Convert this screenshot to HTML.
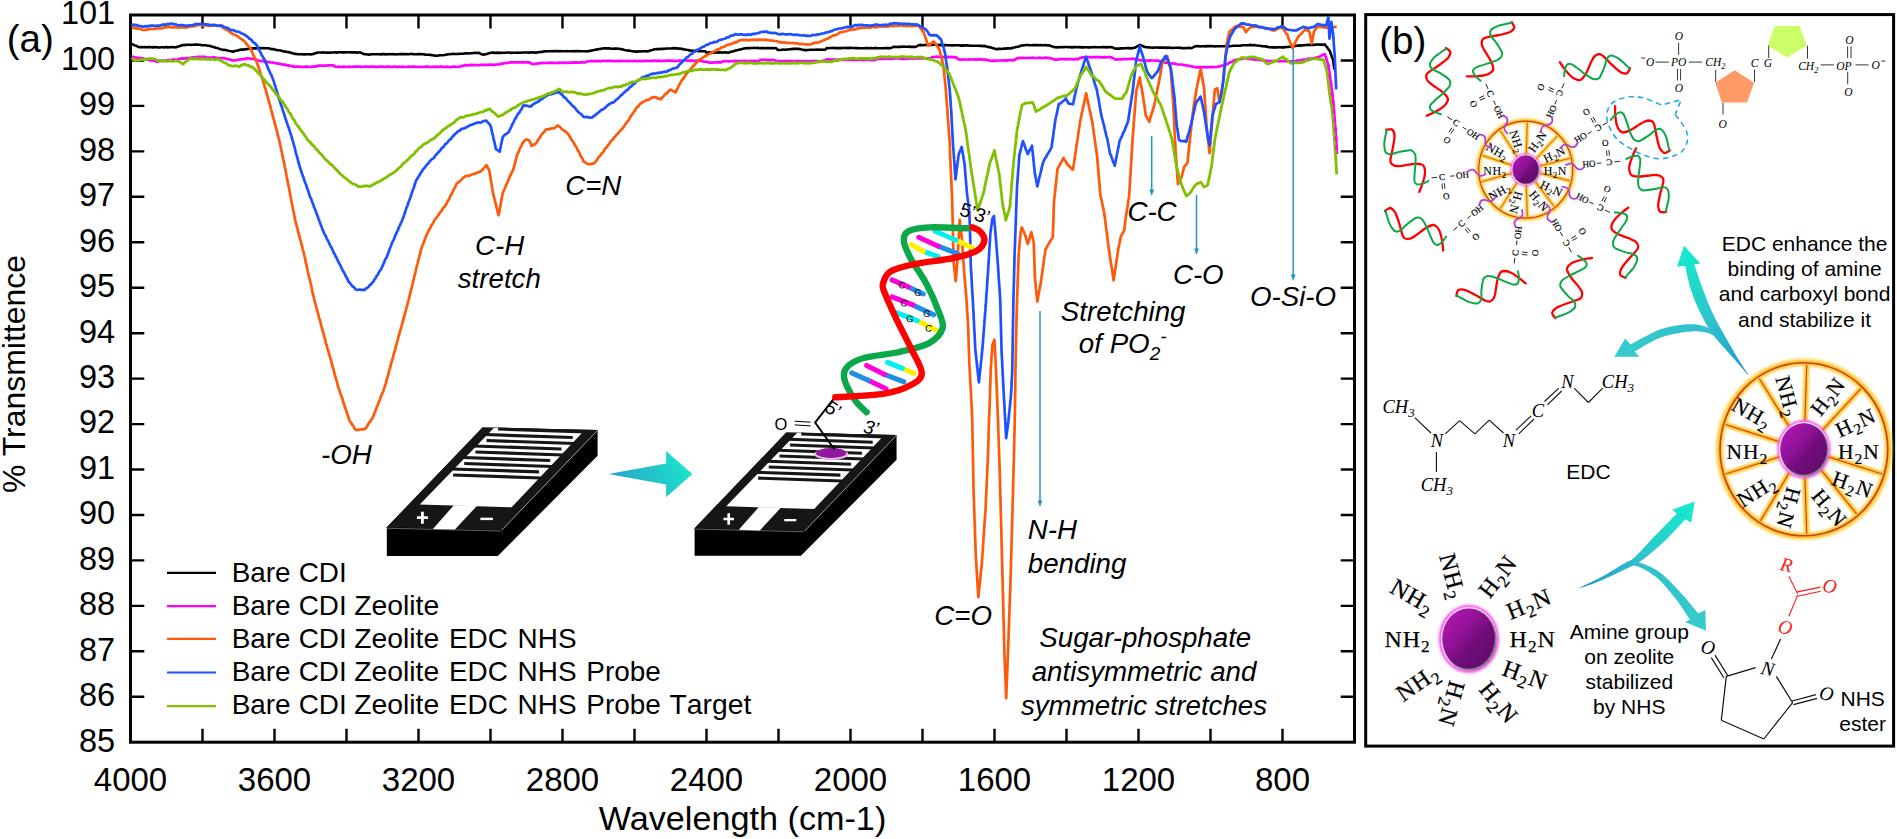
<!DOCTYPE html>
<html><head><meta charset="utf-8"><title>FTIR spectra and EDC/NHS scheme</title>
<style>html,body{margin:0;padding:0;background:#fff}svg{display:block}</style></head><body>
<svg width="1897" height="839" viewBox="0 0 1897 839">
<defs>
<linearGradient id="gArrow" x1="0" y1="0.6" x2="1" y2="0.3"><stop offset="0" stop-color="#2a9fc8"/><stop offset="1" stop-color="#1be8cc"/></linearGradient>
<radialGradient id="gBall" cx="0.35" cy="0.3" r="0.9"><stop offset="0" stop-color="#b314b4"/><stop offset="0.45" stop-color="#860f8c"/><stop offset="1" stop-color="#5a0a63"/></radialGradient>
<linearGradient id="gBallL" x1="0" y1="0" x2="1" y2="1"><stop offset="0" stop-color="#b818ba"/><stop offset="0.42" stop-color="#8e1194"/><stop offset="0.58" stop-color="#720d7a"/><stop offset="1" stop-color="#5e0a67"/></linearGradient>
<linearGradient id="gA1" gradientUnits="userSpaceOnUse" x1="1749" y1="376" x2="1684" y2="246"><stop offset="0" stop-color="#1b94cc"/><stop offset="0.45" stop-color="#2fc2cc"/><stop offset="1" stop-color="#14eccc"/></linearGradient>
<linearGradient id="gA2" gradientUnits="userSpaceOnUse" x1="1749" y1="376" x2="1614" y2="356"><stop offset="0" stop-color="#1b94cc"/><stop offset="0.3" stop-color="#2fbfcc"/><stop offset="1" stop-color="#36cccc"/></linearGradient>
<linearGradient id="gA3" gradientUnits="userSpaceOnUse" x1="1578" y1="588" x2="1695" y2="502"><stop offset="0" stop-color="#1b94cc"/><stop offset="0.45" stop-color="#2fc2cc"/><stop offset="1" stop-color="#14eccc"/></linearGradient>
<linearGradient id="gA4" gradientUnits="userSpaceOnUse" x1="1578" y1="588" x2="1706" y2="630"><stop offset="0" stop-color="#1b94cc"/><stop offset="0.35" stop-color="#2fbfcc"/><stop offset="1" stop-color="#36cccc"/></linearGradient>
<filter id="blur0" x="-20%" y="-20%" width="140%" height="140%"><feGaussianBlur stdDeviation="0.7"/></filter>
<filter id="blur1" x="-20%" y="-20%" width="140%" height="140%"><feGaussianBlur stdDeviation="1.2"/></filter>
<filter id="blur2" x="-20%" y="-20%" width="140%" height="140%"><feGaussianBlur stdDeviation="2"/></filter>
</defs>
<rect width="1897" height="839" fill="#fff"/>
<g id="chart">
<rect x="130.5" y="15" width="1224" height="727.2" fill="none" stroke="#000" stroke-width="3"/>
<path d="M202.5 15v13.5M202.5 742.2v-13.5M274.5 15v13.5M274.5 742.2v-13.5M346.5 15v13.5M346.5 742.2v-13.5M418.5 15v13.5M418.5 742.2v-13.5M490.5 15v13.5M490.5 742.2v-13.5M562.5 15v13.5M562.5 742.2v-13.5M634.5 15v13.5M634.5 742.2v-13.5M706.5 15v13.5M706.5 742.2v-13.5M778.5 15v13.5M778.5 742.2v-13.5M850.5 15v13.5M850.5 742.2v-13.5M922.5 15v13.5M922.5 742.2v-13.5M994.5 15v13.5M994.5 742.2v-13.5M1066.5 15v13.5M1066.5 742.2v-13.5M1138.5 15v13.5M1138.5 742.2v-13.5M1210.5 15v13.5M1210.5 742.2v-13.5M1282.5 15v13.5M1282.5 742.2v-13.5M130.5 696.8h13.8M1354.5 696.8h-13.8M130.5 651.3h13.8M1354.5 651.3h-13.8M130.5 605.9h13.8M1354.5 605.9h-13.8M130.5 560.4h13.8M1354.5 560.4h-13.8M130.5 515h13.8M1354.5 515h-13.8M130.5 469.5h13.8M1354.5 469.5h-13.8M130.5 424.1h13.8M1354.5 424.1h-13.8M130.5 378.6h13.8M1354.5 378.6h-13.8M130.5 333.2h13.8M1354.5 333.2h-13.8M130.5 287.7h13.8M1354.5 287.7h-13.8M130.5 242.2h13.8M1354.5 242.2h-13.8M130.5 196.8h13.8M1354.5 196.8h-13.8M130.5 151.4h13.8M1354.5 151.4h-13.8M130.5 105.9h13.8M1354.5 105.9h-13.8M130.5 60.5h13.8M1354.5 60.5h-13.8" stroke="#000" stroke-width="2.4" fill="none"/>
<polyline fill="none" stroke="#000" stroke-width="2.6" stroke-linejoin="round" points="131.6,44 133.2,44.6 134.8,45.4 136.3,45.8 137.9,46.7 139.5,47.2 141.2,47.1 142.8,47.3 144.5,47.1 146.1,47.3 147.8,47.1 149.5,47.1 151.1,47.3 152.8,47.4 154.4,47.1 156.1,47.2 157.8,47.4 159.4,47.5 161.1,47.3 162.7,47.3 164.4,47.5 166,47.1 167.7,47.4 169.4,47.2 171,47.2 172.7,47.1 174.3,47.2 176,47.4 177.6,46.6 179.2,46.3 180.7,45.8 182.3,45.1 184.1,45.1 185.9,44.9 187.7,44.8 189.4,44.8 191.2,44.9 193,44.7 194.8,44.6 196.6,44.6 198.4,44.7 200.2,44.8 202,45.2 203.9,45.3 205.7,45.3 207.5,45.6 209.3,45.7 210.9,46.3 212.5,46.8 214.1,47.1 215.7,47.8 217.2,48 218.8,48.6 220.4,49.2 222,49.5 223.8,49.9 225.7,50 227.5,50.6 229.3,51 231.2,51.2 233,51.7 234.6,51 236.2,50.8 237.8,50.4 239.4,50 241,49.6 242.8,49.6 244.5,49.4 246.3,49.1 248,49 249.8,48.5 251.5,48.6 253.3,48.4 255,48.4 256.8,48.1 258.4,48 260,48.1 261.6,48.2 263.2,48 264.8,48.3 266.4,48.2 268,48.2 269.6,48.5 271.2,49.1 272.7,49.1 274.3,49.4 275.9,49.8 277.5,50.2 279.1,50.2 280.7,50.6 282.2,51 283.8,51.4 285.4,51.6 287,52 288.5,52.1 290.1,52.6 291.7,52.9 293.3,53.5 294.9,53.9 296.4,53.9 298,54.3 299.8,54.3 301.6,54.3 303.4,54.4 305.1,54.4 306.9,54.3 308.7,54.2 310.5,54.4 312.3,54.3 313.9,53.8 315.4,53.3 317,52.6 318.7,52.5 320.3,52.5 322,52.6 323.6,52.3 325.3,52.7 326.9,52.6 328.6,52.6 330.2,52.6 331.9,52.5 333.5,52.5 335.2,52.3 336.8,52.6 338.5,52.3 340.2,52.3 341.8,52.4 343.5,52.4 345.1,52.4 346.8,52.3 348.4,52.3 350.1,52.4 351.7,52.3 353.4,52.4 355,52.3 356.7,52.6 358.3,52.5 360,52.4 361.6,53 363.1,53.7 364.7,54.3 366.3,54.2 368,54.5 369.6,54.6 371.2,54.3 372.8,54.3 374.5,54.2 376.1,54.2 377.7,54.2 379.3,54.2 381,54.4 382.6,54.1 384.2,54.1 385.8,54.4 387.5,54.2 389.1,54.1 390.7,54.2 392.4,54 394,54.2 395.6,54.4 397.2,54.3 398.9,54.2 400.5,54 402.1,54.1 403.7,54 405.4,54.2 407,54.1 408.6,54.2 410.2,54 411.9,53.9 413.5,54.2 415.1,54.2 416.7,54.2 418.4,54.1 420,54.1 421.8,54.3 423.5,54.3 425.3,54.6 427.1,54.7 428.8,54.8 430.6,54.9 432.4,55.2 434.1,55.4 435.9,55.8 437.7,55.7 439.4,55.3 441.2,55.3 442.9,55.2 444.7,55 446.4,54.6 448.2,54.3 449.9,54.2 451.7,54 453.4,53.9 455.1,54 456.8,54 458.4,53.9 460.1,53.7 461.8,53.7 463.5,53.7 465.2,53.3 466.9,53.4 468.6,53.5 470.3,53.3 471.9,53.2 473.6,53 475.3,52.8 477,53 478.7,52.7 480.3,53.6 481.8,54.3 483.4,54.7 485,54.3 486.6,54.1 488.1,53.6 489.7,53 491.3,52.7 492.9,52.6 494.6,52.9 496.2,52.9 497.9,52.6 499.5,52.9 501.2,52.9 502.8,52.8 504.4,52.7 506.1,52.7 507.7,52.5 509.4,52.5 511,52.9 512.7,52.7 514.3,52.7 515.9,52.8 517.6,52.6 519.2,52.8 520.9,52.7 522.5,52.5 524.2,52.5 525.8,52.5 527.4,52.5 529.1,52.6 530.7,52.4 532.4,52.5 534,52.4 535.7,52.7 537.3,52.4 538.9,52.2 540.5,52 542.1,51.9 543.7,51.4 545.3,51.4 546.9,51.2 548.6,51.2 550.2,51.2 551.9,51 553.5,51.2 555.2,51.1 556.8,51 558.5,51.3 560.1,51.1 561.8,51.2 563.4,51.3 565.1,51.2 566.7,51.1 568.3,51.2 570,51.2 571.6,51.3 573.3,51 574.9,51.2 576.6,51.1 578.2,51.1 579.9,51.3 581.5,51.2 583.2,51.2 584.8,51.3 586.5,51.4 588.1,51.2 589.7,50.9 591.3,50.6 592.8,50.3 594.4,50 596,49.6 597.6,49.4 599.2,49 600.7,48.9 602.3,48.5 603.9,48.3 605.7,48.4 607.5,48.2 609.3,48.4 611,48.6 612.8,48.7 614.6,48.5 616.4,48.6 618.2,48.8 619.8,48.9 621.4,49.2 622.9,49.4 624.5,49.9 626.1,50.3 627.7,50.6 629.3,50.6 630.8,51 632.4,51.3 634,51.4 635.8,51.6 637.6,51.6 639.4,51.3 641.1,51.5 642.9,51.3 644.7,51.3 646.5,51.4 648.3,51.3 649.9,50.6 651.5,50.2 653.1,49.8 654.7,49.2 656.4,49.1 658.1,49 659.8,49.1 661.5,48.7 663.2,48.9 664.9,48.7 666.7,48.5 668.4,48.5 670.1,48.5 671.8,48.4 673.5,48.1 675.2,48.4 676.9,48.2 678.5,48.6 680,48.5 681.6,48.9 683.2,49.1 684.8,49.6 686.4,49.7 687.9,50 689.5,50.4 691.3,50.7 693,50.8 694.8,50.7 696.6,50.7 698.3,51.2 700.1,51.2 701.9,51.3 703.6,51.2 705.4,51.3 706.3,52.6 708,52.5 709.7,52.3 711.4,52.7 713.1,52.6 714.8,52.6 716.5,52.3 718.3,52.6 720,52.3 721.7,52.6 723.4,52.5 725.1,52.4 726.8,52.5 728.5,52.7 730.1,52 731.7,51.6 733.3,51.3 734.9,50.8 736.5,50.3 738,50 739.6,49.5 741.2,49.2 742.8,48.8 744.4,48.4 746,48.2 747.7,48 749.3,48.1 751,48 752.7,48 754.4,47.9 756,48 757.7,47.9 759.4,48.2 761,48.1 762.7,48 764.4,48.1 766.1,48.3 767.7,47.9 769.4,48.2 771.1,48.1 772.8,48.1 774.4,48.2 776.1,48.1 777.7,50 779.4,50 781.1,50 782.9,49.6 784.6,49.7 786.3,49.6 788,49.5 789.7,49.3 791.4,49.1 793.1,48.9 794.9,48.9 796.6,48.7 798.3,48.9 799.9,49.1 801.5,49.5 803.1,49.8 804.8,50.1 806.5,50.1 808.2,50 809.9,49.8 811.6,49.7 813.3,49.7 815.1,49.8 816.8,49.6 818.5,49.7 820.2,49.6 821.9,49.8 823.6,49.8 825.3,49.6 826.8,48 828.4,48.3 830.1,48 831.7,48 833.3,47.9 834.9,48.1 836.6,48.1 838.2,48.1 839.8,48 841.5,48.1 843.1,47.9 844.7,48 846.3,47.9 848,48.1 849.6,47.9 851.2,47.9 852.9,48 854.5,48 856.1,48.1 857.7,48.1 859.4,48.2 861,48.2 862.6,48.2 864.2,48.3 865.9,48.1 867.5,48 869.1,48.3 870.8,48 872.4,48.2 874,48.2 875.6,47.9 877.3,48.2 878.9,48.3 880.5,48.2 882.2,48.2 883.8,48.2 885.4,48 887,48.1 888.7,48.1 890.3,48.2 891.8,47.6 893.4,46.9 895.1,46.8 896.8,47 898.5,46.9 900.2,46.9 901.9,46.7 903.6,46.6 905.4,46.7 907.1,46.7 908.8,46.6 910.5,46.9 912.2,46.8 913.9,46.9 915.6,46.9 917.2,46.1 918.8,45.2 920.4,44.9 922,45.2 923.6,45.1 925.2,45 926.8,44.9 928.4,44.9 930,44.6 931.6,44.9 933.2,44.8 934.8,44.7 936.4,44.8 938.1,45.1 939.7,44.9 941.3,45.1 942.9,45.3 944.5,45.1 946.1,45.1 947.7,45.2 949.3,45.3 951,45.4 952.6,45.3 954.2,45.4 955.8,45.2 957.4,45.3 959,45.3 960.6,45.6 962.2,45.4 963.8,45.6 965.5,45.4 967.1,45.4 968.7,45.6 970.3,45.8 971.9,45.8 973.5,45.8 975.1,45.7 976.7,45.8 978.4,45.8 980,45.9 981.6,45.8 983.2,46.1 984.8,45.9 986.5,46.6 988.2,47.1 989.9,47.1 991.6,47.8 993.3,48.3 995,48.8 996.7,49.1 998.5,48.9 1000.3,48.8 1002.1,49 1003.9,48.6 1005.6,48.6 1007.4,48.4 1009.2,48.4 1011,48.5 1012.7,47.7 1014.4,47.5 1016.1,47 1017.9,46.7 1019.6,46.2 1021.3,45.5 1023,45.4 1024.6,45.2 1026.3,45 1027.9,45 1029.5,45.2 1031.2,45.2 1032.8,45.1 1034.5,45.1 1036.1,45.1 1037.7,45.1 1039.4,45.3 1041,45 1042.7,45.3 1044.3,45.3 1045.9,45 1047.6,45.4 1049.2,45.3 1050.8,46 1052.4,46.4 1054,47.1 1055.6,47.2 1057.3,47.4 1058.9,47.2 1060.5,47.1 1062.2,47.2 1063.8,47.1 1065.4,47 1067.1,47 1068.7,47.3 1070.3,47.1 1072,47.4 1073.6,47.1 1075.2,47.1 1076.9,47.2 1078.5,47.1 1080.1,47.1 1081.8,47.4 1083.4,47.4 1085.1,47.3 1086.7,47.3 1088.3,47.4 1090,47.4 1091.6,47.2 1093.2,47.3 1094.9,47 1096.5,47.3 1098.1,47.2 1099.8,47.3 1101.4,47.3 1103,47.1 1104.7,47 1106.3,47.4 1107.9,47.1 1109.6,47.2 1111.2,47.1 1112.8,47.6 1114.3,48.2 1115.9,48.8 1117.5,48.5 1119.2,48.6 1120.8,48.4 1122.4,48.4 1124,48.3 1125.7,48.2 1127.3,48.1 1128.9,48.1 1130.5,48.4 1132.2,48.1 1133.8,48 1135.3,47.5 1136.8,46.7 1138.3,45.8 1139.8,44.9 1141.3,45.5 1142.8,46 1144.3,46.7 1145.8,47.2 1147.4,47.3 1149,47.4 1150.6,47.5 1152.3,47.7 1153.9,47.6 1155.5,47.5 1157.1,47.5 1158.7,47.6 1160.3,47.6 1161.9,47.6 1163.6,47.5 1165.2,47.6 1166.8,47.9 1168.4,47.6 1170,47.8 1171.6,47.9 1173.2,48 1174.9,47.7 1176.5,47.8 1178.1,47.8 1179.7,47.9 1181.3,47.9 1182.9,48.2 1184.5,48.1 1186.2,48.2 1187.8,47.9 1189.4,47.9 1191,48.2 1192.6,47.6 1194.2,46.8 1195.8,46.2 1197.4,46 1199.1,46.2 1200.7,46.4 1202.3,46.3 1204,46.3 1205.6,46.4 1207.2,46.1 1208.9,46 1210.5,46.1 1212.1,46.2 1213.7,46.3 1215.4,46.4 1217,46.3 1218.6,46.3 1220.3,46.3 1221.9,46.2 1223.5,46.2 1225.2,46 1226.8,46.3 1228.5,46 1230.2,46.2 1231.9,46 1233.6,45.8 1235.3,45.7 1237,45.7 1238.7,45.8 1240.4,45.7 1242.1,45.3 1243.8,45.2 1245.5,45.3 1247.2,45.2 1248.9,45.1 1250.6,44.9 1252.2,45.2 1253.8,45 1255.4,45.3 1257,45.5 1258.6,45.8 1260.2,45.8 1261.9,46.1 1263.6,46.2 1265.3,46.4 1267,46.6 1268.7,47.2 1270.4,47.3 1272.1,47.4 1273.7,47.3 1275.3,47.4 1277,47.5 1278.6,47.3 1280.2,47.2 1281.8,47.4 1283.5,47.4 1285.1,47.1 1286.7,47 1288.3,46.9 1289.9,46.7 1291.5,46.5 1293,46.1 1294.6,46.1 1296.2,45.8 1297.9,45.6 1299.7,45.4 1301.4,45.6 1303.1,45.2 1304.8,45.3 1306.5,44.9 1308.3,44.8 1310,44.9 1311.6,44.7 1313.3,44.9 1314.9,44.7 1316.6,44.5 1318.2,44.5 1319.9,44.6 1321.5,44.6 1323.2,44.7 1324.8,44.4 1326,46 1327.2,47.4 1328.3,49.2 1329.5,50.4 1330.1,51.9 1330.7,53.5 1331.3,55.2 1331.9,57 1332.5,58.6 1333.1,60.1 1333.3,62.1 1333.6,64 1333.8,65.6 1334.1,67.5 1334.3,69.7"/>
<polyline fill="none" stroke="#ff00ff" stroke-width="2.7" stroke-linejoin="round" points="131.6,56.9 133.2,56.8 134.8,57.4 136.4,57.5 138,57.8 139.5,58 141.1,58.2 142.7,58.4 144.3,58.8 145.9,59.1 147.5,59.8 149.1,59.7 150.7,60.4 152.2,60.4 153.8,60.8 155.4,61.3 157,61.7 158.7,61.3 160.4,60.9 162.2,60.9 163.9,60.7 165.6,60.8 167.3,60.2 169,60.1 170.7,60.2 172.4,59.5 174.2,59.5 175.9,59.5 177.6,59.3 179.3,58.8 181,58.6 182.7,58.4 184.4,58.7 186.1,58.2 187.8,58.2 189.6,58.1 191.3,57.6 193,57.4 194.7,57.6 196.4,57.2 198.1,56.9 199.8,56.9 201.5,56.8 203.2,56.9 204.8,56.9 206.5,57.4 208.2,57.5 209.9,57.5 211.6,57.8 213.2,57.4 214.9,57.6 216.6,57.9 218.3,58.2 220,58.3 221.6,58.1 223.3,58.2 225,58.4 226.6,58.8 228.2,59.4 229.8,59.4 231.4,60.2 233,60.5 234.6,60.4 236.2,60.1 237.8,59.9 239.4,59.5 241,59.3 242.6,59.1 244.2,59.1 245.8,58.6 247.4,58.4 249,58.5 250.6,58.6 252.2,58.8 253.7,59.1 255.3,59.7 256.9,59.9 258.5,60.5 260.1,60.8 261.6,61.1 263.2,61.1 264.8,61.3 266.6,61.6 268.3,62 270.1,62.4 271.8,62.5 273.6,62.7 275.3,63.1 277.1,63.4 278.8,63.7 280.6,64 282.2,64.4 283.8,64.6 285.4,64.7 287,65.4 288.6,65.4 290.2,65.9 291.8,66.1 293.4,66.6 295,66.6 296.7,66.7 298.5,66.7 300.2,66.6 301.9,67 303.6,66.8 305.4,66.7 307.1,66.7 308.8,67 310.6,66.8 312.3,66.7 313.9,66.7 315.5,66.4 317.1,66.3 318.7,65.6 320.3,65.5 322.1,65.7 323.9,65.7 325.7,65.7 327.6,65.3 329.4,65.4 331.2,65.3 333,65.3 334.5,66.4 336,66.8 337.6,67 339.2,66.7 340.8,67 342.4,66.8 344,66.7 345.6,66.9 347.2,67 348.8,66.6 350.4,66.8 352.1,66.9 353.7,66.7 355.3,66.7 356.9,66.6 358.5,66.7 360.1,66.7 361.7,66.8 363.3,66.9 364.9,66.7 366.5,66.6 368.1,66.7 369.7,66.9 371.3,66.6 372.9,66.7 374.5,66.7 376.1,66.9 377.7,66.8 379.3,66.6 380.9,66.6 382.6,66.7 384.2,66.8 385.8,66.9 387.4,66.6 389,66.6 390.6,66.9 392.2,66.8 393.8,66.7 395.4,66.7 397,67 398.6,66.7 400.2,66.8 401.8,66.7 403.4,66.8 405,67 406.6,67 408.2,66.7 409.8,66.6 411.4,66.9 413,66.7 414.7,66.6 416.3,67 417.9,66.8 419.5,67 421.1,66.8 422.7,67 424.3,66.8 425.9,66.6 427.5,66.6 429.1,66.8 430.7,66.9 432.3,67 433.9,66.6 435.5,66.9 437.1,66.7 438.7,66.8 440.3,66.6 441.9,66.7 443.5,66.8 445.2,67 446.8,66.6 448.4,66.8 450,67 451.6,67 453.2,66.6 454.8,66.6 456.4,67 458,67 459.6,66.8 461.2,66 462.8,65.9 464.4,65.1 466.1,65.4 467.7,65.2 469.4,65.3 471.1,64.9 472.7,65.2 474.4,64.9 476.1,65 477.7,65.2 479.4,65.1 481.1,64.8 482.8,64.8 484.4,64.8 486.1,64.9 487.8,64.8 489.4,64.6 491.1,64.7 492.8,64.9 494.4,64.9 496.1,64.5 497.7,64.5 499.3,64.3 500.9,63.7 502.5,63.8 504,63.2 505.6,63.1 507.2,62.9 508.8,62.6 510.4,62.2 512.1,62.3 513.9,62.3 515.6,62.3 517.3,62.4 519,62.3 520.8,62.3 522.5,62.1 524.2,62.4 525.9,62.3 527.7,62.2 529.4,62.4 531,63.4 532.6,64.2 534.5,63.8 536.4,63.7 538.3,63.3 540.2,63.1 542.1,63.1 543.7,62.9 545.4,63 547,63 548.7,62.7 550.3,63 552,62.7 553.6,63 555.3,63 556.9,62.8 558.6,62.6 560.2,62.8 561.9,62.7 563.5,62.9 565.1,62.5 566.8,62.8 568.4,62.9 570.1,62.7 571.7,62.7 573.4,62.4 575,62.7 576.7,62.4 578.3,62.7 580,62.6 581.6,62.2 583.3,62.5 584.9,62.5 586.5,61.7 588,61.4 589.6,61.2 591.2,60.9 592.8,61.3 594.4,61 596,61.2 597.6,60.9 599.2,61.1 600.8,61.3 602.4,60.9 604,60.9 605.6,61 607.2,60.9 608.8,60.8 610.4,60.9 612,60.8 613.6,61.2 615.2,61.1 616.8,61.2 618.4,60.8 620,61.1 621.6,60.8 623.2,61 624.8,61 626.4,60.9 628,61.1 629.6,61 631.2,61 632.8,61.1 634.4,60.7 636,61.2 637.6,61 639.2,60.9 640.8,61.1 642.4,60.8 644,61.1 645.6,60.9 647.2,60.8 648.8,61 650.4,60.9 652,60.7 653.6,61 655.2,60.6 656.8,61 658.4,60.7 660,60.9 661.6,61.1 663.2,60.9 664.8,60.9 666.4,60.7 668,60.6 669.6,60.6 671.2,60.6 672.8,60.9 674.4,60.8 676,60.8 677.6,61 679.2,60.6 680.8,60.6 682.4,60.8 684,60.5 685.6,60.5 687.2,60.7 688.8,60.5 690.4,60.7 692,60.6 693.6,60.8 695.2,60.8 696.8,60.6 698.4,60.8 700,60.7 701.6,60.8 703.2,61.6 704.8,61.5 706.3,61.8 707.9,62.1 709.5,62.7 711.4,62.7 713.2,62.6 715,62.4 716.9,62.3 718.8,62.1 720.6,62.4 722.2,61.7 723.8,61 725.5,61.2 727.1,61.1 728.8,61.3 730.4,61.2 732.1,61 733.8,61.3 735.4,60.9 737.1,61.1 738.8,61.1 740.4,61 742.1,60.9 743.7,61.2 745.4,60.9 747.1,61.1 748.7,61.3 750.4,60.9 752.1,60.9 753.7,61.2 755.4,61.1 757,61.2 758.7,61.3 760.3,59.8 762.1,59.9 763.8,59.9 765.6,59.8 767.4,60.2 769.2,60.1 771,60.1 772.7,59.8 774.5,60.2 776.1,60.7 777.7,61.1 779.3,61.2 781,61.1 782.6,61 784.3,60.9 785.9,61 787.6,60.9 789.2,61 790.9,61.2 792.5,61.2 794.1,61.3 795.8,61.2 797.4,61 799.1,61.1 800.7,61.1 802.4,61.2 804,61.1 805.7,61 807.3,61.2 808.9,61.3 810.6,61 812.2,61.3 813.9,60.9 815.5,61 817.2,61 818.8,61.2 820.5,61.3 822.1,61.2 823.7,60.5 825.2,60.2 826.8,59.4 828.4,59.4 830.1,59.7 831.7,59.6 833.4,59.7 835,59.7 836.6,59.8 838.3,59.6 839.9,59.8 841.6,59.8 843.2,59.9 844.9,59.7 846.5,59.8 848.1,59.8 849.8,59.6 851.4,59.6 853.1,59.8 854.7,59.6 856.3,60 858,59.6 859.6,59.6 861.3,59.7 862.9,60.1 864.6,59.8 866.2,59.7 867.8,59.7 869.5,59.7 871.1,60.1 872.8,60 874.4,60.1 876,59.5 877.6,58.6 879.2,58.8 880.9,58.7 882.5,58.9 884.1,58.9 885.8,58.9 887.4,58.5 889,58.9 890.7,58.9 892.3,58.9 893.9,58.5 895.6,58.5 897.2,58.5 898.8,58.4 900.5,58.8 902.1,58.8 903.8,58.7 905.4,58.8 907,58.6 908.7,58.5 910.3,58.3 911.9,58.3 913.6,58.7 915.2,58.4 916.8,58.4 918.5,58.4 920.1,58.2 921.7,58.3 923.4,58.3 925,58.5 926.6,58.4 928.3,58.3 929.9,58.6 931.5,57.6 933.1,57 934.8,56.9 936.5,56.6 938.2,56.8 939.9,56.9 941.6,57.1 943.3,56.9 945.1,57.1 946.8,57.1 948.5,56.9 950.2,57.3 951.9,56.9 953.6,57.3 955.3,57 957,58.1 958.6,59.4 960.2,59.6 961.9,59.7 963.5,59.3 965.1,59.5 966.8,59.5 968.4,59.6 970.1,59.3 971.7,59.5 973.3,59.4 975,59.7 976.6,59.4 978.2,59.7 979.9,59.4 981.5,59.4 983.2,59.6 984.8,59.5 986.4,59.7 988,60.4 989.6,60.5 991.3,60.8 993,60.7 994.7,60.8 996.4,60.6 998.1,60.5 999.8,60.5 1001.5,60.4 1003.2,60.7 1004.9,60.2 1006.6,60.6 1008.3,60.1 1010,60.2 1011.7,60.2 1013.4,60.5 1015,59.5 1016.6,58.6 1018.2,58.1 1019.8,57.8 1021.5,57.9 1023.1,57.9 1024.7,58 1026.4,58 1028,58 1029.6,57.8 1031.3,57.8 1032.9,57.7 1034.5,58.1 1036.1,58 1037.8,58 1039.4,57.7 1041,57.9 1042.7,58 1044.3,57.9 1045.9,57.7 1047.6,57.9 1049.2,58.1 1050.8,58.3 1052.4,58.8 1054,59.4 1055.7,59.6 1057.4,59.6 1059.1,59.2 1060.8,59.2 1062.5,59.2 1064.2,59.2 1065.9,59.3 1067.6,59.1 1069.3,59.2 1071,59.1 1072.7,59.4 1074.4,59.3 1076.1,58.9 1077.8,59.3 1079.4,58.3 1081,57.8 1082.6,57.4 1084.3,57.3 1086,57.3 1087.6,57.2 1089.3,57 1091,57.3 1092.7,57 1094.4,57.1 1096.1,57.1 1097.7,57 1099.4,57.1 1101.1,57.3 1102.8,57.3 1104.5,57.2 1106.2,57.3 1107.8,57.2 1109.5,57 1111.2,57.3 1112.8,57.9 1114.3,58.9 1115.9,59.7 1117.5,59.4 1119.2,59.4 1120.8,59.4 1122.4,59.1 1124,59 1125.7,59.1 1127.3,59.1 1128.9,59 1130.5,58.9 1132.2,58.9 1133.8,58.7 1135.6,59.1 1137.4,59.5 1139.2,59.9 1141,60.6 1142.7,60.3 1144.3,60.5 1146,60.6 1147.7,60.6 1149.3,60.6 1151,60.4 1152.7,60.5 1154.4,60.5 1156,60.6 1157.7,60.5 1159.3,61 1160.9,61.5 1162.5,61.5 1164,62.2 1165.6,62.6 1167.2,62.8 1168.8,63.1 1170.4,63.5 1172,63.3 1173.6,63.7 1175.2,63.7 1176.8,64.2 1178.3,64.5 1179.9,64.5 1181.5,64.5 1183.1,64.9 1184.7,65.1 1186.3,65.4 1187.9,65.6 1189.5,66 1191,66.4 1192.6,66.6 1194.2,66.8 1195.8,67.4 1197.5,67.1 1199.3,67.3 1201,67.1 1202.7,67.3 1204.5,67 1206.2,67.4 1208,67.1 1209.7,67 1211.4,67.1 1213.2,67.1 1214.9,67 1216.5,66.8 1218.1,66.5 1219.7,66.3 1221.2,65.9 1222.8,65.5 1224.4,65.2 1226,64.6 1227.6,63.9 1229.2,62.9 1230.8,62 1232.4,61.5 1234,60.4 1235.6,60 1237.2,59.5 1238.8,59.4 1240.3,59.1 1241.9,58.6 1243.5,58.1 1245.2,58.3 1246.8,58.4 1248.5,58.9 1250.1,58.8 1251.8,59.1 1253.4,59.4 1255.1,59.6 1256.8,59.6 1258.4,59.7 1260.1,60.1 1261.7,60 1263.4,60.6 1265,60.5 1266.7,61 1268.3,60.9 1270,61.1 1271.7,61.1 1273.4,61.2 1275.1,61 1276.8,61 1278.5,61.3 1280.2,61.1 1281.9,61.1 1283.6,61.1 1285.3,61.2 1287,61.2 1288.7,61.3 1290.4,61.3 1292.1,61.1 1293.8,61.4 1295.4,61.1 1297,60.5 1298.6,60.6 1300.1,60.4 1301.7,60.1 1303.3,59.6 1304.9,59.7 1306.5,59.3 1308.1,58.8 1309.7,58.6 1311.3,58.8 1312.8,58.4 1314.4,58 1316,57.6 1317.6,57.4 1319,56.7 1320.5,56.3 1321.9,55.4 1323.4,54.5 1324.8,54.2 1325.3,55.7 1325.8,56.9 1326.3,58.8 1326.8,60.2 1327.3,61.9 1327.8,63.3 1328.3,65 1328.5,66.6 1328.8,68.3 1329,69.6 1329.3,71.5 1329.5,73.1 1329.7,74.9 1330,76.4 1330.2,78.3 1330.5,79.8 1330.7,81.3 1330.9,82.9 1331.1,84.4 1331.3,86.2 1331.5,87.5 1331.7,89.3 1331.9,90.8 1332.1,92.5 1332.3,94.1 1332.5,95.7 1332.7,97.5 1332.9,98.7 1333.1,100.7 1333.2,102.2 1333.4,103.9 1333.5,105.6 1333.7,107.4 1333.8,108.8 1333.9,110.5 1334.1,112.5 1334.2,113.7 1334.4,115.7 1334.5,117.3 1334.7,118.7 1334.8,120.7 1334.9,122.4 1335.1,124.2 1335.2,125.6 1335.4,127.6 1335.5,129 1335.6,130.7 1335.7,132.5 1335.8,133.8 1335.9,135.8 1336,137.4 1336.1,138.9 1336.2,140.8 1336.4,142.3 1336.5,144 1336.6,145.7 1336.7,147.5 1336.8,148.9 1336.9,150.6 1337,152.3 1337.1,154"/>
<polyline fill="none" stroke="#ff5a0a" stroke-width="2.7" stroke-linejoin="round" points="131.6,27.7 133.2,27.5 134.8,28.3 136.4,28.2 137.9,28.6 139.5,28.7 141.1,29.2 142.7,30 144.3,30 146,29.9 147.7,29.3 149.3,29.1 151,28.9 152.7,29 154.4,28.9 156.1,28.9 157.8,28 159.4,28.5 161.1,28.5 162.8,28 164.5,27.3 166.2,27.4 167.8,26.9 169.5,27 171.2,27.5 173,27.2 174.8,27.3 176.6,27.5 178.3,27.7 180.1,27.4 181.9,27.4 183.7,27.5 185.5,27.6 187.1,27.2 188.7,27.1 190.3,26.3 191.9,26.5 193.4,26.1 195,26.1 196.6,25.2 198.2,25 199.8,24.6 201.5,25.4 203.2,25.6 205,25.5 206.7,25.2 208.4,25.8 210.1,25.8 211.8,25.6 213.5,25.4 215.2,25.5 217,25.7 218.7,25.7 220.4,25.8 221.8,26.9 223.2,28.1 224.6,28.1 225.9,29.5 227.3,29.9 228.7,30.8 230.1,32.4 231.5,33.1 233.1,34.3 234.7,34.7 236.3,35.2 237.8,36.5 239.4,37.6 241,38.8 242.6,39.8 243.7,40.6 244.9,41.9 246,43 247.1,44.9 248.2,45.8 249.4,47.1 250.5,48.3 251.2,49.8 251.9,52 252.6,52.9 253.3,55.3 254,55.9 254.7,58.2 255.4,58.9 256.1,60.3 256.8,62.5 257.3,63.6 257.9,65.7 258.4,66.7 258.9,68.2 259.5,70.5 260,72 260.5,73.7 261.1,75.2 261.6,76.1 262.1,78.3 262.7,79.9 263.2,81.3 263.6,83.3 264.1,84.2 264.6,86.5 265,87.9 265.4,88.7 265.9,90.3 266.4,92.6 266.8,94.3 267.2,95.2 267.7,97 268.1,99 268.6,100 269.1,102.3 269.5,103.5 269.9,104.6 270.4,106.5 270.8,108.3 271.2,109.8 271.6,111.6 272.1,112.7 272.5,114.9 272.9,116.1 273.3,117.9 273.8,119.5 274.2,120.9 274.6,122.4 275,124.4 275.5,126.2 275.9,127.6 276.3,129 276.8,130.4 277.2,131.9 277.6,134.5 278.1,135.9 278.5,137.7 278.9,138.9 279.4,140.8 279.8,142.9 280.1,144.3 280.5,145.7 280.8,147 281.1,148.7 281.4,150.8 281.8,151.9 282.1,153.8 282.4,155.3 282.8,157.2 283.1,158.7 283.4,159.8 283.8,161.1 284.1,163 284.4,164.7 284.7,166.5 285.1,168.3 285.4,170 285.7,170.7 286,173.1 286.3,174.7 286.6,176.3 286.9,177.6 287.2,178.9 287.5,181.1 287.9,182.6 288.2,184.1 288.5,185.9 288.8,186.9 289.1,188.2 289.4,190.3 289.7,192.1 290,193.1 290.3,195.2 290.6,197 290.9,197.9 291.2,199.9 291.5,201.5 291.8,202.9 292.1,204.2 292.4,205.9 292.8,207.9 293.1,209.6 293.4,210.8 293.7,212 294,214.3 294.3,215.9 294.6,216.9 294.9,218.9 295.3,220.8 295.7,222.3 296.1,223.5 296.5,225.1 296.9,226.8 297.3,227.9 297.7,229.5 298.1,231.1 298.5,233.2 298.9,234.4 299.3,236.2 299.8,237.6 300.2,239.3 300.6,240.5 301,242 301.4,244.5 301.8,245.4 302.2,246.7 302.6,248.8 303,250.6 303.4,251.5 303.8,253.5 304.2,254.8 304.6,256.6 304.9,257.7 305.3,259.3 305.6,261.8 306,263.2 306.3,264.4 306.7,266.1 307,267.4 307.4,269.5 307.7,270.7 308.1,272.8 308.4,274.2 308.8,275.8 309.1,277.5 309.5,278.4 309.9,279.7 310.2,281.5 310.6,283 310.9,284.5 311.3,286.1 311.6,288.1 312,290 312.3,291.2 312.7,293.2 313,294.8 313.4,295.5 313.7,297.6 314.1,299 314.5,300.3 315,302.7 315.4,303.6 315.8,305.4 316.2,307.1 316.7,308.9 317.1,310.2 317.5,311.5 317.9,313.1 318.4,314.4 318.8,316.8 319.2,318.4 319.6,319.2 320.1,320.5 320.5,322.3 320.9,324 321.3,326.1 321.8,327.7 322.2,329.2 322.6,329.9 323,332.2 323.5,333.7 323.9,335.2 324.3,337.1 324.7,337.8 325.2,339.4 325.6,341.6 326,343.3 326.4,344.6 326.9,345.8 327.3,347.7 327.7,349.4 328.2,350.4 328.6,352.2 329.1,353.7 329.5,355.2 330,357.1 330.4,358.4 330.9,360 331.3,361.5 331.7,363.7 332.2,364.6 332.6,366.9 333.1,367.9 333.5,369.4 334,371.8 334.4,372.7 334.8,375 335.3,376.6 335.7,378.2 336.2,379 336.6,380.9 337.1,382.1 337.5,384.6 338,386.1 338.4,387.4 338.9,388.8 339.4,390.3 340,392.4 340.5,393.6 341,395.3 341.5,396.4 342.1,398.1 342.6,399.5 343.1,401.7 343.6,403.1 344.2,404.3 344.7,406.6 345.2,407.6 345.7,409.3 346.3,410.6 346.8,412.3 347.3,414.4 347.8,415.5 348.4,416.9 348.9,418.8 349.4,420.2 350.3,422.2 351.3,422.8 352.2,425.1 353.2,425.6 354.1,427.9 355.1,429.1 356,430 357.8,430.1 359.5,429.6 361.3,429.4 363,429.1 364.8,429.1 365.8,428.3 366.7,426.9 367.7,425.5 368.6,423.3 369.6,422.1 370.6,421.3 371.5,419.1 372.5,418.4 373.1,416.4 373.7,415.6 374.3,413.1 374.9,412.3 375.6,410.3 376.2,408.6 376.8,406.9 377.4,406.2 378,404.3 378.6,402.4 379.2,401.1 379.8,400.1 380.4,397.8 381,396.6 381.6,394.7 382.3,393.2 382.9,392.2 383.5,390.6 384.1,388.5 384.7,386.9 385.1,385.3 385.6,384.3 386,382.6 386.4,380.8 386.9,379.1 387.3,378 387.7,376.5 388.2,375 388.6,373.2 389,371.3 389.5,369.5 389.9,368.6 390.3,366.7 390.8,365.5 391.2,363.2 391.6,362.4 392,360.4 392.5,359.3 392.9,357.7 393.3,355.8 393.8,353.7 394.2,353.1 394.6,351.1 395.1,349.9 395.5,347.7 395.9,346 396.4,345.1 396.8,343.1 397.2,341.3 397.7,339.9 398.1,338.6 398.5,336.4 399,335.3 399.4,333.7 399.8,332.2 400.3,330.2 400.7,329.2 401.1,327.8 401.6,326.2 402,324.1 402.4,322.9 402.9,321 403.3,319.8 403.7,317.6 404.1,316.8 404.6,315.3 405,313.3 405.4,311.7 405.9,310.2 406.3,308.6 406.7,306.5 407.2,305.9 407.6,303.5 408,301.9 408.5,300.3 408.9,298.9 409.3,297.8 409.7,295.4 410.1,293.9 410.4,292.9 410.8,290.8 411.2,289 411.6,288 412,286.4 412.4,284.8 412.8,283.3 413.2,281.2 413.5,280.3 413.9,278.6 414.3,276.3 414.7,274.8 415.1,273.6 415.5,272 415.9,270.2 416.3,268.4 416.6,267.1 417,265.2 417.4,264.1 417.8,262.8 418.2,260.4 418.7,259.1 419.1,257.6 419.5,255.4 420,254.3 420.4,252.8 420.8,250.5 421.3,248.9 421.7,247.6 422.3,245.7 423,244 423.6,243 424.2,241.3 424.9,239.2 425.5,237.6 426.1,236.1 426.7,234.6 427.4,233.6 428,231.8 428.8,230.5 429.6,229 430.4,227.7 431.2,225.5 432,224.6 432.8,223.6 433.6,222.2 434.4,220.1 435.5,218.9 436.5,217.7 437.6,216 438.6,214.8 439.7,212.9 440.7,211.9 441.8,210.5 442.8,208.6 443.9,207.3 444.7,206.8 445.5,205.2 446.3,204 447.1,202.3 447.9,201.1 448.7,199.8 449.5,198.4 450.3,196.1 451.1,195.2 451.9,193.2 452.7,192 453.5,190 454.2,188.7 455,187.5 455.8,185.6 456.6,183.7 457.9,182.7 459.2,181.5 460.6,180.8 461.9,179 463.2,177.8 464.5,176.9 466.1,175.9 467.7,175.9 469.3,175.8 470.9,174.9 472.4,174.2 474,173.9 475.6,173.5 477.2,172.6 478.8,172.1 480.4,171.6 481.6,170.5 482.8,169.3 484.1,167.9 485.3,166.5 486.5,165.1 487.4,166.9 488.2,168.6 489.1,169.7 489.4,171.3 489.6,172.9 489.9,174.1 490.2,176.2 490.4,177.5 490.7,179.2 491,180.8 491.2,182.3 491.5,183.7 491.8,185.2 492,186.8 492.3,188.7 492.6,190.1 492.8,191.9 493.1,192.9 493.5,194.8 493.9,196.9 494.3,197.9 494.7,199.8 495.1,201.3 495.5,202.7 495.9,205 496.2,205.9 496.6,207.9 497,208.9 497.4,210.4 497.8,212.8 498.2,214 498.6,215.2 498.9,213.9 499.2,212.4 499.5,211.1 499.7,208.9 500,207.4 500.3,206.5 500.6,204.7 500.9,202.6 501.2,201.2 501.5,199.6 501.7,198.3 502,196.7 502.3,195.3 502.6,193.7 503.3,191.8 503.9,190.5 504.6,188.9 505.3,187.3 506,185.4 506.6,184.2 507.3,182.5 508,181.1 508.7,178.8 509.4,177.9 510.1,175.5 510.9,174.7 511.6,172.9 512.3,171.3 513,170.1 513.7,168.2 514.1,166.4 514.5,165.2 514.9,163.7 515.3,161.9 515.7,160 516.1,158.5 516.5,156.9 516.9,155.6 517.6,153.7 518.3,152.3 519,151 519.6,149.3 520.3,147.8 521,146.8 521.7,145.3 522.4,143.5 523.5,142.2 524.5,140.7 525.6,139.6 527.5,139.7 529.3,140.4 530,142.1 530.8,143.4 531.5,146 533.4,144.6 535.2,144.3 536.2,143 537.1,141.8 538.1,139.7 539.1,138.5 540,137.7 541,135.4 541.9,134.1 542.9,133.3 543.9,131.9 544.8,131 545.8,129.5 547.5,129 549.2,129.3 550.9,128.6 552.6,128.3 554.3,128.3 556.1,126.7 558,125.4 559.3,126.7 560.5,127.5 561.8,129.1 563,129.9 564.3,130.8 565.6,131.5 566.8,132.8 568.1,133.9 569,135.5 570,137 570.9,138.7 571.8,140.3 572.7,141.2 573.6,142.6 574.6,144.3 575.5,146.1 576.3,147 577.1,148.7 577.9,150.5 578.7,151.4 579.5,153.1 580.3,155.3 581.1,156.7 581.9,157.9 582.7,159.1 583.5,161.4 585.4,162.5 587.2,164 588.9,164.2 590.7,164.1 592.4,163.6 594.1,163.4 595.1,162.2 596.1,161.1 597.1,159.7 598,158.1 599,156.8 600,155.9 601,154.5 602,153 603.1,152.2 604.1,150.5 605.2,148.5 606.2,147.5 607.3,146.5 608.4,144.6 609.4,143.6 610.5,141.6 611.5,140.5 612.6,139.6 613.8,138 615,136.8 616.2,135 617.4,133.9 618.6,132.7 619.8,131 621,130.1 622.2,128.6 623.2,127.7 624.3,125.9 625.4,124.3 626.4,122.6 627.5,121.3 628.5,120.5 629.4,118.4 630.3,117 631.1,115.6 632,114.6 632.9,113.4 633.8,111.8 634.9,110.6 636,108.5 637.1,107.1 638.2,106.5 639.3,104.7 640.4,103.7 642,102.6 643.6,101.6 645.2,100.9 646.8,99.9 648.3,100 649.9,98.9 651.5,97.8 653.1,97.1 654.7,97.4 656.3,97.4 657.8,98.6 659.4,98.6 661,99.3 662.2,97.6 663.4,96.5 664.6,95 665.8,93.6 666.9,93.3 668.1,92 669.3,90.3 670.5,89.7 672.1,90.6 673.7,91.2 675.3,92.5 676.1,91.4 676.9,89.4 677.7,88.4 678.5,86.2 679.2,84.9 680,83.8 680.8,81.8 681.6,80.4 682.6,79.7 683.6,78 684.6,77 685.5,75.2 686.5,73.8 687.5,72.7 688.5,71.3 689.5,70.8 690.7,68.8 691.9,67.8 693.1,66.1 694.3,65.2 695.5,63.7 696.7,62.5 697.9,60.9 699.1,59.6 700.6,59.5 702.1,58.1 703.6,57.2 705,56.3 706.5,55.5 708,54.6 709.5,53.5 710.9,53.4 712.4,52.3 713.8,51.4 715.2,51.2 716.6,49.8 718.1,49.3 719.5,49.1 720.9,47.6 722.4,47.2 723.8,46.8 725.4,46.2 727,45 728.5,44.6 730.1,44.4 731.7,43.5 733.3,43.5 734.9,42.1 736.5,42.3 738,41.3 739.6,40.4 741.2,40.1 742.9,39.7 744.6,40.3 746.3,39.8 748,40.4 749.7,40.1 751.4,39.8 753.1,39.7 754.7,40 756.4,39.6 758.1,40.3 759.8,39.5 761.5,39.9 763.2,39.9 764.9,39.6 766.6,40.1 768.2,40 769.8,40.5 771.3,40.7 772.9,40.7 774.5,41 776.1,41 777.7,41.4 779.2,42.3 780.8,42.1 782.4,42.7 784.1,42.3 785.9,42.9 787.6,42.8 789.3,43.1 791.1,43 792.8,42.9 794.6,43.3 796.3,43.4 798,43.4 799.8,44.2 801.5,43.9 803.4,44 805.3,44.5 807.2,44.4 809.1,44.5 811,44.5 812.6,43.3 814.2,43.1 815.8,42.4 817.3,42.7 818.9,42.3 820.5,41.6 822,40.9 823.4,40.5 824.9,39.9 826.3,38.8 827.8,38.7 829.3,37.5 830.7,37.1 832.2,36 833.7,35.3 835.1,35.4 836.6,34.6 838,33.9 839.5,32.5 841.1,32.1 842.7,31.9 844.3,31.5 845.9,31.2 847.5,30.9 849,30.1 850.6,30 852.2,29.9 853.8,29.1 855.4,29.3 857,28.7 858.6,28.4 860.3,27.8 862,27.9 863.7,28 865.4,27.6 867.1,27.1 868.8,27.8 870.5,27.7 872.1,27.1 873.8,26.7 875.5,27.4 877.2,27.1 878.9,26.4 880.6,26.5 882.3,26.2 884.1,26.8 885.8,26.1 887.6,26.6 889.4,26.4 891.1,25.6 892.9,26.1 894.7,25.6 896.4,25.9 898.2,25.8 899.9,25.3 901.6,25.2 903.4,26 905.1,25.6 906.8,26.1 908.5,25.9 910.2,26 911.9,26.1 913.6,25.9 915.4,25.8 917.1,25.4 918.8,26.1 920,27.4 921.2,29.1 922.4,31.1 923.6,31.8 924.2,34.1 924.8,35.1 925.4,37.5 926,39.3 926.5,40.4 927.1,42.4 927.7,44.5 928.3,45.8 929.7,44.7 931.1,43.4 932.5,42.3 933.9,41.6 934.8,42.9 935.7,44 936.6,45.5 937.6,46.6 938.5,48.5 939.4,49.8 939.8,50.9 940.2,52.5 940.6,54.4 941,55.9 941.4,58 941.8,59 942.2,60.5 942.6,62.7 943,63.6 943.4,65.6 943.6,67 943.7,69.2 943.9,70.6 944.1,72.6 944.3,73.7 944.4,75.9 944.6,77.5 944.8,79.1 944.9,81.1 945.1,82.8 945.3,83.8 945.5,85.7 945.6,87.5 945.8,89 945.9,90.5 946,92.4 946.2,94 946.3,96.2 946.4,97.6 946.5,98.9 946.6,100.8 946.8,102.6 946.9,104.2 947,105.7 947.1,107.2 947.3,108.8 947.4,111.5 947.5,112.9 947.6,113.9 947.7,116.2 947.9,118.1 948,119.4 948.1,120.6 948.2,122.6 948.3,124.2 948.5,125.6 948.6,127.6 948.7,128.7 948.8,131.3 949,132.7 949.1,134.3 949.2,136.3 949.3,137.6 949.5,138.9 949.6,140.5 949.7,142 949.8,143.6 949.8,146 949.9,147.8 949.9,148.9 950,150.5 950.1,152.6 950.1,154.5 950.2,156.3 950.2,157.2 950.3,159.5 950.4,161.2 950.5,162.7 950.5,163.9 950.6,165.4 950.7,167.7 950.8,168.8 950.8,170.5 950.9,172.3 951,173.8 951.1,175.9 951.1,176.9 951.2,178.3 951.3,180.5 951.4,182.2 951.4,184 951.5,185.5 951.6,187.3 951.7,189 951.7,190.2 951.8,191.8 951.9,193.1 952,194.9 952,196.8 952.1,197.9 952.2,200.2 952.2,201.3 952.3,203.2 952.3,205.3 952.3,206.1 952.4,207.6 952.4,209.7 952.4,211 952.5,213.2 952.5,214.1 952.6,216.6 952.6,218.2 952.6,219.7 952.7,221 952.7,222.5 952.7,224.5 952.8,226 952.8,227.5 952.8,229 952.9,230.7 952.9,232.6 952.9,234.4 953,236.1 953,237 953,238.7 953.1,240.5 953.1,242.2 953.1,243.6 953.2,245.1 953.2,246.6 953.3,248.5 953.3,250.2 953.3,252.4 953.4,253.9 953.4,255.5 953.4,257.2 953.5,258.8 953.5,260.1 953.7,262 953.8,262.9 954,265.2 954.2,266.8 954.3,268.1 954.5,270 954.7,272.1 954.9,273.3 955,275.1 955.2,276.4 955.4,278.1 955.5,280.3 955.7,281.1 955.8,279.6 956,278.5 956.1,276.6 956.3,274.5 956.4,273.5 956.5,271.5 956.7,270 956.8,268.2 956.9,266.7 957.1,265 957.2,263.2 957.4,261.3 957.5,259.7 957.6,258.8 957.7,256.8 957.8,254.7 957.9,253.9 957.9,251.6 958,249.8 958.1,248.6 958.2,246.7 958.3,245.3 958.4,243.8 958.5,241.8 958.6,240.5 958.6,238.4 958.7,237.2 958.8,235.7 958.9,233.5 959,232.2 959.1,230.3 959.2,229 959.3,227.8 959.3,225.9 959.4,224.4 959.5,222.8 959.6,220.5 959.7,219.8 959.9,221.1 960.1,222.1 960.2,224.4 960.4,225.6 960.6,226.9 960.8,229.3 960.9,230.5 961.1,232.3 961.3,233.3 961.5,235.5 961.6,236.4 961.8,238.1 962,239.9 962.1,241.2 962.2,243.4 962.3,244.7 962.4,246.5 962.6,248.5 962.7,249.9 962.8,252.1 962.9,253.5 963,255.4 963.1,256.7 963.2,258.8 963.3,260.4 963.4,261.3 963.6,263.6 963.7,264.8 963.8,266.9 963.9,268.5 964,270.3 964.1,271.3 964.3,273.2 964.4,275.2 964.6,277.1 964.7,278.6 964.8,279.5 965,281.8 965.1,282.9 965.2,285 965.4,287 965.5,287.9 965.7,290.4 965.8,291.8 965.9,293.1 966.1,294.7 966.2,296.6 966.4,298.7 966.5,300.1 966.6,301.3 966.7,302.9 966.8,304.7 966.9,307.1 967,308.2 967.1,310.2 967.2,311.6 967.4,313.7 967.5,315.1 967.6,316.6 967.7,319 967.8,320.4 967.9,322.2 968,324 968.1,325.8 968.2,326.6 968.2,328.6 968.3,330 968.3,332 968.4,334.1 968.4,335.6 968.5,336.5 968.5,338.3 968.6,340.6 968.6,342.1 968.7,343.5 968.7,345.3 968.8,346.6 968.8,348.9 968.9,350.1 968.9,352.3 969,353.7 969,354.8 969.1,356.7 969.1,358.2 969.2,360.6 969.2,361.9 969.3,363 969.4,364.8 969.5,366.7 969.6,368.4 969.7,370.2 969.8,371.6 969.9,373.3 969.9,374.6 970,376.8 970.1,378.2 970.2,379.5 970.3,381.6 970.4,383.8 970.5,384.5 970.6,386.2 970.7,388.4 970.8,389.7 970.9,391.3 971,393.2 971.1,394.6 971.1,396.6 971.2,398.2 971.3,400.3 971.4,401.9 971.5,402.6 971.6,404.8 971.7,406.7 971.8,408.5 971.8,410.1 971.9,411.6 972,413.3 972,414.8 972.1,416.4 972.1,418.6 972.2,420.4 972.2,422.1 972.3,423.4 972.3,424.7 972.3,426.8 972.4,428.4 972.4,429.8 972.4,431.5 972.5,432.9 972.5,434.7 972.5,436.2 972.6,437.5 972.6,439.4 972.6,441 972.6,443.3 972.7,444.4 972.7,445.9 972.7,447.4 972.8,449 972.8,450.8 972.8,452.2 972.9,453.7 972.9,456.2 972.9,457.4 973,459 973,460.8 973,462.1 973.1,463.6 973.1,465.1 973.1,467 973.2,468.6 973.2,470.7 973.2,472.1 973.2,474.1 973.3,475.2 973.3,477.4 973.3,478.7 973.4,479.8 973.4,481.5 973.4,483.5 973.5,485.6 973.5,486.6 973.5,488.6 973.6,489.9 973.6,492 973.7,492.8 973.7,494.8 973.8,496.8 973.8,497.8 973.9,499.4 973.9,500.8 974,502.5 974,504.2 974.1,506.3 974.1,507.4 974.2,509.2 974.3,510.6 974.3,512.6 974.4,514.5 974.4,515.9 974.5,517.1 974.5,519.2 974.6,521 974.6,522.3 974.7,523.4 974.8,525.7 974.8,527.4 974.9,528.5 974.9,529.9 975,531.5 975,533.5 975.1,535.4 975.1,536.8 975.2,538.7 975.2,539.6 975.3,541.3 975.4,543.4 975.4,544.9 975.5,546.2 975.5,548.1 975.6,549.4 975.6,550.7 975.7,552.7 975.7,553.9 975.8,556.1 975.9,557.5 976,559.3 976.1,561 976.2,562.3 976.3,564.2 976.4,565.4 976.5,567.9 976.6,569.2 976.7,571.3 976.8,572 976.9,574.2 977,576 977.1,577.2 977.2,578.6 977.3,580.3 977.4,581.9 977.5,584.2 977.6,585.2 977.7,587.6 977.8,588.8 977.9,590.6 978,592.3 978.1,593.9 978.2,595.6 978.3,597.2 978.5,595.3 978.6,594.1 978.8,592 979,590.8 979.2,589.3 979.3,587.7 979.5,585.6 979.7,584.4 979.8,583 980,580.9 980.2,579.1 980.4,577.7 980.5,576.5 980.7,574.1 980.9,572.3 981,571.2 981.2,569.7 981.4,568.2 981.6,566.2 981.7,565.2 981.9,562.8 982,561.7 982.1,559.4 982.2,557.7 982.3,556.2 982.4,554.5 982.6,553.3 982.7,551.8 982.8,549.8 982.9,548.9 983,546.7 983.1,544.8 983.2,543.3 983.3,542.2 983.4,540.7 983.5,538.4 983.6,536.6 983.8,535.7 983.9,533.6 984,532.7 984.1,530.6 984.2,529.1 984.3,527.1 984.4,526 984.5,524 984.6,522.2 984.7,521.2 984.8,518.8 985,517.8 985.1,515.5 985.2,514.4 985.3,512.6 985.4,511.4 985.5,509 985.6,507.8 985.7,506.1 985.7,504.9 985.8,503.3 985.9,501.4 986,499.4 986,497.8 986.1,496.2 986.2,494.7 986.3,492.9 986.3,491.2 986.4,490.2 986.5,488.4 986.6,486.5 986.6,485.5 986.7,483.1 986.8,481.9 986.9,479.8 986.9,478.9 987,477.3 987.1,475.1 987.2,473.9 987.2,472.4 987.3,470.2 987.4,468.6 987.5,467.2 987.5,465.9 987.6,463.6 987.7,462.5 987.8,460.8 987.8,459 987.9,457.5 988,456.2 988,453.9 988.1,452.9 988.1,450.8 988.2,449.6 988.2,448 988.3,445.7 988.3,444.8 988.4,443.3 988.4,441 988.5,439.1 988.5,437.5 988.5,436.7 988.6,434.2 988.6,433.4 988.7,431 988.7,430 988.8,427.7 988.8,426.2 988.9,425.1 988.9,422.8 989,421.5 989,420.4 989.1,418.5 989.1,417 989.2,415.4 989.3,412.7 989.4,411.2 989.5,410.1 989.5,408.3 989.6,405.9 989.7,404.7 989.7,402.8 989.8,401.4 989.8,399.4 989.9,397.6 989.9,397 990,394.6 990,393.5 990.1,391.1 990.1,389.8 990.2,387.8 990.2,386.5 990.3,384.5 990.3,383.4 990.4,381.2 990.4,380.1 990.5,378.2 990.5,376.2 990.6,374.8 990.6,373.3 990.7,372 990.7,369.8 990.8,368 990.9,367.1 991,365.3 991.2,363.4 991.3,361.2 991.4,359.4 991.5,357.8 991.6,355.9 991.8,354.2 991.9,352.9 992,351.1 992.1,349.6 992.3,347.7 992.4,345.6 992.5,344.6 993.1,343 993.8,341.3 994.4,339.7 994.5,341.6 994.6,343.5 994.7,345.1 994.8,346.7 994.8,348 994.9,349.6 995,351.4 995.1,353.6 995.2,354.7 995.3,356.4 995.4,358.1 995.5,359.5 995.6,362.1 995.6,362.8 995.7,365.1 995.8,367.1 995.9,368.1 996,370.1 996.1,371.5 996.1,373 996.2,374.5 996.3,376.1 996.3,378.4 996.4,380 996.5,381.7 996.5,382.5 996.6,384.7 996.6,386 996.7,387.9 996.8,389.4 996.8,390.8 996.9,393.1 997,393.7 997,396.1 997.1,397.8 997.2,399 997.2,400.7 997.3,402.8 997.4,403.6 997.4,405.6 997.5,407.3 997.5,408.6 997.6,410.5 997.7,411.8 997.7,413.6 997.8,415.3 997.9,417 997.9,418.2 998,420.1 998.1,421.7 998.1,423 998.2,425 998.2,426.3 998.3,428.5 998.3,429.7 998.4,431.6 998.4,433 998.5,434.6 998.5,436 998.6,437.5 998.7,440 998.7,441.2 998.8,442.8 998.8,444.4 998.9,446.3 998.9,447.4 999,449 999,451.2 999.1,452.5 999.1,454.3 999.2,456.1 999.3,457.8 999.3,459.4 999.4,460.2 999.4,462.2 999.5,464.3 999.5,465.9 999.6,466.8 999.6,468.5 999.7,470.2 999.7,471.7 999.8,473.6 999.8,475.6 999.9,476.9 999.9,478.5 1000,479.7 1000,481.6 1000.1,483.8 1000.1,485.1 1000.1,486.5 1000.2,488.1 1000.2,490 1000.3,491.6 1000.3,492.6 1000.3,494.7 1000.4,496 1000.4,497.7 1000.5,499.1 1000.5,500.8 1000.6,502.4 1000.6,504 1000.6,505.2 1000.7,507 1000.7,509 1000.8,510.1 1000.8,511.8 1000.8,514 1000.9,515.1 1000.9,516.8 1001,518.3 1001,520.5 1001.1,521.3 1001.1,523.5 1001.1,525.3 1001.2,526.3 1001.2,528.1 1001.3,530 1001.3,531.5 1001.3,532.8 1001.4,534.1 1001.4,536.1 1001.5,537.6 1001.5,539.6 1001.6,540.8 1001.6,542.5 1001.6,544.3 1001.7,546.1 1001.7,547.2 1001.8,548.9 1001.8,550.7 1001.8,552.6 1001.9,553.5 1001.9,555.8 1002,557.2 1002,558.5 1002.1,560.3 1002.1,561.6 1002.1,563 1002.2,565.2 1002.2,566.5 1002.3,568.2 1002.3,569.8 1002.3,571.8 1002.4,573.2 1002.4,574.1 1002.5,576.3 1002.5,577.8 1002.6,579.4 1002.6,581.3 1002.6,582.5 1002.7,584.2 1002.7,586.3 1002.8,587.4 1002.8,589.1 1002.8,590.8 1002.9,592.7 1002.9,594.2 1003,595.9 1003,597.2 1003,598.4 1003.1,600.7 1003.1,602.2 1003.2,604.1 1003.2,605.7 1003.3,606.7 1003.3,608.4 1003.3,609.9 1003.4,612.2 1003.4,613.1 1003.5,614.8 1003.5,617.1 1003.5,618.5 1003.6,619.6 1003.6,621.9 1003.7,623.5 1003.7,624.9 1003.7,626.1 1003.8,628.4 1003.8,629.7 1003.9,631.5 1003.9,633.6 1004,635 1004,636.7 1004,637.6 1004.1,639.4 1004.1,641.2 1004.2,642.3 1004.2,645 1004.2,645.9 1004.3,647.5 1004.3,649.2 1004.4,650.7 1004.4,653 1004.5,654.3 1004.5,655.9 1004.6,657.4 1004.7,658.7 1004.7,660.6 1004.8,662.8 1004.9,664.4 1004.9,666 1005,667.1 1005,668.7 1005.1,670.1 1005.2,672.3 1005.2,673.7 1005.3,675.5 1005.4,677.1 1005.4,678.9 1005.5,680.3 1005.6,682.3 1005.6,683.4 1005.7,685.7 1005.8,687 1005.8,688.1 1005.9,690 1005.9,691.9 1006,693.4 1006.1,695.2 1006.1,696.6 1006.2,698.2 1006.3,697.1 1006.3,694.9 1006.4,693.7 1006.5,692.2 1006.5,690.3 1006.6,688.5 1006.7,687.4 1006.7,685.3 1006.8,684.1 1006.8,681.6 1006.9,680.3 1007,678.9 1007,676.7 1007.1,675.9 1007.2,673.4 1007.2,672.3 1007.3,670.3 1007.4,669.4 1007.4,667.4 1007.5,666 1007.5,664 1007.6,662.6 1007.7,661 1007.7,658.9 1007.8,657.2 1007.9,656.2 1007.9,653.9 1008,653 1008.1,650.7 1008.1,648.9 1008.2,647.3 1008.2,646.4 1008.3,644.9 1008.3,642.8 1008.4,641.4 1008.5,639.3 1008.5,638.4 1008.6,636.5 1008.6,634.4 1008.7,632.6 1008.7,631.6 1008.8,629.4 1008.9,628.5 1008.9,626.4 1009,624.7 1009,623.4 1009.1,621.5 1009.1,620.1 1009.2,618.1 1009.2,617.2 1009.3,615 1009.4,613.9 1009.4,611.6 1009.5,610.6 1009.5,609.1 1009.6,606.9 1009.6,604.9 1009.7,603.7 1009.8,602.3 1009.8,600.3 1009.9,598.9 1009.9,596.9 1010,595.6 1010,594.2 1010.1,592.3 1010.2,590.9 1010.2,588.8 1010.3,587.8 1010.3,585.5 1010.4,584.7 1010.4,583.1 1010.5,581.4 1010.5,579.4 1010.6,577.5 1010.6,576 1010.7,574.7 1010.7,572.9 1010.8,571.7 1010.8,569.2 1010.9,568 1010.9,566.7 1011,564.8 1011,563.2 1011,561.1 1011.1,559.5 1011.1,558 1011.2,557 1011.2,555.3 1011.3,553.1 1011.3,552.2 1011.4,549.6 1011.4,548.6 1011.5,547.3 1011.5,545.1 1011.5,544.1 1011.6,542.1 1011.6,539.9 1011.7,538.6 1011.7,537.1 1011.8,535.2 1011.8,534.1 1011.9,531.9 1011.9,530.9 1012,528.8 1012,526.9 1012,525.8 1012.1,523.7 1012.1,522.5 1012.2,521.1 1012.2,519.3 1012.3,517.6 1012.3,515.5 1012.4,514.4 1012.4,512.3 1012.5,511.3 1012.5,509.1 1012.5,507.9 1012.6,506.1 1012.6,504.5 1012.7,503.1 1012.7,501 1012.8,499.4 1012.8,498.5 1012.9,496.3 1012.9,495.2 1013,493.6 1013,491.6 1013,489.6 1013.1,487.9 1013.1,487.1 1013.2,484.7 1013.2,483.5 1013.2,481.9 1013.3,479.8 1013.3,478.5 1013.4,476.6 1013.4,475.4 1013.5,473.7 1013.5,471.9 1013.5,470.1 1013.6,468.7 1013.6,466.9 1013.7,465.2 1013.7,463.7 1013.7,462.7 1013.8,460.7 1013.8,459.4 1013.9,456.9 1013.9,456.2 1013.9,454.2 1014,452.8 1014,451 1014.1,449.5 1014.1,447.4 1014.1,446.3 1014.2,444.1 1014.2,442.5 1014.3,440.7 1014.3,439.4 1014.3,437.9 1014.4,436.1 1014.4,435 1014.5,432.6 1014.5,431.5 1014.6,429.5 1014.6,428.2 1014.6,426.8 1014.7,425.1 1014.7,422.8 1014.8,421.4 1014.8,420.1 1014.8,418.9 1014.8,416.3 1014.9,415.3 1014.9,413.8 1014.9,412.3 1014.9,410.2 1015,409 1015,407.1 1015,405.9 1015,403.4 1015,402.7 1015.1,400.6 1015.1,399 1015.1,397.1 1015.1,395.6 1015.2,394.5 1015.2,392.8 1015.2,390.7 1015.2,389.3 1015.3,387.5 1015.3,385.9 1015.3,384.3 1015.3,382.8 1015.3,381.9 1015.4,380.3 1015.4,378.5 1015.4,376.5 1015.4,374.9 1015.5,373.6 1015.5,372.1 1015.5,370.4 1015.5,368.6 1015.5,366.6 1015.6,365.4 1015.6,364 1015.6,362.4 1015.6,360.1 1015.7,359.1 1015.7,357.1 1015.7,355.3 1015.7,354.5 1015.8,352.6 1015.8,351.1 1015.8,348.8 1015.8,347.9 1015.9,346.3 1015.9,344.7 1016,342.9 1016,341.3 1016,339.6 1016.1,337.8 1016.1,336 1016.2,334.7 1016.2,333 1016.3,331.5 1016.3,329.3 1016.3,328.3 1016.4,326.2 1016.4,325 1016.5,322.5 1016.5,321.7 1016.5,319.9 1016.6,317.7 1016.6,316.6 1016.7,314.4 1016.7,312.7 1016.8,311.3 1016.8,309.5 1016.8,308.1 1016.9,306.8 1016.9,305 1017,303.4 1017,301.4 1017.1,300.1 1017.1,298.5 1017.2,296.7 1017.2,295.4 1017.3,293.6 1017.4,291.5 1017.4,289.6 1017.5,288.5 1017.5,287 1017.6,284.9 1017.6,283.5 1017.7,282.1 1017.8,280.4 1017.8,278 1017.9,276.8 1017.9,274.7 1018,273.1 1018.1,272.2 1018.1,270.2 1018.2,268.7 1018.2,266.9 1018.3,265.1 1018.3,263.4 1018.4,261.9 1018.5,260.7 1018.5,258.9 1018.6,256.9 1018.6,255 1018.7,253.6 1018.8,252.4 1019,250.4 1019.1,249 1019.3,247.5 1019.4,245.2 1019.6,244.1 1019.7,241.8 1019.9,241 1020,238.7 1020.2,237.1 1020.3,236.2 1020.5,233.9 1020.6,232.1 1021,231 1021.4,229 1021.8,227.5 1022.5,228.7 1023.2,230.5 1024,232.6 1024.7,233.8 1025.4,236 1025.9,236.9 1026.3,239.4 1026.8,240.4 1027.2,242.6 1027.7,243.8 1028.2,242.3 1028.7,241.4 1029.2,239.2 1029.8,237.9 1030.3,235.6 1030.8,234 1031.3,232.1 1031.7,234.1 1032.1,236 1032.5,237.2 1032.9,238.6 1033.3,240.8 1033.7,242.3 1033.8,243.7 1033.8,244.7 1033.9,246.9 1033.9,248.4 1034,250.5 1034,251.5 1034.1,253.5 1034.1,255.1 1034.2,256.4 1034.2,258.2 1034.3,260 1034.4,261.8 1034.4,263.1 1034.5,264.5 1034.5,266.8 1034.6,267.5 1034.6,269.9 1034.7,271.4 1034.7,272.9 1034.8,274.4 1034.8,276.3 1034.9,278.1 1035.1,279.6 1035.2,281.3 1035.4,282.3 1035.6,284.3 1035.8,285.8 1035.9,288.4 1036.1,290 1036.3,290.9 1036.4,293.1 1036.6,294.8 1036.8,295.9 1037,298 1037.1,300 1037.3,301.6 1037.6,299.7 1037.9,298.6 1038.2,296.5 1038.5,295.2 1038.8,293.5 1039,292.4 1039.3,290.5 1039.6,289.1 1039.9,287.4 1040.2,285.5 1040.5,284.5 1040.8,282.6 1041,281 1041.3,279 1041.5,277.3 1041.7,276.1 1041.9,274.8 1042.2,273.2 1042.4,271.1 1042.6,269.4 1042.9,268.1 1043.1,266.9 1043.3,264.6 1043.5,263.6 1043.8,261.5 1044,260 1044.2,258.2 1044.5,256.8 1044.7,255.3 1044.9,254.3 1045.1,252.7 1045.4,250.4 1045.6,248.9 1046.5,248.1 1047.4,245.8 1048.3,244.5 1049.2,243.1 1050.1,241.3 1051,239.9 1051.9,238.6 1052.8,237.1 1052.9,236 1052.9,233.6 1053,231.9 1053,230.9 1053.1,228.8 1053.1,227.5 1053.2,225.6 1053.3,224.1 1053.3,222 1053.4,220.1 1053.4,219.1 1053.5,217.1 1053.5,215.5 1053.6,214 1053.7,212.4 1053.7,210.2 1053.8,208.6 1053.8,207.5 1053.9,205.5 1053.9,203.6 1054,202.2 1054.2,200.2 1054.3,199 1054.5,196.6 1054.7,195.7 1054.9,193.8 1055,191.9 1055.2,190.8 1055.4,188.5 1055.6,186.8 1055.8,185 1055.9,183.8 1056.1,182.3 1056.3,180.6 1056.5,178.6 1056.6,177.4 1056.8,175 1057,173.5 1057.2,172.2 1057.3,170.8 1057.5,168.8 1058.4,167.4 1059.2,165.9 1060.1,164 1060.9,163 1061.8,161.3 1062.6,159.4 1063.5,157.9 1064.4,159.8 1065.3,160.8 1066.2,162.2 1067.1,164.4 1068.3,165.2 1069.5,166.4 1070.6,167.7 1071.8,169.1 1073,169.5 1073.2,168.1 1073.5,166.1 1073.7,164.8 1074,163.2 1074.2,161.9 1074.4,160.1 1074.7,158.3 1074.9,156.5 1075.2,155 1075.4,153 1075.6,151.9 1075.9,150.2 1076.1,148.6 1076.4,146.2 1076.6,145.1 1076.8,143.6 1077.1,141.7 1077.3,140.5 1077.6,138.9 1077.8,137.2 1078,135.7 1078.3,133.9 1078.5,132.5 1078.8,130.2 1079,129.2 1079.2,127.6 1079.5,125.9 1079.7,124 1080,122.2 1080.2,121.1 1080.5,119.7 1080.9,117.5 1081.2,115.9 1081.6,114.3 1081.9,112.5 1082.3,111.5 1082.6,110.2 1083,108.4 1083.3,106.4 1083.7,105.1 1084,102.8 1084.4,102 1084.7,99.9 1085.1,97.9 1085.4,97 1085.8,94.9 1086.1,93.4 1086.5,94.8 1086.8,96.8 1087.2,98.5 1087.5,100.4 1087.9,101.2 1088.2,103.6 1088.6,104.5 1088.9,106.2 1089.3,108.2 1089.6,109.6 1090,111.2 1090.3,113 1090.7,114.3 1091,116.5 1091.4,117.5 1091.7,119.7 1092.1,121.3 1092.3,122.6 1092.6,123.7 1092.8,126 1093,126.9 1093.2,129 1093.5,130.5 1093.7,131.7 1093.9,133.9 1094.2,135.5 1094.4,137 1094.6,138.4 1094.8,140.1 1095.1,141.8 1095.3,143 1095.5,145.2 1095.8,146.9 1096,148.3 1096.2,150.1 1096.4,151 1096.7,153.3 1096.9,154 1097,156 1097.2,157.3 1097.3,159.2 1097.5,161.1 1097.6,162.7 1097.7,164.1 1097.9,165.6 1098,167 1098.2,168.9 1098.3,170.4 1098.4,171.9 1098.6,174.1 1098.7,175.5 1098.9,177 1099,178.4 1099.1,180.5 1099.3,181.6 1099.4,183.3 1099.6,185.2 1099.7,187 1099.8,188.9 1100,190.3 1100.1,192.1 1100.3,193.7 1100.4,195.1 1100.8,196.8 1101.1,197.8 1101.5,199.6 1101.8,201.1 1102.2,203.6 1102.6,205.1 1102.9,206.7 1103.3,208 1103.6,209.8 1104,211.3 1104.2,213.3 1104.4,215.3 1104.6,216.2 1104.8,217.6 1105.1,219.3 1105.3,221.1 1105.5,223.3 1105.7,224.8 1105.9,226.1 1106.1,227.3 1106.3,228.9 1106.5,230.6 1106.8,232.8 1107,234.1 1107.2,236.3 1107.4,237.8 1107.6,239.3 1107.8,240.7 1108,242.7 1108.2,243.7 1108.4,245.3 1108.6,247.5 1108.8,249.1 1109.1,250.4 1109.3,252.1 1109.6,253.5 1109.8,256 1110.1,257.5 1110.3,259.3 1110.6,261 1110.8,262.1 1111.1,264 1111.3,265.3 1111.6,267.4 1111.8,269 1112.1,269.9 1112.3,271.5 1112.6,273.3 1112.8,275.3 1113.1,276.7 1113.3,278 1113.6,280.4 1113.8,278.8 1114.1,276.8 1114.3,274.7 1114.6,274 1114.8,272 1115.1,269.9 1115.3,268.5 1115.6,267.2 1115.8,265.8 1116.1,263.8 1116.3,262.3 1116.6,260.2 1116.8,258.6 1117.1,257.7 1117.3,255.5 1117.6,253.6 1117.8,252.5 1118.1,250.4 1118.3,248.8 1118.6,247.4 1119,245.8 1119.3,244.1 1119.7,242.5 1120,240.5 1120.4,238.5 1120.7,237.4 1121.4,235.3 1122.1,234.3 1122.9,232.8 1123.6,231.6 1124.3,230.2 1124.5,227.9 1124.7,226.5 1124.9,224.7 1125.1,222.6 1125.3,220.5 1125.5,219.4 1125.8,217.5 1126,215.3 1126.3,213.9 1126.5,213 1126.8,210.7 1127,209.2 1127.3,208 1127.6,206.4 1127.8,204.6 1128.1,203.1 1128.3,200.8 1128.6,199.2 1128.8,198.5 1129.1,196.7 1129.2,194.3 1129.3,192.7 1129.4,191.2 1129.5,190.3 1129.6,187.9 1129.7,186.8 1129.8,185.4 1129.9,183.5 1130,182.1 1130.1,179.8 1130.2,178.1 1130.3,176.3 1130.4,175.4 1130.5,173.1 1130.6,172.4 1130.7,170.5 1130.8,168.3 1130.9,167.3 1131,165 1131.1,163.7 1131.2,161.7 1131.3,160.7 1131.4,159.2 1131.5,157.6 1131.6,155 1131.7,154.3 1131.8,152.3 1131.9,151 1132,149 1132.1,147.5 1132.2,145.8 1132.3,144.4 1132.4,142 1132.5,140.4 1132.6,139.2 1132.7,137.3 1132.8,135.8 1133,133.8 1133.1,132.9 1133.2,130.5 1133.3,129.7 1133.5,128 1133.6,126 1133.7,124 1133.8,122.9 1134,120.8 1134.1,119.4 1134.2,117.4 1134.3,116.6 1134.5,114.6 1134.6,112.7 1134.7,110.8 1134.8,109.8 1135,108.3 1135.1,106.7 1135.2,104.3 1135.3,102.9 1135.5,101.2 1135.6,100 1135.7,97.7 1135.8,96.5 1136,95.3 1136.1,93.4 1136.2,91 1136.6,89.5 1137,87.9 1137.4,86.9 1137.8,85.2 1138.2,83.6 1138.6,81.9 1139,80.3 1139.4,78.9 1139.8,77.3 1140.1,79.3 1140.4,80.7 1140.6,82.5 1140.9,84.2 1141.2,85.8 1141.5,87.3 1141.7,88.3 1142,90.6 1142.3,92.4 1142.6,93.7 1142.8,95.8 1143.1,96.7 1143.4,99.1 1143.6,100.3 1143.9,102.2 1144.1,103.5 1144.4,105.2 1144.6,106.9 1144.8,108.5 1145.1,110 1145.3,112 1145.6,114.2 1145.8,115.6 1146.7,117.3 1147.5,118.6 1148.4,120.2 1149.3,121.8 1149.8,120 1150.3,118 1150.7,116.4 1151.2,115 1151.7,113.1 1152.2,111.7 1152.7,110.8 1153.1,109.3 1153.6,107.2 1154.1,106.1 1154.4,104.5 1154.7,103 1155.1,101.3 1155.4,99.5 1155.7,97.5 1156,96.6 1156.3,94.5 1156.7,93.2 1157,91.4 1157.3,90 1157.6,88.8 1157.9,86.4 1158.3,85.2 1158.6,83.7 1158.9,82 1159.2,80.8 1159.5,78.7 1159.8,77.6 1160.1,75.8 1160.4,74.5 1160.7,72 1160.9,70.6 1161.2,69.1 1161.5,68.1 1161.8,65.6 1162.1,64.3 1162.4,63.1 1163.4,62 1164.3,59.7 1165.3,58.6 1166.2,57.4 1167.2,56 1167.6,57.6 1168,59.2 1168.4,60.3 1168.8,61.9 1169.2,63.3 1169.6,65.5 1170,66.6 1170.4,68.3 1170.8,70.6 1170.9,71.9 1171,73.5 1171.2,75.3 1171.3,76.9 1171.4,78.6 1171.5,79.9 1171.6,81.3 1171.8,83 1171.9,84.6 1172,86.6 1172.1,88.1 1172.2,89.7 1172.4,91.7 1172.5,93.9 1172.6,95.3 1172.7,96.5 1172.8,98.7 1173,99.7 1173.1,101.3 1173.2,103.2 1173.3,105 1173.4,106.9 1173.4,108.3 1173.5,110.2 1173.6,111.2 1173.7,113.7 1173.8,114.8 1173.9,116.9 1173.9,117.7 1174,120.2 1174.1,121.2 1174.2,123.5 1174.3,125.1 1174.4,126.6 1174.4,127.9 1174.5,129.2 1174.6,131.1 1174.7,133.4 1174.8,134.3 1174.9,136.5 1174.9,138 1175,139.7 1175.1,140.9 1175.2,142.5 1175.3,144.1 1175.4,146.6 1175.4,147.7 1175.5,149.6 1175.6,151.2 1175.7,152.5 1175.8,154 1175.9,155.6 1176.1,158.1 1176.2,159.1 1176.3,161.6 1176.4,162.7 1176.5,164.7 1176.6,165.8 1176.8,168.1 1176.9,169.2 1177,171 1177.1,172.8 1177.2,174.1 1177.3,175.9 1177.4,178.1 1177.6,179.3 1177.7,181 1177.8,183.1 1177.9,184.2 1178.6,182.8 1179.3,181.3 1180.1,180.1 1180.8,178.6 1181.5,177.4 1181.9,175.7 1182.3,174.5 1182.7,172.1 1183.1,171.1 1183.5,169.7 1183.9,167.5 1185.1,165.7 1186.3,164.5 1187.5,162.6 1187.7,161.3 1187.8,159.8 1188,157.5 1188.2,155.8 1188.4,154.5 1188.5,152.5 1188.7,150.8 1188.9,149.3 1189,147.3 1189.2,145.6 1189.4,144.2 1189.6,142.6 1189.7,141.3 1189.9,139.3 1190.1,137.1 1190.3,135.7 1190.5,134.5 1190.6,132.7 1190.8,131.4 1191,129.9 1191.2,128.1 1191.4,125.8 1191.6,125 1191.7,122.9 1191.9,121 1192.1,119.3 1192.3,118.4 1192.5,116.1 1192.7,114.3 1192.8,112.9 1193,111.9 1193.2,109.8 1193.4,108.4 1193.7,106.1 1194,104.8 1194.2,103.1 1194.5,101.3 1194.8,100.1 1195.1,98.1 1195.3,96.2 1195.6,95.5 1195.9,93.3 1196.2,91.3 1196.4,89.5 1196.7,88.5 1197,86.7 1197.3,84.6 1197.7,83.4 1198,82.1 1198.3,80.3 1198.6,78.3 1199,77 1199.3,75.5 1199.6,73.9 1199.9,71.8 1200.3,70.8 1200.6,69.3 1200.9,70.8 1201.2,72.6 1201.5,73.8 1201.8,76 1202.1,77 1202.4,78.7 1202.7,80.8 1203,82.8 1203.3,83.6 1203.6,85.5 1203.9,87 1204.2,89 1204.3,90.4 1204.4,92 1204.5,94.2 1204.6,95.7 1204.7,97.7 1204.8,98.8 1204.9,100.7 1205,101.6 1205.1,104.2 1205.2,105.1 1205.3,107 1205.5,108.6 1205.6,110.7 1205.7,111.9 1205.8,114 1205.9,115.3 1206,116.5 1206.1,118.7 1206.2,119.7 1206.3,122.1 1206.4,123.2 1206.5,124.6 1206.7,127 1206.9,128.1 1207,129.9 1207.2,131.5 1207.4,133.5 1207.6,134.5 1207.8,136.6 1208,138 1208.1,140.4 1208.3,141.2 1208.5,143.5 1208.7,144.8 1208.9,146.7 1209.1,148.5 1209.2,150.3 1209.4,151.5 1209.6,153.2 1209.7,151.5 1209.9,150.6 1210,148.2 1210.1,146.5 1210.2,145.2 1210.4,143.6 1210.5,142.3 1210.6,139.8 1210.7,138.3 1210.9,136.6 1211,135.4 1211.1,133.6 1211.2,131.9 1211.4,130.7 1211.5,128.8 1211.6,127.4 1211.7,125.8 1211.9,123.5 1212,122.5 1212.1,120.3 1212.2,118.3 1212.4,117.5 1212.5,115 1212.7,113.3 1212.8,111.9 1213,110.3 1213.1,109.3 1213.2,107.6 1213.4,105.5 1213.5,103.9 1213.7,102.6 1213.9,100.9 1214,99.1 1214.2,97.3 1214.3,95.3 1214.5,93.8 1214.6,92.5 1214.8,90.8 1214.9,89.4 1217.3,88.3 1217.5,90 1217.8,90.9 1218,92.4 1218.2,94.8 1218.5,96.2 1218.7,97.4 1219,99.6 1219.2,100.8 1219.7,99.2 1220.1,97.7 1220.6,96.3 1221.1,94.8 1221.5,92.7 1222,91.7 1222.2,89.9 1222.3,88.1 1222.5,86.6 1222.7,85 1222.9,82.5 1223,81.3 1223.2,79.8 1223.4,78.1 1223.5,76.3 1223.7,74.2 1223.9,73.3 1224.1,71.4 1224.2,69.1 1224.4,67.6 1224.6,66.6 1224.7,64.2 1224.9,62.8 1225,61.8 1225.2,60.1 1225.4,57.9 1225.5,56.8 1225.7,54.8 1225.8,53.5 1226,52 1226.2,49.8 1226.3,48.3 1226.5,46.7 1226.6,45.2 1226.8,43.3 1227.1,41.7 1227.5,40.3 1227.8,38.6 1228.2,36.6 1228.5,35.4 1228.9,34 1229.2,32 1230.6,30.6 1232,29.7 1233.5,28.3 1234.9,26.9 1236.3,26 1238.1,25.8 1239.9,26.8 1241.7,26.6 1243.5,27.1 1244.3,29.2 1245.1,30.6 1245.9,32.2 1247.1,30.7 1248.2,29.4 1249.4,28.2 1250.6,27.2 1252.3,26.5 1254,27.1 1255.7,26.7 1257.5,26.7 1259.2,27.4 1260.9,27.2 1262.6,27.5 1264.3,28.1 1266,28.3 1267.7,28.4 1269.4,28.7 1271.1,29.7 1272.8,30.4 1274.5,30.5 1276.3,29.4 1278,28.5 1279.8,27.7 1281.6,27.4 1282.6,28 1283.6,29.6 1284.7,30.9 1285.7,32.7 1286.7,34.3 1287.4,34.9 1288,36.6 1288.7,39 1289.3,40.6 1290,41.4 1290.6,43.2 1291.3,44.9 1291.9,46.3 1292.6,48 1293.3,46.6 1294.1,44.9 1294.8,43.2 1295.6,41.7 1296.3,40.3 1297.1,38.8 1297.8,37.8 1298.6,36.4 1299.8,34.8 1301,34.1 1302.2,32.8 1303.3,31.2 1304.5,30.2 1305.7,28.7 1307.5,30.6 1309.3,31.5 1309.6,32.7 1310,34.5 1310.3,36.7 1310.7,38.1 1311,40.1 1311.4,41.3 1311.7,43.6 1312,41.9 1312.4,39.5 1312.7,38.3 1313,36.2 1313.3,35 1313.7,33.4 1314,31.7 1315.2,29.6 1316.4,27.9 1317.6,26.9 1319.5,27 1321.4,26.8 1323.3,27.1 1325.2,27.7 1327.1,27.5 1328.7,27.8 1330.3,27.2 1331.9,27.1 1333.5,27 1335.1,26.9 1336.7,26.9"/>
<polyline fill="none" stroke="#1e50ff" stroke-width="2.7" stroke-linejoin="round" points="131.6,24.1 133.2,25.1 134.8,24.8 136.4,25.1 137.9,25.7 139.5,26 141.1,26.2 142.7,26.8 144.3,26.3 146,26.2 147.7,26.4 149.3,25.9 151,25.6 152.7,25.5 154.4,25.9 156.1,25.8 157.8,25.5 159.4,25.6 161.1,25.3 162.8,24.6 164.5,24.5 166.2,24.7 167.8,23.9 169.5,24.3 171.2,23.6 172.8,23.8 174.4,24.4 176,24.3 177.6,25.3 179.1,25.4 180.7,25.2 182.3,25.2 183.9,25.3 185.5,25.9 187.1,25.7 188.7,25.3 190.3,25.5 191.9,25.1 193.4,25.1 195,24.2 196.6,24 198.2,24.1 199.8,24 201.5,23.9 203.2,24.4 205,24.1 206.7,24.3 208.4,24.6 210.1,25 211.8,25.1 213.5,24.9 215.2,25.1 217,25.7 218.7,25.8 220.4,25.6 222,25.7 223.6,26.7 225.2,27.5 226.7,27.7 228.3,28.1 229.9,29.7 231.5,30.2 233.1,30 234.7,30.8 236.3,31.5 237.8,31.7 239.4,32 241,33.2 242.6,33.8 243.9,34.4 245.2,35 246.6,36.3 247.9,37 249.2,38.8 250.5,38.9 251.8,40.4 253,42.1 254.3,42.8 255.5,44 256.8,45.3 257.6,46.9 258.4,48.7 259.2,50.5 260,51.4 260.8,52.9 261.6,55 262.4,56.1 263.2,57.5 264,58.8 264.8,60.4 265.5,62.6 266.1,63.2 266.8,64.8 267.4,66.8 268.1,68.4 268.8,69.9 269.4,70.9 270.1,72.8 270.7,73.9 271.4,75.1 272,76.7 272.7,78.4 273.2,80 273.7,81 274.2,82.6 274.7,85 275.2,85.7 275.7,88 276.2,89.1 276.6,90.6 277.1,92.2 277.6,94 278.1,96.1 278.6,96.8 279.1,99.1 279.6,100.2 280.1,101.6 280.6,103.7 281.1,104.9 281.7,106.4 282.2,108.2 282.7,110.2 283.2,111.8 283.8,113.1 284.3,114.1 284.8,116.5 285.3,117.9 285.9,119.8 286.4,121.4 286.9,122.4 287.4,124.5 288,126 288.5,127.1 289,128.8 289.6,130.5 290.1,132.2 290.6,133.9 291.2,135.3 291.7,137.1 292.2,139.5 292.8,140.6 293.3,142.5 293.7,144.4 294.1,145.9 294.6,147 295,149.2 295.4,150.7 295.8,152.5 296.2,153.9 296.7,155.5 297.1,157.2 297.5,158.2 297.9,160.2 298.3,161.6 298.8,163.6 299.2,164.5 299.6,166.5 300.2,167.9 300.7,170 301.3,171.1 301.8,173.2 302.4,174.8 302.9,176.4 303.5,177.2 304,179.6 304.6,181 305.1,182.5 305.7,184.1 306.3,185.1 306.8,187.5 307.4,188.7 307.9,190.2 308.5,191.7 309,193.7 309.6,195.3 310.1,197 310.7,197.9 311.3,199.6 311.9,201 312.4,202.3 313,204.1 313.6,205.3 314.2,207.6 314.7,208.5 315.3,209.9 315.9,211.4 316.5,213.6 317,214.5 317.6,216.3 318.2,217.8 318.8,219.7 319.4,221.4 319.9,222.2 320.5,224.1 321.1,225.8 321.7,226.9 322.2,228.9 322.8,230.2 323.4,231.3 324.1,233.3 324.8,234.5 325.6,235.5 326.3,237.5 327,239.2 327.8,240.3 328.5,241.8 329.2,243.2 329.9,245.1 330.6,246.4 331.4,247.4 332.1,249 332.8,250.5 333.6,252.5 334.3,253.7 335,254.6 335.8,257 336.6,257.6 337.3,259.7 338.1,261.1 338.9,262.9 339.7,264.2 340.5,265.4 341.2,267.3 342,269.2 342.8,270.7 343.6,271.8 344.4,273.2 345.3,275.2 346.1,276.8 346.9,277.7 347.8,279.9 348.6,281.6 349.4,282.5 350.5,283.7 351.6,285.2 352.7,286.6 353.8,287.1 354.9,288.4 356,289.6 357.8,290 359.5,289.5 361.3,289.8 363,289.8 364.8,290 366.1,288.2 367.4,287.9 368.6,286.7 369.9,285.1 371.2,284.1 372.5,282.3 373.4,281.7 374.2,279.9 375.1,278.8 376,277.5 376.8,275.7 377.7,274.9 378.6,272.8 379.4,271.3 380.3,270.4 381,269.3 381.7,267.7 382.5,266.2 383.2,264.3 383.9,263.1 384.6,261.2 385.3,259.3 386.1,258.2 386.8,256.8 387.5,254.9 388.1,253.6 388.7,251.7 389.3,250.1 389.8,248.7 390.4,247.3 391,245.7 391.6,243.8 392.3,242.2 392.9,241.1 393.6,239.9 394.2,238.5 394.9,236.5 395.5,235 396.2,233.8 396.8,231.9 397.5,230.9 398.1,229.7 398.8,227.5 399.4,226.4 400.1,225 400.7,223.5 401.4,222 402,220.5 402.7,218.6 403.3,217.6 403.8,216.1 404.4,213.6 405,212.9 405.5,210.8 406.1,208.9 406.6,207.3 407.2,206.4 407.8,204.7 408.3,202.6 408.9,201.3 409.5,199.9 410,198.7 410.6,196.4 411.2,195.3 411.7,193.2 412.3,191.5 412.8,189.9 413.4,188.6 414,187.2 414.5,185.3 415.1,183.5 415.6,182 416.2,180.3 417.1,178.9 418,177.5 418.9,176.2 419.8,174.4 420.6,173.2 421.5,171.7 422.4,170.8 423.3,168.8 424.5,168 425.7,166.2 426.9,164.6 428.1,163.7 429.2,162 430.4,160.7 431.6,159.4 432.8,158.7 434,157.7 435.1,155.8 436.3,154.5 437.4,153.3 438.6,151.9 439.7,150.9 440.9,149.4 442,147.8 443.2,147.2 444.3,145.7 445.5,143.8 446.6,143.4 447.8,142.1 448.9,140.5 450,139.6 451.2,138.7 452.3,136.9 453.5,135.8 454.6,134.4 455.7,133.5 456.9,132.4 458,131.2 459.6,130.7 461.2,129.1 462.8,128.6 464.4,128.3 465.9,127.5 467.5,126.6 469.1,125.9 470.7,124.8 472.3,124.6 473.9,123.9 475.4,123.3 477,122.7 478.6,122.3 480.1,122.7 481.7,122.2 483.3,121 484.8,120.9 486.4,120.7 487.8,122.3 489.2,123.8 490.6,125.9 491,127 491.4,128.9 491.7,130.9 492.1,132.3 492.5,133.8 492.9,135.3 493.2,137 493.6,138.9 494,140.8 494.4,141.9 494.8,143.7 495.1,145.4 495.5,147 495.9,149.2 497.1,149.9 498.4,150.7 499.6,151.8 500,150.7 500.3,148.3 500.7,147.2 501,144.9 501.4,143.4 501.7,141.6 502.1,140.7 502.4,138.4 502.8,136.8 504.2,135.3 505.7,134.2 507.2,133.4 508.6,132 509.4,130.7 510.1,129.3 510.9,127.4 511.6,126.3 512.4,124 513.1,123.3 513.9,121.4 514.6,119.7 515.4,118.7 516.1,117.4 517,115.5 518,113.8 518.9,113.2 519.8,111.7 520.7,110.1 521.6,109.1 522.6,106.7 523.5,105.4 525.4,105.6 527.2,105.6 529,106.5 530.9,106.5 532.3,105 533.6,104.1 535,103.2 536.4,102.6 537.8,101.7 539.1,101 540.5,99.5 542.1,99.1 543.7,97.7 545.2,96.7 546.8,95.6 548.4,94.7 550,94.5 551.6,94.2 553.2,93.7 554.8,92.9 556.3,92.6 557.9,92.3 559.5,92.3 560.7,93.9 562,94.4 563.2,96.1 564.4,97.5 565.7,98.1 566.9,99.7 568.1,101.3 569.4,102.3 570.6,103.5 571.8,105.1 572.9,106.1 574.1,107 575.3,108.3 576.5,110.1 577.6,111.2 578.8,112.5 580,113.4 581.2,114.2 582.3,115.4 583.5,116.9 585.3,117.3 587.1,116.7 588.9,117.6 590.7,117.7 592.5,117.5 593.7,115.9 595,115.7 596.2,114.2 597.4,113.4 598.7,112.2 599.9,111.3 601.3,110 602.6,109.6 604,108.6 605.3,107.6 606.7,106.3 608,105 609.4,104.1 611.4,102.9 613.4,102.4 614.7,101.2 615.9,100.1 617.2,99 618.5,98.1 619.8,96.6 621,95.2 622.3,94.5 623.6,92.9 624.8,92.1 626.1,90.6 627.4,90.1 628.7,88.5 630,87.1 631.4,86.5 632.7,84.5 634,84.1 635.3,82.9 636.7,81.2 638,80.8 639.3,79.6 640.7,78.9 642,77.5 643.6,76.8 645.2,76.8 646.8,75.5 648.4,75.7 649.9,74.5 651.5,74.2 653.1,73.5 654.7,73.8 656.3,73.1 657.9,73.2 659.5,72.5 661,72.7 662.6,72.4 664.2,71.6 665.8,71.8 667.4,71.4 669,70.2 670.6,69.9 672.1,68.9 673.7,68.3 675.3,68.2 676.9,67.5 678.1,66.4 679.3,64.7 680.5,63.6 681.6,62.7 682.8,61.4 684,59.9 685.2,59.2 686.4,57.5 687.8,57.1 689.2,55.6 690.6,54.2 692,53.8 693.3,52.2 694.7,51.8 696.1,50.2 697.5,50.1 699.1,48.9 700.7,48.3 702.3,46.9 703.8,46.6 705.4,45.5 707,44.6 708.6,44.4 710.4,43 712.2,42.9 714.1,41.9 715.9,42.1 717.5,41.5 719.1,40.1 720.6,39.9 722.2,39.3 723.8,39 725.4,38.4 727,37.4 728.6,37.4 730.1,36.1 731.7,35.4 733.3,35.5 734.9,34.2 736.7,34.3 738.4,34.6 740.2,34.4 741.9,34.3 743.7,35 745.4,34.6 747.2,34.9 748.9,34.4 750.7,35 752.3,33.9 753.9,34.2 755.5,33.5 757,33.5 758.6,32.9 760.2,32.3 761.8,31.8 763.4,31.8 765,31.6 766.6,31.5 768.2,32.5 769.8,32.7 771.3,32.8 772.9,33.1 774.5,32.8 776.1,33.3 777.7,33.9 779.3,34.3 781,34.3 782.7,33.7 784.3,34.3 786,34.3 787.7,34.3 789.4,34.1 791,34.2 792.7,34.7 794.4,34.8 796.1,34.7 797.7,34.9 799.4,35.2 801.1,35.5 802.8,35.5 804.4,35.1 806.1,36 807.8,35.6 809.4,36 811,35.8 812.6,34.8 814.2,35 815.8,35.2 817.3,34.4 818.9,34.4 820.5,34 822.1,33.5 823.7,33.5 825.3,32.8 826.9,32.4 828.5,32.1 830,31.5 831.6,31.2 833.2,30.4 834.8,29.5 836.4,29.4 838,28.9 839.6,28.5 841.2,28.5 842.7,28.1 844.3,27.5 845.9,27.4 847.5,26.9 849.1,27.2 850.7,26.2 852.3,26.7 853.8,25.5 855.4,25.2 857,25.4 858.6,24.8 860.3,25.1 862,24.7 863.6,25.4 865.3,25.3 867,25.3 868.7,25.5 870.3,25.6 872,25.3 873.7,25.3 875.4,24.6 877,24.6 878.7,25 880.4,25.6 882.1,24.9 883.7,25.2 885.4,24.6 887.1,25 888.7,24.7 890.3,23.6 892,23.9 893.7,23.1 895.4,23.3 897.2,23.3 898.9,24 900.6,23.4 902.3,24.2 904,23.6 905.8,24.3 907.5,23.9 909.2,23.8 910.9,24.5 912.9,24.2 914.8,24.7 916.8,24.4 918.8,25.4 920.1,26.5 921.4,26.5 922.8,28.1 924.1,28.5 925.4,29.3 926.7,30.5 927.8,32.1 928.8,33.7 929.9,35.1 932,35.3 934.1,35.1 936.2,35.3 937.8,36.2 939.4,38.1 941,39.4 941.5,40.8 942,43.1 942.5,44.1 943,45.7 943.5,47.4 944,49.1 944.5,51.2 945,53.1 945.2,54.1 945.5,56 945.7,57.6 945.9,59.2 946.1,60.7 946.4,62.4 946.6,63.4 946.8,65.1 947.1,67 947.3,68.4 947.5,70.7 947.7,71.9 947.9,74.2 948.1,75.3 948.3,76.9 948.5,79 948.7,80.6 948.9,82.3 949.1,84.4 949.3,85.6 949.5,87.8 949.7,89.6 949.8,91 949.9,92.7 950,94.8 950.2,96.2 950.3,97.5 950.4,99.1 950.5,100.8 950.6,102.7 950.7,104.2 950.8,106.4 951,107.9 951.1,109.5 951.2,111.4 951.3,113.5 951.4,114.5 951.5,116 951.6,117.8 951.7,119.4 951.7,121.6 951.8,123.1 951.9,124.4 952,125.8 952.1,127.3 952.2,129 952.3,131.4 952.4,132.8 952.5,133.9 952.5,136 952.6,137.1 952.7,139.2 952.8,140.6 952.9,142 953,144.3 953.1,145.8 953.2,147.2 953.4,148.5 953.5,150.6 953.6,152 953.7,153.9 953.8,154.9 953.9,157.3 954,158 954.1,159.9 954.3,161.7 954.4,163.1 954.5,164.6 954.6,166.8 954.7,168.7 954.8,169.7 954.9,171.2 955,173.2 955.2,174.4 955.3,176.2 955.4,178.1 955.5,179.4 955.7,177.5 955.9,175.7 956.1,174.5 956.3,173.3 956.5,171.6 956.7,169.1 956.9,167.8 957.2,166.1 957.4,164.1 957.6,162.9 957.8,161.1 958,159.7 958.2,157.5 958.4,156.5 958.6,154.7 959.4,152.6 960.2,150.5 960.9,149.1 961.7,146.9 962,149.2 962.3,150.8 962.6,152.4 962.9,154.5 963.2,155.2 963.4,157.5 963.7,159.3 964,160.3 964.3,162.2 964.6,163.6 964.7,165.8 964.9,167.6 965,168.9 965.1,170.9 965.3,172.3 965.4,174.3 965.5,175.6 965.7,177.9 965.8,179.1 966,180.3 966.1,182.1 966.2,184.4 966.4,186.2 966.5,187.7 966.6,188.9 966.8,191.3 966.9,192.8 967.1,193.9 967.3,195.9 967.6,198 967.8,199 968,200.8 968.2,202.8 968.4,205.1 968.6,206.9 968.9,208 969.1,210.3 969.3,211.9 969.4,213.6 969.4,215 969.5,217.1 969.6,218.4 969.6,220.4 969.7,221.7 969.7,223 969.8,225 969.9,226.6 969.9,228.2 970,229.9 970,231.6 970.1,233.3 970.1,234.6 970.1,236.3 970.2,238.1 970.2,239.8 970.3,241.3 970.3,243.2 970.3,244.3 970.4,246.3 970.4,247.7 970.4,249.8 970.5,251.4 970.5,253.1 970.5,254.4 970.6,255.8 970.6,258.1 970.7,259.3 970.7,260.8 970.7,262.3 970.8,264.1 970.8,266 970.9,267.7 971,269 971.1,270.9 971.2,272 971.3,273.9 971.4,275.4 971.5,277 971.6,278.6 971.7,280.7 971.8,282.3 971.8,283.4 971.9,285 972,287.2 972.1,288.7 972.2,290.3 972.3,291.9 972.4,293.6 972.5,294.8 972.6,296.2 972.7,298.1 972.8,299.4 972.9,302 973,303.2 973.1,305 973.1,306.9 973.2,308.4 973.3,309.5 973.4,311.2 973.5,312.6 973.6,315 973.6,316.5 973.7,317.9 973.8,319.5 973.9,321 974,322.9 974.1,324.7 974.1,326.6 974.2,328.2 974.3,329.8 974.4,331 974.5,332.7 974.6,334.2 974.6,336.5 974.7,337.4 974.8,339 974.9,340.8 975,343 975.1,344.6 975.1,345.7 975.2,347.9 975.3,349.6 975.5,350.8 975.7,352.2 975.8,354.5 976,355.8 976.2,357.2 976.4,359.6 976.6,360.8 976.7,362.5 976.9,364.3 977.1,365.7 977.3,367.1 977.5,369.1 977.6,370.8 977.8,372.1 978,374.1 978.2,376.2 978.4,377.4 978.5,379.4 978.7,381.1 978.9,382.3 979.1,380.5 979.2,379.4 979.4,377.7 979.6,375.7 979.8,374 979.9,372.9 980.1,371.3 980.3,369 980.5,367.7 980.6,366 980.8,364.1 981,362.1 981.2,360.7 981.4,359.4 981.5,357.7 981.7,355.9 981.9,353.8 982,352.3 982.2,350.7 982.4,349.1 982.5,347.4 982.6,346.3 982.8,343.9 982.9,343.1 983,340.7 983.1,339.7 983.3,337.4 983.4,336.1 983.5,334.3 983.6,332.3 983.8,331.4 983.9,329.8 984,327.6 984.1,326.4 984.3,324.5 984.4,323.4 984.5,320.8 984.6,319.5 984.8,317.7 984.9,316.4 985,314.9 985.1,313.4 985.3,311.4 985.4,309.6 985.5,308.4 985.6,306 985.8,304.5 985.9,303.4 986,301.4 986.1,300.4 986.2,297.8 986.3,296.6 986.4,294.7 986.5,292.9 986.7,291.4 986.8,289.7 986.9,288.4 987,286.8 987.1,285.3 987.2,283.4 987.3,282.2 987.4,280.4 987.5,279.3 987.6,276.8 987.7,275.5 987.9,273.9 988,272.2 988.1,271 988.2,268.8 988.3,267.8 988.4,265.7 988.5,264 988.6,262.6 988.7,260.9 988.8,259 988.9,257.2 989,256.4 989.1,254.2 989.2,252.3 989.3,251.2 989.4,249.4 989.5,247.6 989.6,245.9 989.7,244.8 989.8,242.7 989.9,241.1 990,240 990.1,237.8 990.2,236.2 990.3,234.3 990.4,233.2 990.6,231.5 990.9,229.6 991.1,227.9 991.3,226.1 991.6,225 991.8,223 992,221.7 992.3,219.5 992.5,218.2 994,216 994.1,217.9 994.3,220.3 994.4,221.7 994.6,223.4 994.7,224.9 994.9,226.6 995,228 995.2,229.6 995.3,231.8 995.5,233.5 995.6,234.8 995.7,236.8 995.9,237.9 996,240 996.1,241.2 996.2,243.1 996.4,244.5 996.5,246.4 996.6,247.6 996.7,249.6 996.9,251.3 997,252.5 997.1,254.3 997.2,256.3 997.4,257.7 997.5,259.4 997.6,261.2 997.7,262.6 997.9,263.9 998,265.7 998.1,267.8 998.2,269.1 998.3,270.9 998.4,272.2 998.5,273.9 998.6,276 998.7,277.5 998.8,278.9 998.9,280 999,282.1 999.1,283.2 999.3,285.7 999.4,287.4 999.5,288.7 999.6,289.9 999.7,292.1 999.8,293.1 999.9,295.3 1000,296.7 1000.1,297.8 1000.2,300.3 1000.3,301.4 1000.3,303.5 1000.4,305 1000.4,306.5 1000.5,308.4 1000.5,309.4 1000.5,311.8 1000.6,312.9 1000.6,314.2 1000.7,316.1 1000.7,317.5 1000.8,319.2 1000.8,321.4 1000.8,322.5 1000.9,324.2 1000.9,326 1001,327.6 1001,329.9 1001,331.5 1001.1,333.1 1001.1,334.9 1001.2,336 1001.2,338 1001.3,339.1 1001.3,341.4 1001.3,342.9 1001.4,344.5 1001.4,345.6 1001.5,347.1 1001.5,349.6 1001.6,350.9 1001.7,352.6 1001.7,354.5 1001.8,355.4 1001.9,357.6 1002,359 1002.1,361 1002.2,362.3 1002.2,363.7 1002.3,366.1 1002.4,367.1 1002.5,369.2 1002.6,370.9 1002.7,372 1002.7,374.1 1002.8,375.4 1002.9,376.9 1003,378.5 1003.1,380.9 1003.2,382 1003.2,383.8 1003.3,385.4 1003.4,386.6 1003.5,388.9 1003.6,390.6 1003.7,392.3 1003.7,393.5 1003.8,395 1003.9,396.7 1004,398.8 1004.1,400.3 1004.2,401.7 1004.3,403.5 1004.4,404.8 1004.5,407.2 1004.5,408.4 1004.6,410 1004.7,411.9 1004.8,413 1004.9,415.2 1005,416.4 1005.1,418.5 1005.2,419.5 1005.3,421.3 1005.4,423.3 1005.5,424.8 1005.6,426.3 1005.6,428.1 1005.7,429.4 1005.8,431.3 1005.9,432.5 1006,434.9 1006.1,436 1006.2,438.2 1006.4,436.3 1006.6,434.7 1006.8,433.1 1007,431 1007.2,430 1007.5,427.9 1007.7,426.9 1007.9,425.2 1008.1,423.4 1008.3,421.9 1008.5,419.9 1008.7,418.5 1008.8,417.1 1009,414.7 1009.2,412.9 1009.3,411.6 1009.5,410 1009.7,408 1009.8,406.4 1010,405.4 1010.2,403.2 1010.3,401.3 1010.5,399.7 1010.7,398.4 1010.8,396.4 1011,395 1011.1,393.3 1011.2,391.6 1011.3,389.9 1011.4,388.6 1011.5,386.1 1011.6,385.3 1011.6,382.9 1011.7,381 1011.8,380 1011.9,378.1 1012,376.4 1012.1,374.4 1012.2,373.3 1012.2,371.2 1012.3,370 1012.3,367.9 1012.3,366.6 1012.3,365 1012.4,363.1 1012.4,361.6 1012.4,359.6 1012.4,358.5 1012.5,356.9 1012.5,354.8 1012.5,353.6 1012.6,352.1 1012.6,349.9 1012.6,349 1012.6,347.4 1012.7,344.9 1012.7,343.5 1012.7,341.7 1012.7,340.3 1012.8,338.5 1012.8,337.2 1012.8,335.4 1012.9,333.8 1012.9,332.3 1012.9,330.6 1012.9,329.4 1013,327.7 1013,325.5 1013,324 1013,322.1 1013.1,320.8 1013.1,319 1013.1,317.9 1013.2,316.4 1013.2,315 1013.2,312.6 1013.2,310.8 1013.3,309.9 1013.3,307.9 1013.3,306.8 1013.3,304.6 1013.4,302.9 1013.4,301.1 1013.4,300.3 1013.5,298.2 1013.5,296.5 1013.6,294.9 1013.6,293.5 1013.6,292 1013.7,290 1013.7,288 1013.8,286.6 1013.8,285.4 1013.9,283.3 1013.9,281.9 1013.9,280.2 1014,278.4 1014,276.9 1014.1,274.9 1014.1,273.6 1014.1,272.3 1014.2,269.8 1014.2,268.5 1014.3,267.3 1014.3,265.8 1014.4,263.2 1014.4,262.2 1014.4,260.5 1014.5,259.1 1014.5,257.1 1014.6,255.1 1014.6,253.6 1014.7,252.4 1014.7,250.8 1014.8,248.7 1014.8,247.5 1014.9,245.9 1015,244.3 1015,242.1 1015.1,240.9 1015.1,239.1 1015.2,237.8 1015.2,235.9 1015.3,234.1 1015.4,233 1015.4,231.1 1015.5,229.9 1015.5,227.8 1015.6,226.5 1015.7,225.1 1015.7,222.8 1015.8,221.8 1015.8,219.6 1015.9,218.8 1015.9,216.3 1016,215.4 1016.1,213.4 1016.1,211.6 1016.2,210.2 1016.2,208.7 1016.3,207 1016.4,205.1 1016.4,203.9 1016.5,202.1 1016.5,201.1 1016.6,199 1016.6,197.4 1016.7,195.6 1016.8,194.7 1016.8,192.5 1016.9,191.2 1016.9,189.7 1017,187.7 1017.1,186.4 1017.2,184.2 1017.4,182.4 1017.5,180.7 1017.6,179.4 1017.7,178.2 1017.8,175.8 1018,174.4 1018.1,173 1018.2,170.9 1018.3,169.1 1018.4,167.8 1018.6,166 1018.7,164.9 1018.8,163.1 1018.9,160.8 1019,159.5 1019.2,157.7 1019.3,155.6 1019.4,154.3 1019.9,153.2 1020.3,150.9 1020.8,149.6 1021.2,148.1 1021.6,145.8 1022.1,145 1022.5,142.5 1023,141.1 1023.6,143.2 1024.2,144.1 1024.8,146.1 1025.3,147.5 1025.9,149.5 1026.5,150.6 1027.1,152.4 1027.7,154.1 1028.6,152.3 1029.4,150.7 1030.3,149.1 1031.1,147.8 1032,145.7 1032.2,148 1032.3,149.2 1032.5,150.7 1032.7,152.3 1032.9,154.5 1033,155.3 1033.2,157.6 1033.4,158.6 1033.5,161.1 1033.7,162.1 1033.9,163.9 1034,165.8 1034.2,166.7 1034.4,168.2 1034.6,170.5 1034.7,172 1034.9,173.7 1035.2,174.9 1035.5,176.8 1035.8,178.1 1036.1,180 1036.4,181.5 1036.7,183.4 1037,184.8 1037.3,186.4 1037.7,185.2 1038,183.1 1038.4,182.2 1038.8,180.3 1039.1,178.5 1039.5,176.8 1039.9,175.7 1040.2,174.1 1040.6,172.8 1041,170.8 1041.4,169.3 1041.7,168.2 1042.1,166.1 1042.5,165.2 1042.8,163.6 1043.2,162.1 1044,160.6 1044.9,158.5 1045.7,157.6 1046.6,156 1047.4,154.2 1048.2,153.5 1049.1,151.7 1049.9,150.5 1050.8,148.8 1051.6,146.9 1051.8,146 1052,143.7 1052.3,142.1 1052.5,140.8 1052.7,138.8 1053,137.4 1053.2,136 1053.4,133.7 1053.6,132.7 1053.8,130.5 1054.1,129.2 1054.3,127.7 1054.5,126.1 1054.8,123.8 1055,122.3 1055.2,121.5 1055.5,119.2 1055.9,117.6 1056.2,115.9 1056.6,114.6 1057,112.9 1057.3,111.2 1057.7,109.3 1058,107.8 1058.4,106.1 1058.7,104.1 1060.1,103.6 1061.6,102.5 1063,101.1 1064.5,100.1 1065.9,98.4 1066.7,100.3 1067.5,101.3 1068.3,103.4 1070.7,103.8 1073,104.3 1073.4,102.6 1073.7,101 1074.1,98.8 1074.4,97.7 1074.8,95.8 1075.2,94 1075.5,92.4 1075.9,91.2 1076.2,89.7 1076.6,88 1077.1,86.2 1077.6,84 1078,82.3 1078.5,81.1 1079,79.1 1079.5,77.5 1080,75.6 1080.4,74 1080.9,72.9 1081.4,70.7 1081.9,69.8 1082.4,67.7 1083,66.6 1083.5,64.4 1084,62.8 1084.5,61.4 1085.1,59.4 1085.6,58.2 1086.1,56.6 1086.6,57.8 1087.2,60.2 1087.7,61.3 1088.2,62.6 1088.8,65.1 1089.3,66 1089.8,67.6 1090.4,68.9 1090.9,70.6 1091.4,72.8 1091.9,74.3 1092.4,75.8 1092.9,77.1 1093.4,78.7 1093.9,81 1094.4,82 1094.9,84.2 1095.4,85.7 1095.9,86.5 1096.4,88.9 1096.9,89.6 1097.2,91.9 1097.5,93.7 1097.8,95.2 1098.1,96.7 1098.4,98.6 1098.7,99.6 1099,101.6 1099.2,103 1099.5,104.7 1099.8,106.2 1100.1,108.3 1100.4,109.8 1100.7,111.7 1101,113.2 1101.3,114.8 1101.6,116.7 1102,118.2 1102.4,119.5 1102.8,120.9 1103.2,123.1 1103.6,124.1 1104,125.4 1104.4,127.2 1104.8,129.2 1105.2,131 1105.6,132.3 1106,133.9 1106.4,135.8 1106.8,137.2 1107.2,138.5 1107.6,140.1 1107.9,142 1108.2,143.3 1108.5,144.7 1108.8,146.9 1109.1,148.8 1109.4,149.9 1109.7,152 1110,153.9 1110.6,154.6 1111.2,156.1 1111.8,158 1112.4,159.3 1113,161.4 1113.6,162.9 1114.2,163.9 1114.8,165.7 1115.1,163.9 1115.4,161.9 1115.7,161.1 1116.1,158.7 1116.4,157 1116.7,155.8 1117,153.8 1117.3,152.7 1117.6,151 1117.9,150 1118.2,147.9 1118.6,146.7 1118.9,145.1 1119.2,143.3 1119.5,141.3 1120.1,139.9 1120.8,138.7 1121.4,137.1 1122.1,135.9 1122.7,134.3 1123.4,132.6 1124,131.4 1124.7,130.3 1125.3,128.1 1126,126.7 1126.6,125 1127.3,123.6 1127.9,122.1 1128.1,120.8 1128.4,119.6 1128.6,117.8 1128.9,116.4 1129.1,114.7 1129.4,112.8 1129.6,111.2 1129.9,109 1130.1,107.7 1130.4,105.9 1130.6,104.7 1130.9,102.5 1131.1,101.3 1131.4,99.5 1131.6,98 1131.9,96.3 1132.1,94.4 1132.4,93.4 1132.6,91.8 1132.8,90 1133,87.9 1133.2,86.7 1133.4,85.3 1133.5,83.8 1133.7,82 1133.9,79.6 1134.1,78.8 1134.3,77 1134.5,75 1134.7,74 1134.9,72.2 1135.1,70.7 1135.3,68.4 1135.4,67.1 1135.6,65.3 1135.8,63.6 1136,62.4 1136.2,60.6 1136.6,58.7 1137,57.4 1137.4,56.2 1137.8,54.2 1138.2,53 1138.6,51 1139,49.9 1139.4,47.3 1139.8,46.2 1140.3,48 1140.8,49.8 1141.3,51.8 1141.9,53.1 1142.4,54.7 1142.9,56.5 1143.4,58.1 1143.8,60 1144.3,61.8 1144.7,62.6 1145.2,64.5 1145.6,66.7 1146,67.6 1146.5,69.9 1146.9,70.8 1147.9,72.9 1148.8,74.4 1149.8,75.3 1150.7,76.9 1151.7,78.1 1152.9,77.2 1154.1,75.6 1155.3,74.2 1156.5,72.5 1157.7,71.4 1158.3,70.2 1158.9,68.4 1159.5,67 1160.1,64.6 1160.7,63.3 1161.3,61.6 1162.5,60.1 1163.7,59.1 1164.8,56.9 1166,55.9 1166.6,57.6 1167.2,59.2 1167.8,59.8 1168.4,61.5 1169,63.2 1169.6,65.2 1170.2,65.9 1170.8,68 1171,69.2 1171.2,70.9 1171.4,72.9 1171.6,73.6 1171.8,75.5 1172,76.9 1172.2,78.5 1172.4,80.2 1172.6,82.2 1172.8,83.7 1173,84.8 1173.2,87.1 1173.4,88.4 1173.6,89.6 1173.8,91.9 1174,93.4 1174.2,94.4 1174.4,96.7 1174.5,98.3 1174.7,99.4 1174.8,100.8 1174.9,103.4 1175.1,105 1175.2,106 1175.3,108.3 1175.5,110 1175.6,111.6 1175.8,113.5 1175.9,115.3 1176,116.3 1176.2,118.5 1176.3,120.3 1176.4,121.3 1176.6,123.4 1176.7,125.1 1177,127 1177.2,128.4 1177.5,129.8 1177.8,131.5 1178,133.6 1178.3,134.9 1178.6,137.3 1178.8,139.1 1179.1,140.1 1180.9,140.9 1182.7,141.2 1184.5,140.9 1186.3,141.9 1186.8,140.2 1187.2,138.1 1187.7,136.2 1188.2,134.7 1188.7,133.5 1189.1,131.5 1189.6,130.2 1190.1,127.9 1190.5,126.2 1191,124.7 1191.4,123.6 1191.7,121.3 1192.1,119.5 1192.5,118.5 1192.8,116.2 1193.2,115.1 1193.6,112.9 1194,111.4 1194.3,110.2 1194.7,108.7 1195.1,106.6 1195.4,105 1195.8,102.9 1196.8,101.8 1197.7,100.3 1198.7,99.4 1199.6,97.9 1200.6,96.6 1201,98 1201.3,99.8 1201.7,100.9 1202,102.9 1202.4,104.4 1202.8,106.1 1203.1,108.2 1203.5,109.4 1203.8,111.2 1204.2,112.8 1204.4,115 1204.7,116.3 1204.9,117.7 1205.1,119.2 1205.4,121.4 1205.6,123 1205.8,124.1 1206.1,125.8 1206.3,127.6 1206.5,128.6 1206.8,130.2 1207,131.6 1207.2,133.6 1207.5,135.5 1207.7,136.5 1208.1,138.4 1208.5,140.6 1208.8,141.8 1209.2,143.3 1209.6,145.4 1209.8,143.8 1209.9,141.7 1210.1,139.8 1210.2,138.6 1210.4,137.1 1210.6,135.6 1210.7,133.7 1210.9,131.7 1211,130.3 1211.2,128.4 1211.4,126.9 1211.5,125.3 1211.7,124.1 1211.9,122.4 1212,120.8 1212.2,118.7 1212.3,117.5 1212.5,115 1213,114.1 1213.5,112.1 1214,110.6 1214.6,108.5 1215.1,107.3 1215.6,104.6 1216.1,103.7 1217.9,103.1 1219.7,102.1 1220,100.8 1220.3,98.5 1220.6,97.4 1220.9,95.4 1221.2,93.7 1221.5,91.8 1221.7,90.7 1222,89 1222.3,86.6 1222.6,85.8 1222.9,83.4 1223.2,81.9 1223.4,80.3 1223.5,78.8 1223.7,77.5 1223.8,75.9 1224,73.9 1224.1,72 1224.2,70.1 1224.4,68.5 1224.5,67.3 1224.7,65.7 1224.8,63.9 1225,62.8 1225.1,60.6 1225.3,58.9 1225.4,57.4 1225.6,55.5 1226,54.6 1226.3,52.6 1226.7,50.8 1227,49 1227.4,47.2 1227.8,45.6 1228.1,44.1 1228.5,42.4 1228.8,41.2 1229.2,39.2 1230,37.2 1230.8,35.5 1231.6,34 1232.4,32.5 1233.2,31.4 1234,29.9 1235.4,28.1 1236.8,27.4 1238.3,25.9 1239.7,24.8 1241.1,23.6 1242.8,23.4 1244.5,23.6 1246.2,24.5 1247.9,24.7 1249.6,24.6 1251.3,25.4 1253,25.5 1254.7,25.4 1256.4,25.7 1258.1,26.6 1259.8,27.1 1261.5,27.1 1263.2,27.4 1264.9,28.3 1266.5,28 1268.1,28.9 1269.7,29 1271.3,28.9 1272.9,29.2 1274.5,29.2 1276.3,28.3 1278,27.4 1279.8,27.2 1281.6,26 1283.1,27.1 1284.6,27.6 1286.1,28.9 1287.6,29.6 1289.4,30 1291.2,30 1293,30.5 1294.8,30.4 1296.5,30.5 1298.1,29.5 1299.8,28.6 1301.4,28 1303.1,26.8 1304.8,27.3 1306.5,27.5 1308.3,28.4 1310,27.8 1311.5,27.4 1313,27.1 1314.6,26.2 1316.1,25.3 1317.6,24.1 1319.3,24.3 1321,25 1322.6,24.8 1324.3,25.5 1326,25.3 1326.5,24.1 1326.9,22.2 1327.4,20.8 1327.8,19.3 1328.3,17 1328.4,19.2 1328.5,19.9 1328.6,22.4 1328.7,23.2 1328.8,25.4 1328.9,26.9 1328.9,28.9 1329,30.1 1329.1,31.7 1329.2,33.9 1329.3,35.3 1329.4,37.2 1329.5,38.6 1329.7,36.5 1329.9,35.5 1330.1,33.3 1330.3,31.9 1330.5,29.8 1330.6,28.3 1330.8,27.1 1331,25.5 1331.2,23.7 1331.4,21.8 1331.6,23.8 1331.9,25.5 1332.1,26.7 1332.4,28.7 1332.6,30.5 1332.9,32.3 1333.1,33.5 1333.2,35.3 1333.3,37 1333.5,38.5 1333.6,40.4 1333.7,42.5 1333.8,44.1 1333.9,45.4 1334.1,47.6 1334.2,48.7 1334.3,51.1 1334.4,52.1 1334.6,53.8 1334.7,55.7 1334.8,57.6 1334.9,59 1334.9,61.2 1335,62.9 1335.1,63.8 1335.2,65.9 1335.2,67.5 1335.3,68.9 1335.4,70.2 1335.4,72.5 1335.5,74.2 1335.6,74.8 1335.6,76.8 1335.7,78.4 1335.8,79.8 1335.8,81.7 1335.9,83.8 1336,84.5 1336.1,86.9 1336.1,88 1336.2,89.3"/>
<polyline fill="none" stroke="#80c000" stroke-width="2.8" stroke-linejoin="round" points="131.6,58 133.2,59.1 134.8,60.7 136.5,60.4 138.3,60.4 140,59.9 141.8,59.7 143.5,59.5 145.2,59.5 147,59.1 148.7,58.7 150.5,58.7 152.2,58.6 153.8,59 155.4,59.1 156.9,60.1 158.5,60.4 160.1,60.6 161.7,61 163.5,60.8 165.2,60.7 167,61.3 168.8,61.1 170.5,60.6 172.3,61.4 174.1,61.3 175.8,60.6 177.6,61.2 179.4,61.7 181.3,63 183.1,64.2 184.5,62.7 186,61.7 187.4,60.7 188.9,59.2 190.3,58.5 192.2,58.5 194.1,59.2 196,58.6 197.9,59.2 199.8,58.8 201.5,59 203.3,58.9 205,59 206.7,59.3 208.4,59 210.2,59.6 211.9,59 213.6,59.5 215.3,59.8 217.1,59.1 218.8,59.2 220.4,60.6 222,61.2 223.6,62.5 225.1,62.8 226.7,63.7 228.3,65.1 229.9,65.4 231.8,66.1 233.7,66.2 235.6,65.7 237.5,66.2 239.4,66.7 241,65.2 242.6,65 244.2,64.1 245.8,64.8 247.4,65.3 248.9,65.5 250.5,67 252.1,66.9 253.7,68.2 254.8,69.3 256,70.2 257.1,71.8 258.2,72.8 259.3,74.3 260.5,74.9 261.6,77 262.7,77.8 263.8,79.4 264.9,80.4 266,82 267.1,82.8 268.3,84.3 269.4,85.1 270.5,86.8 271.6,87.7 272.7,89.6 273.7,90.8 274.7,91.8 275.7,93.6 276.7,94.9 277.7,96.2 278.8,96.7 279.8,98.5 280.8,99.8 281.8,101 282.8,101.8 283.8,103.9 284.6,104.8 285.5,106.3 286.3,107.9 287.2,108.8 288,110 288.9,112.2 289.7,113 290.6,114.1 291.4,115.6 292.3,117.7 293.1,118.9 294,119.8 294.8,121.1 295.7,123.2 296.5,124.3 297.5,125.7 298.5,126.6 299.5,128.3 300.5,130.2 301.5,130.7 302.6,132.5 303.6,133.5 304.6,135.8 305.6,136.4 306.6,138.5 307.6,139.8 308.7,141 309.9,141.6 311,143.4 312.1,144.5 313.2,145.7 314.4,146.7 315.5,148.3 316.6,149.8 317.8,150.4 318.9,152.3 320,153.2 321.1,154.3 322.3,155.5 323.4,157 324.5,158.3 325.7,159.3 326.8,160.7 327.9,161.5 329.1,162.7 330.2,164.2 331.4,164.6 332.5,165.6 333.6,167 334.8,168.1 335.9,169.1 337,170.5 338.2,171.3 339.3,173.2 340.5,173.8 341.8,175.3 343,176.1 344.2,177.2 345.5,178.3 346.7,179 347.9,180.4 349.2,181 350.4,182.3 352,183.2 353.6,184.1 355.1,184.4 356.7,185.4 358.3,186.6 360.1,186.6 362,186.7 363.9,186 365.7,186 367.5,185.9 369.4,186.5 371,185.7 372.6,184.8 374.2,184.2 375.7,183.1 377.3,182.4 378.9,181.9 380.5,180.8 381.9,180 383.4,179 384.8,178.1 386.2,177.5 387.6,176.4 389.1,175.1 390.5,174.5 391.9,173.7 393.4,172.8 394.8,172.1 396,170.7 397.2,169.6 398.4,168.5 399.7,167.3 400.9,166.7 402.1,164.7 403.3,163.5 404.5,163 405.7,161.5 407,160.4 408.2,159.4 409.4,158 410.6,156.8 411.8,155.3 413.1,154.9 414.3,153.7 415.5,151.9 416.8,150.8 418,149.4 419.2,148 420.5,147.5 421.7,146.2 423.1,144.8 424.5,143.9 425.9,143.4 427.3,142.6 428.8,141.4 430.2,140.5 431.6,139.4 433,139.1 434.4,138.2 435.6,137.1 436.9,135.2 438.1,134.5 439.4,133.7 440.6,132.3 442,131 443.3,129.7 444.7,128.6 446,128.2 447.4,126.6 448.7,126.2 450.1,125.1 451.5,123.9 452.8,123.3 454.2,122.3 455.5,121 456.9,119.5 458.2,118.9 459.6,117.7 461.2,117.2 462.8,117.4 464.4,116.8 466,115.9 467.6,115.6 469.1,115.3 470.7,115.1 472.3,114.5 473.9,114.2 475.5,114.2 477.1,113.1 478.7,113 480.3,112.1 481.9,112.2 483.4,111.6 485,110.5 486.6,110.3 488.2,109.3 489.8,109 491,110.3 492.3,111.5 493.5,112.3 494.8,113.2 496,114.4 497.3,115.9 498.5,116.7 500,115.9 501.5,115.3 503,114.7 504.4,113.5 505.9,112.3 507.4,111.8 508.9,110.6 510.4,110.2 511.8,108.8 513.2,108.1 514.7,107.5 516.1,107.1 517.5,105.6 518.9,104.9 520.3,104 521.8,103.3 523.2,102.6 524.6,101.9 526.2,101.7 527.8,100.9 529.4,100.5 531,99.9 532.6,99.7 534.1,99.3 535.7,98.4 537.3,98.3 538.9,97.2 540.5,97.3 542.1,96.4 543.7,95.9 545.3,95 546.8,94.3 548.4,93.5 550,93.5 551.6,92.4 553.2,92.1 554.8,91.2 556.3,90.6 557.9,89.7 559.5,89 561.1,90.4 562.7,91.9 564.6,91.9 566.4,91.5 568.2,92.2 570.1,92.1 571.9,91.9 573.8,92.2 575.4,92.5 577,93.4 578.6,93.5 580.1,93.6 581.7,93.9 583.3,94.3 584.9,94.6 586.5,94.3 588.1,94.4 589.7,94 591.2,93.6 592.8,93.4 594.4,92.9 596,92.1 597.6,91.5 599.2,91.1 600.8,90.6 602.4,90.3 603.9,90.1 605.5,89.3 607.1,88.7 608.7,88 610.3,88.1 612.1,87.7 614,87.1 615.8,86.6 617.7,87.3 619.5,86.4 621.4,86.7 623,85.4 624.6,85.3 626.2,84.4 627.7,84.3 629.3,83.1 630.9,82.4 632.5,81.8 634.1,81.9 635.7,81.5 637.2,80.7 638.8,80.2 640.4,79.3 642,78.8 643.8,78.5 645.5,79.1 647.3,78.1 649,78.4 650.8,78 652.5,77.7 654.3,77.7 656,78 657.8,77.2 659.4,76.8 661,77 662.6,76.7 664.2,76.3 665.8,75.8 667.3,76.1 668.9,75.2 670.5,75 672.1,74.8 673.7,74.7 675.3,74.4 676.9,74.2 678.5,74 680,73.8 681.6,73 683.2,72.2 684.8,72.5 686.4,71.4 687.9,71.2 689.5,70.7 691.1,70.8 692.7,70.7 694.3,69.8 695.9,69.6 697.5,69.8 699.1,69.7 700.8,69.2 702.4,69.7 704.1,69.9 705.7,69.5 707.3,69.3 709,69.8 710.6,69.5 712.2,69.4 713.9,69.4 715.5,69.7 717.2,69.4 718.8,69.7 720.4,69.9 722.1,69.9 723.7,69.8 725.4,70.1 727,69.5 728.4,68.8 729.7,68.3 731.1,67.3 732.4,66.4 733.8,65.3 735.1,64.1 736.5,63.4 738.1,63.2 739.7,62.8 741.4,62.9 743,62.7 744.6,63.4 746.2,62.9 747.8,63 749.5,63.1 751.1,62.7 752.7,63.3 754.3,63.4 755.9,63.4 757.6,63.4 759.2,62.9 760.8,62.8 762.4,63.3 764,63.3 765.7,63 767.3,63 768.9,62.8 770.5,63.4 772.1,63.1 773.8,63.4 775.4,63 777,62.9 778.6,63.1 780.2,63.3 781.8,63.4 783.5,63 785.1,63.3 786.7,63 788.3,63.4 789.9,63.3 791.6,63.1 793.2,63 794.8,62.9 796.4,63.4 798,63.4 799.7,62.9 801.3,62.7 802.9,62.8 804.5,63.5 806.1,62.7 807.8,63.4 809.4,63.1 811,63.1 812.6,62.9 814.2,62.5 815.8,62.4 817.3,61.7 818.9,62.1 820.5,61.1 822.3,61.2 824.1,61.7 825.9,61.6 827.8,61.8 829.6,61.7 831.4,61.9 833.2,61.1 834.8,60.7 836.4,60.5 837.9,60.6 839.5,59.6 841.1,59.7 842.7,59.6 844.2,58.8 845.8,58.9 847.4,59 849,58.6 850.7,58.3 852.4,58.4 854.1,58.2 855.8,58.8 857.5,58.7 859.2,58.6 860.9,58.2 862.5,58.6 864.2,58.4 865.9,58.7 867.6,58.3 869.3,58.7 871,58.6 872.7,58.4 874.4,58.5 876,58.1 877.6,57.4 879.2,57.2 880.8,56.4 882.5,57.2 884.1,57 885.8,56.9 887.4,57.2 889.1,56.6 890.7,56.8 892.4,57.1 894,57.2 895.7,56.8 897.3,57.4 899,57.1 900.6,56.6 902.2,56.7 903.9,56.6 905.5,57.1 907.2,56.9 908.8,56.9 910.5,57 912.1,56.7 913.8,57.5 915.4,57.4 917.1,57.2 918.7,57.1 920.4,57 922,57.3 923.6,57.5 925.2,58.4 926.7,58.8 928.3,59 929.9,59.5 931.5,59.4 933.1,60 934.7,60.8 936.3,61.1 937.9,62 939.5,63 940.6,64.1 941.6,65.4 942.7,65.9 943.8,67.1 944.8,68.2 945.9,69.6 947,70.6 948,72.2 949.1,73.2 949.7,75 950.3,76.4 950.9,78 951.5,79.2 952.1,81 952.7,82.5 953.3,84 953.9,85.3 954.4,86.8 955,88.1 955.6,89.3 956.2,91.2 956.8,92.8 957.4,93.9 958,96 958.6,97.5 958.9,99.1 959.3,100.7 959.6,102 960,103.3 960.3,104.9 960.7,107 961,108.8 961.3,109.6 961.7,111.1 962,113 962.4,114.6 962.7,116.4 963.1,117.5 963.4,119.8 963.7,120.9 964.1,123 964.4,124.1 964.8,125.7 965.1,127.1 965.5,129.4 965.8,130.7 966,132.5 966.2,133.4 966.5,135.4 966.7,137.2 966.9,139 967.1,140.5 967.3,141.4 967.5,143.2 967.8,145.3 968,146.5 968.2,148.5 968.4,149.4 968.6,150.8 968.9,153.2 969.1,154.2 969.3,156.1 969.5,157.5 969.7,159.3 970,161.2 970.2,162.8 970.4,164.3 970.6,165.3 970.8,167.4 971,168.3 971.3,170.2 971.5,172.3 971.7,173.3 972,175 972.2,176.8 972.5,178.1 972.7,180.1 973,181.7 973.3,182.8 973.5,185.1 973.8,185.9 974,188.1 974.3,189.4 974.6,190.8 974.8,192.4 975.1,194.8 975.4,196.2 975.6,197.5 975.9,199.4 976.1,201.2 976.4,202.8 976.7,204 976.9,205.4 977.2,207.2 977.4,209.2 977.7,210.6 978.2,208.9 978.8,207.5 979.3,205.5 979.8,204 980.4,202.6 980.9,200.4 981.5,199.4 982,197 982.5,195.9 983.1,194.3 983.6,192.3 983.9,191.4 984.3,189.4 984.6,187.5 984.9,186.2 985.3,184.7 985.6,183 985.9,181 986.3,179.5 986.6,178.5 986.9,176.4 987.3,174.9 987.6,173.8 987.9,172.3 988.3,170.7 988.6,168.5 988.9,166.7 989.3,165.8 989.6,164.1 990.2,162.2 990.8,160.3 991.4,159 992,157.2 992.6,155.8 993.2,154.5 993.8,152.2 994.4,150.4 994.7,152.6 995.1,153.7 995.4,155.4 995.7,157.2 996.1,159.3 996.4,160.4 996.8,162 997.1,163.7 997.4,165.1 997.8,166.9 998.1,168.8 998.4,170.1 998.8,172.1 999.1,173.2 999.3,174.8 999.5,176.9 999.7,178.4 999.9,180.4 1000,181.3 1000.2,183.5 1000.4,185.1 1000.6,186.4 1000.8,187.8 1001,189.9 1001.2,191.7 1001.4,193.1 1001.6,194.7 1001.8,196.5 1001.9,198.1 1002.1,199.5 1002.3,201 1002.5,202.8 1002.7,204.5 1003,206.6 1003.4,208.4 1003.7,209.7 1004.1,211.2 1004.4,212.9 1004.8,215 1005.1,216.8 1005.5,218.1 1005.8,220.2 1006.3,218.8 1006.8,216.6 1007.3,215.5 1007.8,213.4 1008.4,211.9 1008.9,210.5 1009.4,208.3 1009.9,206.8 1010,205.7 1010.2,203.2 1010.3,201.8 1010.4,200.3 1010.6,198.9 1010.7,197.1 1010.8,195.7 1011,193.9 1011.1,191.6 1011.2,190 1011.4,188.3 1011.5,187 1011.6,185 1011.8,183.8 1011.9,182.3 1012.1,180.2 1012.2,179.2 1012.3,177.1 1012.5,176 1012.6,173.8 1012.7,172.4 1012.9,170.6 1013,168.7 1013.1,167.6 1013.3,165.2 1013.4,163.8 1013.6,162.2 1013.8,161 1013.9,159 1014.1,156.9 1014.3,155.5 1014.5,154.1 1014.7,152.6 1014.8,150.3 1015,149.2 1015.2,147.2 1015.4,145.7 1015.6,143.9 1015.7,142.2 1015.9,141.1 1016.1,139.3 1016.3,137.7 1016.5,135.8 1016.6,134.1 1016.8,131.9 1017,130.2 1017.3,129.2 1017.6,127.4 1018,125.7 1018.3,123.8 1018.6,122.1 1018.9,121 1019.2,119 1019.6,116.8 1019.9,115.5 1020.2,113.8 1020.5,111.9 1020.8,111 1021.2,109.3 1021.5,107.5 1021.8,105.2 1023.6,104.3 1025.4,102.9 1027.2,103.1 1029,102.9 1030.7,102.6 1032.5,102.3 1033.1,103.2 1033.7,104.7 1034.3,106.4 1034.9,108.6 1035.5,110.2 1036.1,111.5 1037.8,110.3 1039.4,109.9 1041.1,108.3 1042.7,107.5 1044.4,106.3 1045.7,106.2 1047,104.8 1048.4,104.2 1049.7,103.3 1051,102.2 1052.3,101.6 1053.7,100.5 1055,99.7 1056.3,98.8 1058,97.5 1059.7,97.6 1061.4,96.6 1063.2,96.2 1064.9,95.7 1066.6,95.8 1068.3,94.4 1069.5,93.6 1070.7,92.1 1071.8,91.7 1073,90.1 1074.2,89.1 1075.4,87.7 1076,86.5 1076.6,84.6 1077.2,83.2 1077.8,82 1078.4,80.4 1079,79.1 1079.6,77.1 1080.2,76.1 1081.2,74.6 1082.2,73.1 1083.2,71.5 1084.1,70.3 1085.1,68.4 1086.1,67 1087.1,68.6 1088.1,69.9 1089.1,71.2 1090.1,73.2 1091.1,74.6 1092.1,75.9 1093.5,76.7 1095,78.4 1096.4,79.6 1097.9,80.6 1099.3,81.5 1100.2,83.1 1101.1,84.3 1102,85.5 1102.8,86.7 1103.7,88.7 1104.6,89.8 1105.5,91.5 1106.4,92.1 1107.8,93.2 1109.2,94.4 1110.6,95 1111.9,96.2 1113.3,97.4 1114.7,98.4 1116.5,98.8 1118.3,98.6 1120.1,98.7 1121.9,98.8 1122.9,97.5 1123.8,95.7 1124.8,93.9 1125.7,93.4 1126.7,91.8 1127.2,89.5 1127.7,87.8 1128.1,86.2 1128.6,85 1129.1,82.8 1129.6,81 1130.1,79.8 1130.5,77.7 1131,76.3 1131.5,74.7 1132.4,72.9 1133.4,71 1134.3,69.6 1135.3,67.9 1136.2,66.3 1137.8,65.6 1139.4,64.8 1141,63.9 1141.7,65.2 1142.4,67.5 1143.1,68.9 1143.7,70.2 1144.4,71.3 1145.1,73 1145.8,75.2 1146.4,76.3 1147.1,77.6 1147.7,79.6 1148.4,81.2 1149,82.1 1149.7,83.9 1150.3,85.5 1151,86.6 1151.6,88.3 1152.3,90.1 1152.9,91.7 1153.8,93.1 1154.7,94.6 1155.6,95.9 1156.5,97.1 1157.4,98.5 1158.3,100.7 1159.2,102.2 1160.1,103.8 1160.6,104.5 1161.2,106.7 1161.7,107.7 1162.2,109.3 1162.8,110.7 1163.3,112.8 1163.9,114.3 1164.4,115.8 1164.9,117 1165.5,119 1166,119.9 1166.5,121.8 1167,123.4 1167.5,124.6 1168,126.4 1168.5,127.7 1169,129.9 1169.5,131 1170,132.5 1170.5,134.2 1171,136.1 1171.5,137.7 1172,139.2 1172.3,141.1 1172.5,142.6 1172.8,143.7 1173,145.6 1173.3,146.8 1173.6,148.5 1173.8,150 1174.1,151.5 1174.3,153.4 1174.6,155.4 1174.9,156.8 1175.1,157.9 1175.4,159.6 1175.7,161.5 1175.9,163.1 1176.2,164.2 1176.4,165.8 1176.7,167.9 1177.2,169.6 1177.7,170.8 1178.1,173.1 1178.6,174.2 1179.1,176.2 1179.6,177.8 1180.1,179.3 1180.5,181.6 1181,182.7 1181.5,184.4 1182.2,186.2 1182.9,188.1 1183.6,189.8 1184.2,191.3 1184.9,192.7 1185.6,194.5 1186.3,196 1187.9,194.9 1189.4,193.5 1191,191.8 1192,189.9 1192.9,188.8 1193.9,187.3 1194.8,185.7 1195.8,184.8 1197.4,183.4 1199,183.1 1200.6,182.1 1201.8,183.6 1203,185.5 1204.2,187.1 1206,186.1 1207.7,184.9 1208.1,183.1 1208.4,180.9 1208.8,179.6 1209.1,177.8 1209.5,176.5 1209.9,174.4 1210.2,172.7 1210.6,170.7 1210.9,169.4 1211.3,167.8 1211.5,166 1211.7,164.3 1211.9,163 1212.1,161.1 1212.3,159.6 1212.5,158.2 1212.7,156.5 1212.9,155.1 1213.1,153.5 1213.3,151.8 1213.5,150 1213.7,148.3 1213.9,147.2 1214.1,146 1214.3,143.8 1214.5,142.2 1214.7,140.6 1214.9,139.4 1215.2,137.6 1215.5,136.3 1215.9,134 1216.2,132.5 1216.5,131 1216.8,129.6 1217.1,128 1217.5,126.4 1217.8,125.3 1218.1,123.3 1218.4,121.8 1218.7,120.6 1219.1,118.7 1219.4,117.1 1219.7,115.7 1220.1,113.6 1220.4,111.7 1220.8,110.9 1221.1,108.8 1221.5,107.2 1221.9,105.1 1222.2,104 1222.6,102.1 1223,100.6 1223.3,98.7 1223.7,97.6 1224,95.4 1224.4,93.7 1224.8,92.6 1225.1,90.3 1225.5,88.7 1225.9,87.3 1226.2,86.1 1226.6,83.6 1227,82.1 1227.4,80.9 1227.7,78.6 1228.1,77.3 1228.5,76 1228.8,74.2 1229.2,72.7 1230,70.5 1230.8,69.6 1231.6,67.5 1232.4,66.3 1233.2,64.5 1234,63.3 1235.4,61.9 1236.8,60.8 1238.3,59.7 1239.7,59.1 1241.1,57.7 1242.8,57.6 1244.5,58.1 1246.2,57.7 1247.9,57.8 1249.6,57 1251.3,57.1 1253,57 1254.6,57 1256.2,57.6 1257.8,58.5 1259.4,58.7 1261,58.9 1262.6,59.4 1263.8,60.8 1264.9,62.1 1266.1,63 1267.3,63.7 1269.1,63.8 1270.9,62.6 1272.7,62.1 1274.5,61.4 1276.2,60.8 1277.8,59.9 1279.5,58.8 1281.1,57.9 1282.8,56.7 1284.2,58.2 1285.6,59 1287,59.8 1288.4,61.2 1289.8,62.3 1291.2,63.3 1293.1,63.3 1295,62.5 1296.9,62.8 1298.8,62.9 1300.7,62.7 1302.2,62.5 1303.8,62.1 1305.3,60.8 1306.9,60.5 1308.5,60.3 1310,59.6 1311.9,59.1 1313.8,58.7 1315.7,58.9 1317.6,58.8 1319.6,59.5 1321.6,59.3 1323.6,59.8 1324.1,62.1 1324.6,63 1325.1,65.2 1325.6,66.4 1326.1,68.7 1326.6,70.1 1327.1,72.3 1327.3,73.3 1327.5,75.5 1327.7,76.6 1327.8,78.1 1328,79.8 1328.2,81.4 1328.4,83.3 1328.6,85.5 1328.8,86.6 1328.9,88.6 1329.1,89.6 1329.3,91.7 1329.5,93.3 1329.7,94.5 1330,96.6 1330.2,98 1330.5,99.5 1330.7,101.6 1331,103 1331.2,104.1 1331.4,105.7 1331.7,107.2 1331.9,109 1332.2,110.9 1332.4,112.8 1332.5,114.4 1332.7,116 1332.8,116.9 1332.9,119.2 1333,120.8 1333.2,122.1 1333.3,124.2 1333.4,125.5 1333.5,126.7 1333.7,128.4 1333.8,130 1333.9,132 1334,133.7 1334.2,135.5 1334.3,136.4 1334.4,138 1334.5,140.5 1334.7,141.5 1334.8,143.1 1334.9,145.3 1335,146.2 1335.1,148.5 1335.2,150.2 1335.3,151.5 1335.4,153.2 1335.5,154.3 1335.6,156.4 1335.7,158.1 1335.8,159.9 1335.9,161.3 1336,162.5 1336.1,164.3 1336.2,166.3 1336.3,167.4 1336.4,169.1 1336.5,170.8 1336.6,172.9 1336.7,174.3"/>
<polyline fill="none" stroke="#ff00ff" stroke-width="2.6" stroke-dasharray="4 5" points="1328.3,64.8 1330.7,81.4 1333.1,100.5 1335.5,129 1337.1,154"/>
<g font-family='"Liberation Sans", Arial, sans-serif' font-size="32" fill="#000">
<text x="115.2" y="751.5" text-anchor="end" font-size="32.5">85</text>
<text x="115.2" y="706" text-anchor="end" font-size="32.5">86</text>
<text x="115.2" y="660.6" text-anchor="end" font-size="32.5">87</text>
<text x="115.2" y="615.1" text-anchor="end" font-size="32.5">88</text>
<text x="115.2" y="569.7" text-anchor="end" font-size="32.5">89</text>
<text x="115.2" y="524.2" text-anchor="end" font-size="32.5">90</text>
<text x="115.2" y="478.8" text-anchor="end" font-size="32.5">91</text>
<text x="115.2" y="433.4" text-anchor="end" font-size="32.5">92</text>
<text x="115.2" y="387.9" text-anchor="end" font-size="32.5">93</text>
<text x="115.2" y="342.5" text-anchor="end" font-size="32.5">94</text>
<text x="115.2" y="297" text-anchor="end" font-size="32.5">95</text>
<text x="115.2" y="251.6" text-anchor="end" font-size="32.5">96</text>
<text x="115.2" y="206.1" text-anchor="end" font-size="32.5">97</text>
<text x="115.2" y="160.7" text-anchor="end" font-size="32.5">98</text>
<text x="115.2" y="115.2" text-anchor="end" font-size="32.5">99</text>
<text x="115.2" y="69.8" text-anchor="end" font-size="32.5">100</text>
<text x="115.2" y="24.3" text-anchor="end" font-size="32.5">101</text>
<text x="130.5" y="791.2" text-anchor="middle" font-size="33">4000</text>
<text x="274.5" y="791.2" text-anchor="middle" font-size="33">3600</text>
<text x="418.5" y="791.2" text-anchor="middle" font-size="33">3200</text>
<text x="562.5" y="791.2" text-anchor="middle" font-size="33">2800</text>
<text x="706.5" y="791.2" text-anchor="middle" font-size="33">2400</text>
<text x="850.5" y="791.2" text-anchor="middle" font-size="33">2000</text>
<text x="994.5" y="791.2" text-anchor="middle" font-size="33">1600</text>
<text x="1138.5" y="791.2" text-anchor="middle" font-size="33">1200</text>
<text x="1282.5" y="791.2" text-anchor="middle" font-size="33">800</text>
<text x="742.5" y="830.1" text-anchor="middle" font-size="32.5" textLength="287.6" lengthAdjust="spacingAndGlyphs">Wavelength (cm-1)</text>
<text transform="translate(25.4 374) rotate(-90)" text-anchor="middle" textLength="237.8" lengthAdjust="spacingAndGlyphs">% Transmittence</text>
<text x="6.8" y="51.6" font-size="38.5">(a)</text>
</g>
<g font-family='"Liberation Sans", Arial, sans-serif' font-size="27.9" fill="#000" style="font-kerning:none">
<path d="M167 572.9H216" stroke="#000" stroke-width="2.2"/>
<text y="581.7"><tspan x="231.7">Bare</tspan><tspan x="298.7">CDI</tspan></text>
<path d="M167 606.2H216" stroke="#ff00ff" stroke-width="2.2"/>
<text y="614.7"><tspan x="231.7">Bare</tspan><tspan x="298.7">CDI</tspan><tspan x="354.2" textLength="85" lengthAdjust="spacingAndGlyphs">Zeolite</tspan></text>
<path d="M167 638.9H216" stroke="#ff5a0a" stroke-width="2.2"/>
<text y="648"><tspan x="231.7">Bare</tspan><tspan x="298.7">CDI</tspan><tspan x="354.2" textLength="85" lengthAdjust="spacingAndGlyphs">Zeolite</tspan><tspan x="449">EDC</tspan><tspan x="517.6">NHS</tspan></text>
<path d="M167 672.5H216" stroke="#1e50ff" stroke-width="2.2"/>
<text y="681.4"><tspan x="231.7">Bare</tspan><tspan x="298.7">CDI</tspan><tspan x="354.2" textLength="85" lengthAdjust="spacingAndGlyphs">Zeolite</tspan><tspan x="449">EDC</tspan><tspan x="517.6">NHS</tspan><tspan x="586.3">Probe</tspan></text>
<path d="M167 706.2H216" stroke="#80c000" stroke-width="2.2"/>
<text y="714.4"><tspan x="231.7">Bare</tspan><tspan x="298.7">CDI</tspan><tspan x="354.2" textLength="85" lengthAdjust="spacingAndGlyphs">Zeolite</tspan><tspan x="449">EDC</tspan><tspan x="517.6">NHS</tspan><tspan x="586.3">Probe</tspan><tspan x="669.6" textLength="81.7" lengthAdjust="spacingAndGlyphs">Target</tspan></text>
</g>
<g font-family='"Liberation Sans", Arial, sans-serif' font-size="27.7" font-style="italic" fill="#000" text-anchor="middle">
<text x="593.3" y="195.1">C=N</text>
<text x="499.7" y="254.6">C-H</text>
<text x="499.3" y="287.8">stretch</text>
<text x="346.3" y="464.3">-OH</text>
<text x="1152" y="221.3">C-C</text>
<text x="1198.3" y="284.4">C-O</text>
<text x="1293" y="305.5">O-Si-O</text>
<text x="1123.2" y="320.5">Stretching</text>
<text x="963.2" y="625">C=O</text>
<text x="1145.3" y="647">Sugar-phosphate</text>
<text x="1144" y="681">antisymmetric and</text>
<text x="1144" y="715">symmetric stretches</text>
<text x="1122.7" y="353">of PO<tspan font-size="19" dy="7">2</tspan><tspan font-size="19" dy="-17">-</tspan></text>
<text x="1027.8" y="538.7" text-anchor="start">N-H</text>
<text x="1027.8" y="572.7" text-anchor="start">bending</text>
</g>
<g stroke="#2196c8" stroke-width="1.5" fill="#2196c8">
<path d="M1151.7 136V192" fill="none"/>
<path d="M1151.7 196l-2.4 -6.5h4.8z" stroke="none"/>
<path d="M1196.5 195V251" fill="none"/>
<path d="M1196.5 255l-2.4 -6.5h4.8z" stroke="none"/>
<path d="M1293.2 48.6V277" fill="none"/>
<path d="M1293.2 281l-2.4 -6.5h4.8z" stroke="none"/>
<path d="M1040 311V503" fill="none"/>
<path d="M1040 507l-2.4 -6.5h4.8z" stroke="none"/>
</g>
</g>
<g id="chips">
<g transform="translate(386.8 555.9) scale(1)">
<polygon fill="#000" points="0,-28.6 95.7,-128.4 210.8,-125.9 210.8,-100.1 111,0.1 0,0.1"/>
<polygon fill="#161616" points="0,-28.6 95.7,-128.4 210.5,-125.9 114.4,-25.8"/>
<path d="M114.8 -25.6 L210.5 -125.3" stroke="#e8e8e8" stroke-width="0.7" fill="none"/>
<path d="M0 -27.7 L113.7 -24.9" stroke="#9aa" stroke-width="0.6" fill="none"/>
<polygon fill="#fff" points="33,-51.5 107,-128 196.6,-124.4 124.8,-48.6"/>
<path d="M111.3 -126.9 L199.1 -123.9 M98.3 -121.4 L185.9 -118.4 M99.7 -115.4 L187.8 -112.4 M87.1 -109.9 L174.7 -106.9 M88.6 -103.9 L176.6 -100.9 M76 -98.4 L163.4 -95.4 M77.4 -92.4 L165.3 -89.4 M64.9 -86.9 L152.2 -84 M66.3 -80.9 L154 -77.9" stroke="#161616" stroke-width="3.2" fill="none"/>
<polygon fill="#fff" points="67.1,-50.7 90,-49.9 68.1,-26.3 46.1,-26.9"/>
<path d="M30.1 -38.2 h11 M35.6 -44.2 v12" stroke="#fff" stroke-width="2.8" fill="none"/>
<path d="M93.6 -37 h12.5" stroke="#fff" stroke-width="2.4" fill="none"/>
</g>
<g transform="translate(694.6 555.6) scale(0.958)">
<polygon fill="#000" points="0,-28.6 95.7,-128.4 210.8,-125.9 210.8,-100.1 111,0.1 0,0.1"/>
<polygon fill="#161616" points="0,-28.6 95.7,-128.4 210.5,-125.9 114.4,-25.8"/>
<path d="M114.8 -25.6 L210.5 -125.3" stroke="#e8e8e8" stroke-width="0.7" fill="none"/>
<path d="M0 -27.7 L113.7 -24.9" stroke="#9aa" stroke-width="0.6" fill="none"/>
<polygon fill="#fff" points="33,-51.5 107,-128 196.6,-124.4 124.8,-48.6"/>
<path d="M111.3 -126.9 L199.1 -123.9 M98.3 -121.4 L185.9 -118.4 M99.7 -115.4 L187.8 -112.4 M87.1 -109.9 L174.7 -106.9 M88.6 -103.9 L176.6 -100.9 M76 -98.4 L163.4 -95.4 M77.4 -92.4 L165.3 -89.4 M64.9 -86.9 L152.2 -84 M66.3 -80.9 L154 -77.9" stroke="#161616" stroke-width="3.2" fill="none"/>
<polygon fill="#fff" points="67.1,-50.7 90,-49.9 68.1,-26.3 46.1,-26.9"/>
<path d="M30.1 -38.2 h11 M35.6 -44.2 v12" stroke="#fff" stroke-width="2.8" fill="none"/>
<path d="M93.6 -37 h12.5" stroke="#fff" stroke-width="2.4" fill="none"/>
</g>
<polygon fill="url(#gArrow)" points="608.4,473.9 666.1,463.6 666.1,451 692.3,473.9 666.1,497.3 666.1,484.4"/>
<ellipse cx="831.3" cy="454.2" rx="17" ry="5.9" fill="#e9b6e6"/>
<ellipse cx="831.2" cy="453.0" rx="15.2" ry="4.9" fill="#8f1a9c"/>
<path d="M834.4 449.2L815.1 422.6L833.6 398.8" stroke="#000" stroke-width="1.9" fill="none"/>
<path d="M794.7 421.2L810.6 422.2M794.7 424.9L810.6 425.9" stroke="#000" stroke-width="1" fill="none"/>
<g font-family='"Liberation Sans", Arial, sans-serif' fill="#000">
<text x="780.8" y="430.2" font-size="16.5" text-anchor="middle">O</text>
<text transform="translate(823.5 410.5) rotate(33)" font-size="19">5’</text>
<text transform="translate(862.5 432.5) rotate(12)" font-size="19" font-style="italic">3’</text>
<text transform="translate(958.5 215) rotate(18)" font-size="19.5">5’3’</text>
</g>
</g>
<g id="dna" fill="none" stroke-linecap="round">
<path d="M956.1 240.2L972.4 247.7" stroke="#fff000" stroke-width="5"/>
<path d="M935.2 231.3L956.1 240.2" stroke="#00f0f0" stroke-width="5"/>
<path d="M938.2 246.2L957.5 253.7" stroke="#1e90e6" stroke-width="5"/>
<path d="M918.8 237.3L938.2 246.2" stroke="#ff00dc" stroke-width="5"/>
<path d="M923.3 251.3L938.2 256.6" stroke="#00f0f0" stroke-width="5"/>
<path d="M911.3 244.7L923.3 251.3" stroke="#fff000" stroke-width="5"/>
<path d="M908.4 287L923.3 293.9" stroke="#1e90e6" stroke-width="5"/>
<path d="M892 279.9L908.4 287" stroke="#ff00dc" stroke-width="5"/>
<path d="M912.8 304.9L933.7 314.8" stroke="#1e90e6" stroke-width="5"/>
<path d="M892 296.9L912.8 304.9" stroke="#ff00dc" stroke-width="5"/>
<path d="M917.3 320.7L938.2 331.1" stroke="#fff000" stroke-width="5"/>
<path d="M896.4 312.7L917.3 320.7" stroke="#00f0f0" stroke-width="5"/>
<path d="M902.4 368.4L914.3 373.5" stroke="#fff000" stroke-width="5"/>
<path d="M887.5 362.4L902.4 368.4" stroke="#00f0f0" stroke-width="5"/>
<path d="M884.5 374.4L903.9 381.8" stroke="#1e90e6" stroke-width="5"/>
<path d="M866.6 365.4L884.5 374.4" stroke="#ff00dc" stroke-width="5"/>
<path d="M868.1 380.3L886 388.7" stroke="#ff00dc" stroke-width="5"/>
<path d="M851.7 372.9L868.1 380.3" stroke="#1e90e6" stroke-width="5"/>
<path d="M866.6 412.2C864.6 410.1 858.4 405.3 854.7 399.7C851 394.1 845.5 384.3 844.3 378.8C843 373.4 844 370.4 847.3 366.9C850.5 363.4 855 360.5 863.7 358C872.3 355.5 888.5 354.5 899.4 352C910.3 349.5 922 347 929.2 343.1C936.4 339.1 941.1 333.6 942.6 328.2C944.1 322.7 940.9 317.7 938.2 310.3C935.4 302.8 930.7 291.9 926.2 283.5C921.8 275 915.1 266.6 911.3 259.6C907.6 252.7 904.4 246.4 903.9 241.7C903.4 237 904.1 233.7 908.4 231.3C912.6 228.9 919.3 227.9 929.2 227.4C939.2 226.9 961.5 228.2 968 228.3" stroke="#0ba84a" stroke-width="6.4"/>
<path d="M835.3 397.3C843.5 396.7 871.8 395.8 884.5 393.7C897.2 391.7 905.1 388.3 911.3 384.8C917.6 381.3 921.8 378.8 921.8 372.9C921.8 366.9 915.6 358 911.3 349C907.1 340.1 900.9 328.7 896.4 319.2C892 309.8 886.8 298.4 884.5 292.4C882.3 286.4 882 286.9 883 283.5C884 280 885.3 274.8 890.5 271.5C895.7 268.3 903.9 266.3 914.3 264.1C924.8 261.8 942.6 260.4 953.1 258.1C963.5 255.9 971.7 253.7 976.9 250.7C982.1 247.7 983.9 243.5 984.4 240.2C984.9 237 981.9 233.4 979.9 231.3C977.9 229.2 973.7 228.1 972.4 227.4" stroke="#ff0000" stroke-width="6.4"/>
</g>
<g font-family='"Liberation Sans", Arial, sans-serif' font-size="9.5" fill="#000" text-anchor="middle">
<text transform="translate(901.8 284.9) rotate(8)" y="3.4">C</text>
<text transform="translate(917.9 292.4) rotate(8)" y="3.4">G</text>
<text transform="translate(903.9 302.8) rotate(8)" y="3.4">C</text>
<text transform="translate(926.8 313.3) rotate(8)" y="3.4">G</text>
<text transform="translate(909.9 318.6) rotate(8)" y="3.4">G</text>
<text transform="translate(928.6 328.2) rotate(8)" y="3.4">C</text>
</g>
<g id="panelb">
<rect x="1365.7" y="14.6" width="527.9" height="731.5" fill="none" stroke="#000" stroke-width="3"/>
<text x="1379.2" y="53.8" font-family='"Liberation Sans", Arial, sans-serif' font-size="38.5">(b)</text>
<g transform="translate(1525.7 169.6) rotate(34)">
<g font-family='"Liberation Serif", "DejaVu Serif", serif' font-size="9" fill="#000" text-anchor="middle" stroke="#000" stroke-width="0.2">
<text x="-63.5" y="3">OH</text><text x="-84" y="3">C</text><text x="-81.5" y="22.5">O</text></g>
<path d="M-76 0H-71.5M-94.5 0H-89M-84.6 6.5V12M-82.2 6.5V12" stroke="#000" stroke-width="0.8" fill="none"/>
</g>
<g transform="translate(1525.7 169.6) rotate(65)">
<g font-family='"Liberation Serif", "DejaVu Serif", serif' font-size="9" fill="#000" text-anchor="middle" stroke="#000" stroke-width="0.2">
<text x="-63.5" y="3">OH</text><text x="-84" y="3">C</text><text x="-81.5" y="22.5">O</text></g>
<path d="M-76 0H-71.5M-94.5 0H-89M-84.6 6.5V12M-82.2 6.5V12" stroke="#000" stroke-width="0.8" fill="none"/>
</g>
<g transform="translate(1525.7 169.6) rotate(114)">
<g font-family='"Liberation Serif", "DejaVu Serif", serif' font-size="9" fill="#000" text-anchor="middle" stroke="#000" stroke-width="0.2">
<text x="-63.5" y="3">OH</text><text x="-84" y="3">C</text><text x="-81.5" y="22.5">O</text></g>
<path d="M-76 0H-71.5M-94.5 0H-89M-84.6 6.5V12M-82.2 6.5V12" stroke="#000" stroke-width="0.8" fill="none"/>
</g>
<g transform="translate(1525.7 169.6) rotate(150)">
<g font-family='"Liberation Serif", "DejaVu Serif", serif' font-size="9" fill="#000" text-anchor="middle" stroke="#000" stroke-width="0.2">
<text x="-63.5" y="3">OH</text><text x="-84" y="3">C</text><text x="-81.5" y="22.5">O</text></g>
<path d="M-76 0H-71.5M-94.5 0H-89M-84.6 6.5V12M-82.2 6.5V12" stroke="#000" stroke-width="0.8" fill="none"/>
</g>
<g transform="translate(1525.7 169.6) rotate(175)">
<g font-family='"Liberation Serif", "DejaVu Serif", serif' font-size="9" fill="#000" text-anchor="middle" stroke="#000" stroke-width="0.2">
<text x="-63.5" y="3">OH</text><text x="-84" y="3">C</text><text x="-81.5" y="22.5">O</text></g>
<path d="M-76 0H-71.5M-94.5 0H-89M-84.6 6.5V12M-82.2 6.5V12" stroke="#000" stroke-width="0.8" fill="none"/>
</g>
<g transform="translate(1525.7 169.6) rotate(207)">
<g font-family='"Liberation Serif", "DejaVu Serif", serif' font-size="9" fill="#000" text-anchor="middle" stroke="#000" stroke-width="0.2">
<text x="-63.5" y="3">OH</text><text x="-84" y="3">C</text><text x="-81.5" y="22.5">O</text></g>
<path d="M-76 0H-71.5M-94.5 0H-89M-84.6 6.5V12M-82.2 6.5V12" stroke="#000" stroke-width="0.8" fill="none"/>
</g>
<g transform="translate(1525.7 169.6) rotate(241)">
<g font-family='"Liberation Serif", "DejaVu Serif", serif' font-size="9" fill="#000" text-anchor="middle" stroke="#000" stroke-width="0.2">
<text x="-63.5" y="3">OH</text><text x="-84" y="3">C</text><text x="-81.5" y="22.5">O</text></g>
<path d="M-76 0H-71.5M-94.5 0H-89M-84.6 6.5V12M-82.2 6.5V12" stroke="#000" stroke-width="0.8" fill="none"/>
</g>
<g transform="translate(1525.7 169.6) rotate(277)">
<g font-family='"Liberation Serif", "DejaVu Serif", serif' font-size="9" fill="#000" text-anchor="middle" stroke="#000" stroke-width="0.2">
<text x="-63.5" y="3">OH</text><text x="-84" y="3">C</text><text x="-81.5" y="22.5">O</text></g>
<path d="M-76 0H-71.5M-94.5 0H-89M-84.6 6.5V12M-82.2 6.5V12" stroke="#000" stroke-width="0.8" fill="none"/>
</g>
<g transform="translate(1525.7 169.6) rotate(320)">
<g font-family='"Liberation Serif", "DejaVu Serif", serif' font-size="9" fill="#000" text-anchor="middle" stroke="#000" stroke-width="0.2">
<text x="-63.5" y="3">OH</text><text x="-84" y="3">C</text><text x="-81.5" y="22.5">O</text></g>
<path d="M-76 0H-71.5M-94.5 0H-89M-84.6 6.5V12M-82.2 6.5V12" stroke="#000" stroke-width="0.8" fill="none"/>
</g>
<g transform="translate(1525.7 169.6) rotate(355)">
<g font-family='"Liberation Serif", "DejaVu Serif", serif' font-size="9" fill="#000" text-anchor="middle" stroke="#000" stroke-width="0.2">
<text x="-63.5" y="3">OH</text><text x="-84" y="3">C</text><text x="-81.5" y="22.5">O</text></g>
<path d="M-76 0H-71.5M-94.5 0H-89M-84.6 6.5V12M-82.2 6.5V12" stroke="#000" stroke-width="0.8" fill="none"/>
</g>
<g>
<ellipse cx="1525.7" cy="169.6" rx="47.3" ry="48.7" fill="#fff" stroke="#ffdc6a" stroke-width="5.8" filter="url(#blur1)"/>
<path d="M1526.2 156L1527.4 120.9M1535.2 159.8L1558.6 134.6M1538.9 166.3L1571.6 157.8M1538.9 172.9L1571.6 181.4M1534.2 180.3L1555.1 207.7M1526.2 183.2L1527.4 218.3M1518.1 180.9L1499.3 210M1512.5 173.1L1480 182.2M1512.7 165.5L1480.6 154.9M1518.1 158.3L1499.3 129.2" stroke="#ffe48a" stroke-width="5" fill="none" filter="url(#blur0)"/>
<path d="M1526.2 156L1527.4 120.9M1535.2 159.8L1558.6 134.6M1538.9 166.3L1571.6 157.8M1538.9 172.9L1571.6 181.4M1534.2 180.3L1555.1 207.7M1526.2 183.2L1527.4 218.3M1518.1 180.9L1499.3 210M1512.5 173.1L1480 182.2M1512.7 165.5L1480.6 154.9M1518.1 158.3L1499.3 129.2" stroke="#ffc93f" stroke-width="2.9" fill="none"/>
<path d="M1526.2 156L1527.4 120.9M1535.2 159.8L1558.6 134.6M1538.9 166.3L1571.6 157.8M1538.9 172.9L1571.6 181.4M1534.2 180.3L1555.1 207.7M1526.2 183.2L1527.4 218.3M1518.1 180.9L1499.3 210M1512.5 173.1L1480 182.2M1512.7 165.5L1480.6 154.9M1518.1 158.3L1499.3 129.2" stroke="#d2491a" stroke-width="0.8" fill="none"/>
<ellipse cx="1525.7" cy="169.6" rx="47.3" ry="48.7" fill="none" stroke="#ffc63c" stroke-width="3.1"/>
<ellipse cx="1525.7" cy="169.6" rx="47" ry="48.5" fill="none" stroke="#c6401a" stroke-width="1.1"/>
<g font-family='"Liberation Serif", "DejaVu Serif", serif' font-size="12" fill="#000" text-anchor="middle" stroke="#000" stroke-width="0.12" letter-spacing="0.5">
<text transform="translate(1497.2 151.5) rotate(30)" y="4">NH<tspan font-size="8.6" dy="2.6">2</tspan></text>
<text transform="translate(1516.6 141.4) rotate(72)" y="4">NH<tspan font-size="8.6" dy="2.6">2</tspan></text>
<text transform="translate(1537.5 141.4) rotate(-55)" y="4">H<tspan font-size="8.6" dy="2.6">2</tspan><tspan dy="-2.6">N</tspan></text>
<text transform="translate(1554.5 154.6) rotate(-25)" y="4">H<tspan font-size="8.6" dy="2.6">2</tspan><tspan dy="-2.6">N</tspan></text>
<text transform="translate(1555.3 170.9) rotate(0)" y="4">H<tspan font-size="8.6" dy="2.6">2</tspan><tspan dy="-2.6">N</tspan></text>
<text transform="translate(1551.4 188.7) rotate(25)" y="4">H<tspan font-size="8.6" dy="2.6">2</tspan><tspan dy="-2.6">N</tspan></text>
<text transform="translate(1539 201.1) rotate(50)" y="4">H<tspan font-size="8.6" dy="2.6">2</tspan><tspan dy="-2.6">N</tspan></text>
<text transform="translate(1515.8 202.6) rotate(105)" y="4">H<tspan font-size="8.6" dy="2.6">2</tspan><tspan dy="-2.6">N</tspan></text>
<text transform="translate(1499.5 191.8) rotate(-30)" y="4">NH<tspan font-size="8.6" dy="2.6">2</tspan></text>
<text transform="translate(1494.9 170.9) rotate(0)" y="4">NH<tspan font-size="8.6" dy="2.6">2</tspan></text>
</g>
<ellipse cx="1525.7" cy="169.6" rx="15.2" ry="16.4" fill="#ff50f0" filter="url(#blur1)"/>
<ellipse cx="1525.7" cy="169.6" rx="14.2" ry="15.4" fill="#f4d9f2"/>
<ellipse cx="1526.1" cy="170" rx="13.4" ry="14.6" fill="#8d8090"/>
<ellipse cx="1525.6" cy="169.5" rx="13" ry="14.1" fill="url(#gBallL)"/>
</g>
<path transform="translate(1525.7 169.6) rotate(34)" d="M-58.5 -2.6C-54 -6.5 -51 -4.5 -49 -0.5C-47 3.2 -44.5 3 -40.5 1.2" stroke="#b23fdc" stroke-width="1.8" fill="none" stroke-linecap="round"/>
<path transform="translate(1525.7 169.6) rotate(65)" d="M-58.5 -2.6C-54 -6.5 -51 -4.5 -49 -0.5C-47 3.2 -44.5 3 -40.5 1.2" stroke="#b23fdc" stroke-width="1.8" fill="none" stroke-linecap="round"/>
<path transform="translate(1525.7 169.6) rotate(114)" d="M-58.5 -2.6C-54 -6.5 -51 -4.5 -49 -0.5C-47 3.2 -44.5 3 -40.5 1.2" stroke="#b23fdc" stroke-width="1.8" fill="none" stroke-linecap="round"/>
<path transform="translate(1525.7 169.6) rotate(150)" d="M-58.5 -2.6C-54 -6.5 -51 -4.5 -49 -0.5C-47 3.2 -44.5 3 -40.5 1.2" stroke="#b23fdc" stroke-width="1.8" fill="none" stroke-linecap="round"/>
<path transform="translate(1525.7 169.6) rotate(175)" d="M-58.5 -2.6C-54 -6.5 -51 -4.5 -49 -0.5C-47 3.2 -44.5 3 -40.5 1.2" stroke="#b23fdc" stroke-width="1.8" fill="none" stroke-linecap="round"/>
<path transform="translate(1525.7 169.6) rotate(207)" d="M-58.5 -2.6C-54 -6.5 -51 -4.5 -49 -0.5C-47 3.2 -44.5 3 -40.5 1.2" stroke="#b23fdc" stroke-width="1.8" fill="none" stroke-linecap="round"/>
<path transform="translate(1525.7 169.6) rotate(241)" d="M-58.5 -2.6C-54 -6.5 -51 -4.5 -49 -0.5C-47 3.2 -44.5 3 -40.5 1.2" stroke="#b23fdc" stroke-width="1.8" fill="none" stroke-linecap="round"/>
<path transform="translate(1525.7 169.6) rotate(277)" d="M-58.5 -2.6C-54 -6.5 -51 -4.5 -49 -0.5C-47 3.2 -44.5 3 -40.5 1.2" stroke="#b23fdc" stroke-width="1.8" fill="none" stroke-linecap="round"/>
<path transform="translate(1525.7 169.6) rotate(320)" d="M-58.5 -2.6C-54 -6.5 -51 -4.5 -49 -0.5C-47 3.2 -44.5 3 -40.5 1.2" stroke="#b23fdc" stroke-width="1.8" fill="none" stroke-linecap="round"/>
<path transform="translate(1525.7 169.6) rotate(355)" d="M-58.5 -2.6C-54 -6.5 -51 -4.5 -49 -0.5C-47 3.2 -44.5 3 -40.5 1.2" stroke="#b23fdc" stroke-width="1.8" fill="none" stroke-linecap="round"/>
<g fill="none" stroke-width="2.4" stroke-linecap="round">
<path d="M1426.7 115.7C1428.1 115 1432.5 113.3 1435.3 111.8C1438.2 110.3 1441.5 108.3 1443.5 106.6C1445.5 105 1446.6 103.3 1447.3 101.8C1448 100.3 1448.3 99.4 1447.6 97.8C1446.8 96.2 1444.9 94.2 1442.6 92.1C1440.2 90.1 1435.6 87.3 1433.4 85.7C1431.1 84 1430.2 83.4 1429.1 82.3C1428 81.3 1427.3 80.6 1426.8 79.4C1426.4 78.2 1426 76.3 1426.3 75.1C1426.6 73.9 1427.6 73.1 1428.9 72C1430.2 71 1432.2 69.8 1433.9 68.6C1435.6 67.5 1437.1 66.5 1438.9 65.2C1440.8 63.9 1443.2 62.1 1444.8 60.8C1446.4 59.4 1447.6 58.6 1448.5 57.3C1449.5 55.9 1450.4 53.8 1450.4 52.6C1450.5 51.4 1449.5 50.8 1448.7 50.1C1448 49.3 1446.4 48.4 1445.9 48" stroke="#ff0000" stroke-width="2.3"/>
<path d="M1440.9 114.2C1439.9 113.9 1436.7 113.1 1434.9 112.2C1433.1 111.3 1431 110.2 1430.3 109C1429.6 107.8 1429.8 106.4 1430.5 105C1431.2 103.6 1432.5 102.7 1434.5 100.7C1436.6 98.8 1440.9 95.2 1443 93.2C1445.2 91.2 1446.4 90.1 1447.6 88.7C1448.7 87.4 1449.5 86.3 1450 85.1C1450.4 84 1450.3 82.8 1450.1 81.8C1449.9 80.8 1450.5 80.7 1448.7 79.2C1447 77.7 1442 74.3 1439.5 72.7C1437 71.2 1435.3 70.8 1433.8 70C1432.4 69.1 1431.4 68.4 1430.8 67.4C1430.1 66.3 1429.8 65 1429.9 63.8C1430.1 62.7 1430.9 61.7 1431.8 60.5C1432.6 59.2 1434 57.6 1435.2 56.4C1436.5 55.3 1437.3 54.8 1439.2 53.5C1441 52.2 1445 49.4 1446.1 48.6" stroke="#0aa846" stroke-width="2"/>
<path d="M1466.9 76.4C1468.5 76.4 1473.3 76.6 1476.5 76.3C1479.7 76.1 1483.5 75.6 1486 74.9C1488.5 74.2 1490.2 73.1 1491.4 72C1492.7 70.9 1493.4 70.2 1493.3 68.5C1493.2 66.7 1492.3 64.1 1491 61.3C1489.6 58.5 1486.6 54.1 1485.2 51.7C1483.8 49.3 1483.2 48.3 1482.6 46.9C1482 45.5 1481.6 44.6 1481.7 43.3C1481.7 42 1482.1 40.1 1482.9 39.1C1483.7 38.1 1484.9 37.8 1486.5 37.4C1488.1 36.9 1490.5 36.6 1492.5 36.3C1494.5 35.9 1496.3 35.6 1498.5 35.1C1500.7 34.7 1503.7 34 1505.7 33.5C1507.7 32.9 1509.1 32.6 1510.5 31.7C1511.9 30.9 1513.6 29.3 1514.1 28.2C1514.6 27.1 1513.9 26.2 1513.5 25.2C1513.1 24.2 1512.1 22.7 1511.8 22.2" stroke="#ff0000" stroke-width="2.3"/>
<path d="M1480.6 80.8C1479.8 80.1 1477.2 78.1 1475.9 76.6C1474.6 75.1 1473.2 73.2 1473 71.8C1472.8 70.4 1473.6 69.2 1474.8 68.2C1476 67.2 1477.5 66.9 1480.2 65.9C1482.9 64.9 1488.2 63.4 1491 62.5C1493.8 61.5 1495.4 60.9 1497 60.2C1498.6 59.4 1499.7 58.7 1500.6 57.8C1501.4 56.9 1501.8 55.8 1502 54.9C1502.3 53.9 1502.8 54 1501.8 51.9C1500.8 49.8 1497.7 44.7 1496 42.3C1494.4 39.9 1492.9 38.8 1491.9 37.4C1490.9 36 1490.3 35 1490.2 33.8C1490 32.6 1490.2 31.3 1490.8 30.3C1491.4 29.3 1492.5 28.7 1493.8 27.9C1495.1 27.2 1497 26.2 1498.6 25.6C1500.2 25 1501.2 24.9 1503.4 24.5C1505.6 24 1510.4 23.1 1511.8 22.8" stroke="#0aa846" stroke-width="2"/>
<path d="M1559.9 62.3C1560.8 63.6 1563.4 67.6 1565.4 70.1C1567.4 72.5 1570 75.5 1572 77.1C1574.1 78.8 1575.9 79.5 1577.5 79.9C1579.1 80.3 1580 80.5 1581.5 79.4C1582.9 78.3 1584.5 76.1 1586.1 73.4C1587.6 70.7 1589.5 65.7 1590.6 63.1C1591.8 60.6 1592.3 59.6 1593.1 58.3C1594 57 1594.5 56.2 1595.6 55.5C1596.7 54.8 1598.4 54.1 1599.7 54.2C1601 54.3 1601.9 55.1 1603.2 56.1C1604.5 57.2 1606.1 59 1607.5 60.4C1608.9 61.8 1610.2 63.2 1611.8 64.7C1613.4 66.2 1615.7 68.3 1617.3 69.6C1618.9 70.9 1619.9 71.9 1621.4 72.6C1623 73.2 1625.2 73.7 1626.4 73.5C1627.6 73.3 1627.9 72.3 1628.5 71.4C1629.1 70.5 1629.8 68.8 1630 68.2" stroke="#ff0000" stroke-width="2.3"/>
<path d="M1564.1 76C1564.2 75 1564.4 71.6 1564.9 69.7C1565.4 67.8 1566.1 65.5 1567.2 64.6C1568.2 63.6 1569.7 63.6 1571.1 64.1C1572.6 64.5 1573.8 65.5 1576.1 67.2C1578.4 68.8 1582.7 72.3 1585.1 74.1C1587.5 75.8 1588.8 76.8 1590.4 77.7C1591.9 78.6 1593.2 79.1 1594.4 79.3C1595.6 79.5 1596.7 79.2 1597.6 78.8C1598.6 78.4 1598.8 79 1600 77C1601.1 75 1603.5 69.4 1604.5 66.7C1605.6 64 1605.6 62.2 1606.2 60.6C1606.8 59 1607.3 57.9 1608.1 57.1C1609 56.3 1610.3 55.7 1611.4 55.6C1612.6 55.5 1613.7 56.1 1615.1 56.7C1616.5 57.4 1618.3 58.4 1619.7 59.4C1621.1 60.3 1621.7 61.1 1623.4 62.6C1625 64.2 1628.5 67.6 1629.5 68.6" stroke="#0aa846" stroke-width="2"/>
<path d="M1615.1 106.2C1615.1 107.8 1615 112.6 1615.3 115.7C1615.6 118.9 1616.1 122.8 1616.9 125.3C1617.6 127.8 1618.7 129.4 1619.8 130.6C1620.9 131.8 1621.6 132.5 1623.4 132.4C1625.2 132.3 1627.8 131.4 1630.6 130.1C1633.3 128.7 1637.7 125.5 1640.1 124.1C1642.5 122.7 1643.5 122.1 1644.9 121.5C1646.3 120.9 1647.2 120.5 1648.4 120.5C1649.7 120.6 1651.6 120.9 1652.6 121.7C1653.6 122.5 1653.9 123.7 1654.4 125.3C1654.9 126.9 1655.2 129.3 1655.6 131.3C1656 133.3 1656.3 135.1 1656.8 137.2C1657.3 139.4 1657.9 142.4 1658.5 144.4C1659.1 146.4 1659.4 147.8 1660.3 149.2C1661.2 150.6 1662.8 152.3 1663.9 152.8C1665 153.2 1665.9 152.6 1666.9 152.2C1667.9 151.8 1669.4 150.7 1669.9 150.4" stroke="#ff0000" stroke-width="2.3"/>
<path d="M1610.9 119.9C1611.6 119.1 1613.6 116.4 1615.1 115.1C1616.6 113.8 1618.5 112.4 1619.8 112.2C1621.2 112 1622.4 112.8 1623.4 114C1624.4 115.2 1624.8 116.6 1625.8 119.3C1626.8 122 1628.4 127.3 1629.4 130.1C1630.3 132.8 1630.9 134.4 1631.7 136C1632.5 137.6 1633.2 138.8 1634.1 139.6C1635 140.4 1636.1 140.8 1637.1 141C1638.1 141.2 1638 141.8 1640.1 140.8C1642.2 139.8 1647.2 136.5 1649.6 134.9C1652 133.2 1653 131.7 1654.4 130.7C1655.8 129.7 1656.8 129.1 1658 128.9C1659.2 128.7 1660.5 128.9 1661.5 129.5C1662.5 130.1 1663.1 131.2 1663.9 132.5C1664.7 133.8 1665.7 135.7 1666.3 137.3C1666.9 138.8 1667 139.8 1667.5 142C1668 144.2 1669 149 1669.3 150.4" stroke="#0aa846" stroke-width="2"/>
<path d="M1636 148.4C1635.4 149.8 1633.2 154.1 1632.1 157.1C1631 160.1 1629.7 163.8 1629.3 166.3C1628.9 168.9 1629.2 170.9 1629.7 172.4C1630.2 174 1630.5 174.9 1632.1 175.6C1633.8 176.3 1636.5 176.6 1639.6 176.6C1642.7 176.5 1648 175.6 1650.8 175.3C1653.6 175.1 1654.7 175 1656.2 175C1657.7 175.1 1658.7 175.1 1659.9 175.7C1661 176.3 1662.6 177.5 1663.1 178.6C1663.6 179.8 1663.4 181 1663.2 182.6C1662.9 184.3 1662.1 186.5 1661.6 188.5C1661.1 190.5 1660.6 192.2 1660.1 194.4C1659.6 196.6 1659 199.6 1658.6 201.6C1658.3 203.7 1658 205 1658.2 206.7C1658.4 208.3 1659.1 210.5 1659.8 211.5C1660.6 212.4 1661.7 212.1 1662.8 212.2C1663.8 212.3 1665.7 212 1666.2 211.9" stroke="#ff0000" stroke-width="2.3"/>
<path d="M1626.3 158.9C1627.3 158.5 1630.2 156.9 1632.1 156.4C1634 155.9 1636.4 155.4 1637.7 155.8C1639.1 156.2 1639.8 157.5 1640.2 159C1640.5 160.5 1640.2 162 1640 164.8C1639.7 167.7 1638.9 173.1 1638.5 176C1638.2 179 1638.1 180.7 1638.1 182.5C1638.1 184.2 1638.3 185.6 1638.7 186.7C1639.1 187.8 1639.9 188.7 1640.8 189.3C1641.6 189.9 1641.2 190.4 1643.5 190.4C1645.9 190.3 1651.8 189.6 1654.7 189.1C1657.6 188.7 1659.1 187.7 1660.8 187.5C1662.5 187.2 1663.7 187.1 1664.8 187.4C1666 187.7 1667.2 188.5 1667.8 189.5C1668.4 190.5 1668.5 191.7 1668.6 193.2C1668.8 194.7 1668.9 196.8 1668.7 198.5C1668.6 200.2 1668.2 201.2 1667.7 203.4C1667.2 205.5 1666 210.3 1665.7 211.6" stroke="#0aa846" stroke-width="2"/>
<path d="M1628.3 207.6C1627 208.6 1623.2 211.3 1620.8 213.5C1618.4 215.6 1615.6 218.3 1614.1 220.4C1612.5 222.5 1611.8 224.4 1611.5 226C1611.2 227.6 1611.1 228.5 1612.2 229.9C1613.4 231.3 1615.6 232.8 1618.4 234.2C1621.2 235.6 1626.3 237.3 1628.9 238.3C1631.4 239.4 1632.5 239.8 1633.8 240.6C1635.1 241.3 1636 241.8 1636.7 242.9C1637.5 243.9 1638.3 245.7 1638.2 246.9C1638.2 248.2 1637.4 249.2 1636.4 250.5C1635.5 251.9 1633.7 253.5 1632.4 255C1631 256.5 1629.8 257.8 1628.3 259.5C1626.8 261.2 1624.9 263.6 1623.6 265.2C1622.4 266.9 1621.5 268 1620.9 269.5C1620.3 271.1 1619.9 273.3 1620.1 274.5C1620.4 275.7 1621.5 276 1622.4 276.6C1623.3 277.1 1625.1 277.7 1625.6 277.9" stroke="#ff0000" stroke-width="2.3"/>
<path d="M1614.8 212.4C1615.9 212.5 1619.2 212.5 1621.1 212.9C1623 213.3 1625.4 214 1626.4 215C1627.3 216 1627.4 217.4 1627 218.9C1626.7 220.4 1625.7 221.6 1624.2 224C1622.6 226.4 1619.3 230.8 1617.7 233.3C1616 235.7 1615.1 237.2 1614.3 238.7C1613.5 240.3 1613 241.6 1612.9 242.8C1612.7 244 1613.1 245.1 1613.5 246C1613.9 246.9 1613.4 247.2 1615.5 248.3C1617.6 249.3 1623.2 251.5 1625.9 252.4C1628.7 253.3 1630.5 253.2 1632.1 253.7C1633.8 254.2 1634.8 254.7 1635.7 255.5C1636.6 256.4 1637.2 257.6 1637.4 258.7C1637.5 259.9 1637 261 1636.4 262.4C1635.8 263.8 1634.9 265.8 1634 267.2C1633.1 268.6 1632.3 269.3 1630.9 271C1629.4 272.7 1626.2 276.3 1625.2 277.4" stroke="#0aa846" stroke-width="2"/>
<path d="M1591.9 258C1590.4 258.3 1585.6 258.8 1582.5 259.5C1579.4 260.2 1575.6 261.2 1573.3 262.3C1570.9 263.4 1569.4 264.7 1568.3 266C1567.3 267.2 1566.7 268 1567 269.7C1567.4 271.5 1568.6 273.9 1570.3 276.5C1572.1 279.1 1575.8 283 1577.5 285.2C1579.2 287.4 1579.9 288.3 1580.7 289.6C1581.5 290.9 1582 291.7 1582.1 293C1582.3 294.3 1582.1 296.2 1581.5 297.3C1580.8 298.4 1579.7 298.8 1578.2 299.5C1576.7 300.2 1574.3 300.8 1572.4 301.5C1570.5 302.1 1568.8 302.7 1566.7 303.5C1564.6 304.2 1561.7 305.3 1559.8 306.2C1557.9 307 1556.6 307.5 1555.3 308.6C1554.1 309.6 1552.6 311.4 1552.2 312.6C1551.9 313.7 1552.7 314.5 1553.2 315.4C1553.8 316.4 1555 317.7 1555.4 318.2" stroke="#ff0000" stroke-width="2.3"/>
<path d="M1577.8 255.7C1578.7 256.3 1581.6 257.9 1583.1 259.2C1584.5 260.5 1586.3 262.2 1586.7 263.5C1587 264.9 1586.4 266.2 1585.3 267.3C1584.3 268.5 1582.9 269.1 1580.3 270.4C1577.8 271.7 1572.8 274 1570.2 275.3C1567.5 276.7 1566 277.5 1564.6 278.5C1563.1 279.5 1562.1 280.3 1561.3 281.3C1560.6 282.3 1560.4 283.4 1560.3 284.5C1560.3 285.5 1559.6 285.4 1560.9 287.4C1562.2 289.3 1566.1 293.9 1568.1 296.1C1570.1 298.2 1571.7 299 1572.9 300.2C1574 301.5 1574.7 302.4 1575.1 303.5C1575.5 304.7 1575.4 306.1 1575 307.2C1574.5 308.2 1573.5 309 1572.3 309.9C1571.2 310.9 1569.4 312.1 1567.9 312.9C1566.4 313.7 1565.5 313.9 1563.4 314.7C1561.2 315.5 1556.7 317.1 1555.3 317.6" stroke="#0aa846" stroke-width="2"/>
<path d="M1525.6 283.4C1524.4 282.4 1520.9 279.2 1518.3 277.4C1515.7 275.5 1512.4 273.3 1510 272.3C1507.7 271.2 1505.7 271 1504 271C1502.4 271.1 1501.4 271.2 1500.3 272.6C1499.3 274 1498.2 276.5 1497.5 279.5C1496.7 282.6 1496.2 287.9 1495.7 290.6C1495.3 293.4 1495.1 294.5 1494.6 296C1494.1 297.4 1493.9 298.3 1493 299.3C1492.1 300.2 1490.6 301.4 1489.3 301.7C1488.1 301.9 1487 301.3 1485.5 300.7C1483.9 300 1481.9 298.7 1480.2 297.7C1478.4 296.7 1476.9 295.7 1474.9 294.7C1472.9 293.6 1470.2 292.2 1468.3 291.4C1466.4 290.5 1465.2 289.8 1463.5 289.6C1461.9 289.4 1459.6 289.4 1458.5 289.9C1457.4 290.4 1457.4 291.6 1457 292.6C1456.7 293.6 1456.5 295.4 1456.4 296" stroke="#ff0000" stroke-width="2.3"/>
<path d="M1518 271.3C1518.1 272.3 1518.9 275.6 1518.9 277.6C1518.9 279.5 1518.8 281.9 1518 283.1C1517.2 284.3 1515.9 284.7 1514.3 284.7C1512.8 284.6 1511.4 284 1508.7 283C1506 282 1501 279.7 1498.2 278.6C1495.5 277.6 1493.9 277 1492.2 276.5C1490.5 276.1 1489.1 275.9 1487.9 276C1486.7 276.1 1485.7 276.7 1484.9 277.3C1484.1 277.9 1483.7 277.5 1483.1 279.7C1482.5 282 1481.7 287.9 1481.4 290.8C1481.1 293.7 1481.6 295.5 1481.4 297.2C1481.3 298.9 1481.1 300 1480.4 301C1479.8 302.1 1478.7 303 1477.6 303.4C1476.5 303.7 1475.3 303.5 1473.8 303.2C1472.3 303 1470.3 302.5 1468.7 301.9C1467.1 301.3 1466.3 300.7 1464.3 299.7C1462.3 298.6 1458 296.2 1456.8 295.6" stroke="#0aa846" stroke-width="2"/>
<path d="M1443.2 250.5C1443 248.9 1442.7 244.2 1442.1 241C1441.6 237.9 1440.8 234.1 1439.8 231.6C1438.9 229.2 1437.6 227.6 1436.4 226.5C1435.2 225.4 1434.5 224.8 1432.7 225C1430.9 225.3 1428.4 226.4 1425.8 228C1423.1 229.6 1419 233.1 1416.8 234.7C1414.5 236.3 1413.6 237 1412.2 237.7C1410.9 238.4 1410 238.9 1408.7 238.9C1407.4 239 1405.5 238.8 1404.5 238.1C1403.4 237.4 1403 236.2 1402.4 234.7C1401.8 233.1 1401.3 230.8 1400.7 228.8C1400.2 226.9 1399.7 225.1 1399.1 223C1398.4 220.9 1397.5 217.9 1396.7 216C1395.9 214.1 1395.5 212.7 1394.5 211.4C1393.5 210.1 1391.8 208.5 1390.7 208.1C1389.6 207.7 1388.7 208.5 1387.8 209C1386.8 209.4 1385.4 210.6 1384.9 211" stroke="#ff0000" stroke-width="2.3"/>
<path d="M1446.2 236.5C1445.6 237.3 1443.8 240.2 1442.4 241.6C1441 243 1439.3 244.6 1437.9 244.9C1436.5 245.3 1435.3 244.6 1434.2 243.5C1433.1 242.3 1432.6 240.9 1431.4 238.3C1430.2 235.7 1428.2 230.6 1427 227.9C1425.8 225.2 1425 223.7 1424.1 222.2C1423.2 220.6 1422.4 219.5 1421.4 218.8C1420.5 218 1419.4 217.7 1418.4 217.6C1417.3 217.5 1417.4 216.9 1415.4 218.1C1413.4 219.3 1408.6 222.9 1406.4 224.8C1404.1 226.7 1403.3 228.2 1402 229.3C1400.7 230.4 1399.7 231.1 1398.6 231.4C1397.4 231.7 1396 231.6 1394.9 231.1C1393.9 230.6 1393.2 229.5 1392.3 228.3C1391.4 227.1 1390.3 225.3 1389.6 223.8C1388.8 222.2 1388.7 221.2 1388 219.1C1387.3 217 1385.9 212.3 1385.5 210.9" stroke="#0aa846" stroke-width="2"/>
<path d="M1419.2 191.9C1419.8 190.4 1421.7 186 1422.7 183C1423.7 180 1424.7 176.2 1425 173.6C1425.3 171 1424.9 169 1424.4 167.5C1423.9 166 1423.5 165.1 1421.8 164.5C1420.1 163.9 1417.4 163.7 1414.3 163.8C1411.2 164 1406 165.2 1403.2 165.6C1400.4 165.9 1399.3 166.1 1397.8 166.1C1396.3 166.1 1395.3 166.1 1394.1 165.6C1393 165 1391.4 164 1390.8 162.8C1390.2 161.7 1390.4 160.5 1390.5 158.8C1390.7 157.2 1391.4 154.9 1391.8 152.9C1392.2 150.9 1392.6 149.1 1393 146.9C1393.4 144.7 1394 141.7 1394.2 139.7C1394.4 137.6 1394.7 136.2 1394.4 134.6C1394.2 133 1393.4 130.8 1392.6 129.9C1391.7 129 1390.6 129.3 1389.6 129.3C1388.5 129.2 1386.7 129.7 1386.1 129.7" stroke="#ff0000" stroke-width="2.3"/>
<path d="M1428.4 180.9C1427.4 181.4 1424.6 183 1422.7 183.6C1420.8 184.2 1418.5 184.9 1417.1 184.5C1415.8 184.1 1415 182.9 1414.5 181.5C1414.1 180 1414.3 178.4 1414.5 175.6C1414.6 172.7 1415.2 167.3 1415.4 164.3C1415.6 161.4 1415.7 159.7 1415.6 157.9C1415.5 156.1 1415.3 154.8 1414.8 153.7C1414.3 152.6 1413.4 151.8 1412.6 151.2C1411.8 150.6 1412.1 150.1 1409.8 150.2C1407.4 150.4 1401.5 151.3 1398.7 152C1395.8 152.6 1394.3 153.5 1392.6 153.9C1391 154.3 1389.8 154.4 1388.6 154.1C1387.5 153.9 1386.3 153.1 1385.6 152.2C1384.9 151.3 1384.8 150 1384.6 148.5C1384.4 147 1384.2 144.9 1384.3 143.2C1384.3 141.5 1384.6 140.5 1385 138.3C1385.4 136.1 1386.4 131.4 1386.7 130" stroke="#0aa846" stroke-width="2"/>
</g>
<path d="M1675.2 114.6C1676.1 115.8 1678.7 118.9 1680.6 121.7C1682.5 124.5 1685.5 127.9 1686.5 131.3C1687.6 134.6 1687.9 138.6 1687.1 142C1686.3 145.4 1684.5 149 1681.8 151.5C1679.1 154 1675 155.7 1671 156.9C1667.1 158.1 1662.5 159 1657.9 158.7C1653.4 158.4 1648.4 156.9 1643.6 155.1C1638.9 153.3 1633.7 150.5 1629.3 147.9C1625 145.4 1620.7 143 1617.4 139.6C1614.1 136.2 1611.5 131.6 1609.7 127.7C1607.9 123.7 1606.6 119.5 1606.7 115.8C1606.8 112 1608.1 107.8 1610.3 105C1612.4 102.2 1616.2 100.5 1619.8 99.1C1623.4 97.7 1627.7 96.9 1631.7 96.7C1635.7 96.5 1639.9 97 1643.6 97.9C1647.4 98.8 1651.4 100.9 1654.4 102.1C1657.3 103.2 1660.3 104.5 1661.5 105L1681.2 99.7L1675.2 114.6" fill="none" stroke="#29abe2" stroke-width="1.6" stroke-dasharray="5.5 4"/>
<polygon fill="#ff9966" points="1734.6,70.3 1754,82.7 1747,102.4 1721.9,102.4 1715.3,82.7"/>
<polygon fill="#ccff66" points="1774.9,25.9 1799.7,25.9 1806.7,45.6 1787,57.5 1767.9,45.6"/>
<path d="M1655.6 62.1L1668.8 62.1M1678.6 42.9L1678.6 54.9M1677.5 68.8L1677.5 80.4M1680.6 68.8L1680.6 80.4M1688.9 62.1L1702.1 62.1M1715.7 69.9L1715.7 82M1723 102.9L1723 114.5M1754.5 69.6L1754.5 82M1768.7 45.6L1768.7 58M1807.5 45.6L1807.5 58.7M1820.6 64.9L1833.8 64.9M1847.6 46.3L1847.6 58M1851 46.3L1851 58M1847.7 71.9L1847.7 84.3M1855.5 64.9L1868.6 64.9" stroke="#222" stroke-width="0.9" fill="none"/>
<g font-family='"Liberation Serif", "DejaVu Serif", serif' font-size="11.5" font-style="italic" fill="#000" text-anchor="middle">
<text x="1650.2" y="66.4">O</text>
<text x="1678.6" y="65.9">PO</text>
<text x="1678.9" y="40.1">O</text>
<text x="1678.9" y="92">O</text>
<text x="1715.3" y="66.4">CH<tspan font-size="8" dy="2.5">2</tspan></text>
<text x="1722.6" y="127.6">O</text>
<text x="1754.5" y="66.9">C</text>
<text x="1767.9" y="66.9">G</text>
<text x="1808.2" y="70.3">CH<tspan font-size="8" dy="2.5">2</tspan></text>
<text x="1843.9" y="69.5">OP</text>
<text x="1849.3" y="43.9">O</text>
<text x="1848.5" y="95.8">O</text>
<text x="1875.6" y="69">O</text>
</g>
<path d="M1641.2 58h4M1881.4 61.1h4" stroke="#000" stroke-width="0.8"/>
<g font-family='"Liberation Sans", Arial, sans-serif' font-size="21" fill="#000" text-anchor="middle">
<text x="1804.6" y="250.8">EDC enhance the</text>
<text x="1804.6" y="276.1">binding of amine</text>
<text x="1804.6" y="301.3">and carboxyl bond</text>
<text x="1804.6" y="326.6">and stabilize it</text>
<text x="1629.3" y="639">Amine group</text>
<text x="1629.3" y="664">on zeolite</text>
<text x="1629.3" y="689.1">stabilized</text>
<text x="1629.3" y="714.1">by NHS</text>
<text x="1588.4" y="478.7">EDC</text>
<text x="1862.7" y="705.7">NHS</text><text x="1862.7" y="731.4">ester</text>
</g>
<path d="M1749 376C1745.8 372.2 1735.7 360.4 1729.7 353.7C1723.8 346.9 1718.3 341.8 1713.5 335.4C1708.8 329 1705.1 322.6 1701.4 315.1C1697.6 307.7 1693.9 299 1691.2 290.8C1688.5 282.6 1686.2 270.2 1685.1 266.1L1677 266.5L1684.1 245.8L1700.3 263.4L1694.3 264.5C1695.8 268.9 1700.2 282.4 1703.4 290.8C1706.6 299.3 1709.8 307.4 1713.5 315.1C1717.2 322.9 1721.3 329.7 1725.7 337.4C1730.1 345.2 1736 355.3 1739.9 361.8C1743.8 368.2 1747.5 373.6 1749 376Z" fill="url(#gA1)"/>
<path d="M1749 376C1747.5 373.8 1743.8 368.9 1739.9 362.8C1736 356.7 1730.6 345.1 1725.7 339.5C1720.8 333.8 1716.2 331.5 1710.5 328.9C1704.7 326.4 1699.5 324.2 1691.2 324.3C1682.9 324.3 1671 326 1660.8 329.3C1650.7 332.7 1635.5 342 1630.4 344.5L1625.3 338.5L1614.2 356.7L1639.5 356.7L1634.5 351.6C1638.9 349.3 1651.4 340.8 1660.8 337.4C1670.3 334.1 1682.4 331.7 1691.2 331.4C1700 331 1707.1 331.7 1713.5 335.4C1719.9 339.1 1723.8 346.9 1729.7 353.7C1735.7 360.4 1745.8 372.2 1749 376Z" fill="url(#gA2)"/>
<path d="M1577.9 588.5C1582.5 586.3 1596.4 580.1 1605.3 575.4C1614.2 570.6 1623.2 566.6 1631.5 559.9C1639.9 553.2 1647.8 543.1 1655.4 535.3C1662.9 527.6 1673.3 517 1676.8 513.4L1672.1 509.8L1694.7 501.5L1691.1 522.4L1685.2 519.3C1682.2 522.5 1674.4 531.7 1667.3 538.4C1660.1 545.2 1650.2 554.3 1642.3 559.9C1634.3 565.4 1627.4 568 1619.6 571.8C1611.9 575.6 1602.7 579.7 1595.8 582.5C1588.8 585.3 1580.9 587.5 1577.9 588.5Z" fill="url(#gA3)"/>
<path d="M1577.9 588.5C1582.5 586.2 1596.8 579.5 1605.3 574.9C1613.8 570.3 1623.6 563.2 1629.1 561.1C1634.7 559 1633.5 560.4 1638.7 562.3C1643.8 564.2 1652.6 566.8 1660.1 572.5C1667.7 578.2 1677.6 589.5 1684 596.4C1690.3 603.2 1695.9 610.7 1698.3 613.5L1705.4 609.9L1705.9 630.7L1685.2 621.9L1689.9 619.5C1687.4 615.8 1680.2 604.5 1674.4 597.3C1668.7 590.2 1662.1 581.9 1655.4 576.6C1648.6 571.2 1639.9 566.2 1633.9 565.4C1628 564.6 1626 568.9 1619.6 571.8C1613.3 574.7 1602.7 579.7 1595.8 582.5C1588.8 585.3 1580.9 587.5 1577.9 588.5Z" fill="url(#gA4)"/>
<path d="M1414.8 417.7L1431 433M1436.4 452L1436.4 472.1M1445.3 433.9L1459.6 420.6M1459.6 420.6L1474.9 433.9M1474.9 433.9L1489.2 420.2M1489.2 420.2L1503.5 433M1515.9 430.1L1531.2 415.8M1518.8 433.9L1534 419M1544.5 401.5L1558.8 388.1M1547.4 404.9L1561.7 391M1574.1 388.1L1588.4 402.5M1588.4 402.5L1602.7 388.1" stroke="#111" stroke-width="1.1" fill="none"/>
<g font-family='"Liberation Serif", "DejaVu Serif", serif' font-size="18.5" font-style="italic" fill="#000" text-anchor="middle">
<text x="1398.6" y="413.2">CH<tspan font-size="13" dy="4">3</tspan></text>
<text x="1436.8" y="447.2">N</text>
<text x="1436.8" y="490.5">CH<tspan font-size="13" dy="4">3</tspan></text>
<text x="1508.9" y="447.2">N</text>
<text x="1537.8" y="417">C</text>
<text x="1567.4" y="388.4">N</text>
<text x="1617.9" y="388.4">CH<tspan font-size="13" dy="4">3</tspan></text>
</g>
<g>
<ellipse cx="1803.9" cy="449.3" rx="84.3" ry="86.8" fill="#fff" stroke="#ffdc6a" stroke-width="8.3" filter="url(#blur1)"/>
<path d="M1804.8 424.5L1806.8 362.5M1821.2 431.4L1862.5 386.8M1827.7 456.6L1884.5 474.7M1819.9 468.3L1858.1 515.8M1804.8 474.1L1806.8 536.1M1790.7 470.4L1759.2 522.9M1780.1 456.6L1723.3 474.7M1780.1 442L1723.3 423.9M1790.4 428.5L1758 376.5" stroke="#ffe48a" stroke-width="7.2" fill="none" filter="url(#blur0)"/>
<path d="M1804.8 424.5L1806.8 362.5M1821.2 431.4L1862.5 386.8M1827.7 456.6L1884.5 474.7M1819.9 468.3L1858.1 515.8M1804.8 474.1L1806.8 536.1M1790.7 470.4L1759.2 522.9M1780.1 456.6L1723.3 474.7M1780.1 442L1723.3 423.9M1790.4 428.5L1758 376.5" stroke="#ffc93f" stroke-width="4.1" fill="none"/>
<path d="M1804.8 424.5L1806.8 362.5M1821.2 431.4L1862.5 386.8M1827.7 456.6L1884.5 474.7M1819.9 468.3L1858.1 515.8M1804.8 474.1L1806.8 536.1M1790.7 470.4L1759.2 522.9M1780.1 456.6L1723.3 474.7M1780.1 442L1723.3 423.9M1790.4 428.5L1758 376.5" stroke="#d2491a" stroke-width="1.2" fill="none"/>
<ellipse cx="1803.9" cy="449.3" rx="84.3" ry="86.8" fill="none" stroke="#ffc63c" stroke-width="4.5"/>
<ellipse cx="1803.9" cy="449.3" rx="83.9" ry="86.5" fill="none" stroke="#c6401a" stroke-width="1.6"/>
<g font-family='"Liberation Serif", "DejaVu Serif", serif' font-size="21.5" fill="#000" text-anchor="middle" stroke="#000" stroke-width="0.2" letter-spacing="1">
<text transform="translate(1752 413.5) rotate(30)" y="7.1">NH<tspan font-size="15.5" dy="4.7">2</tspan></text>
<text transform="translate(1787.6 396.5) rotate(75)" y="7.1">NH<tspan font-size="15.5" dy="4.7">2</tspan></text>
<text transform="translate(1827.9 396.5) rotate(-52)" y="7.1">H<tspan font-size="15.5" dy="4.7">2</tspan><tspan dy="-4.7">N</tspan></text>
<text transform="translate(1855.8 422.8) rotate(-25)" y="7.1">H<tspan font-size="15.5" dy="4.7">2</tspan><tspan dy="-4.7">N</tspan></text>
<text transform="translate(1858.9 452.3) rotate(0)" y="7.1">H<tspan font-size="15.5" dy="4.7">2</tspan><tspan dy="-4.7">N</tspan></text>
<text transform="translate(1852.7 484.8) rotate(20)" y="7.1">H<tspan font-size="15.5" dy="4.7">2</tspan><tspan dy="-4.7">N</tspan></text>
<text transform="translate(1829.4 508) rotate(50)" y="7.1">H<tspan font-size="15.5" dy="4.7">2</tspan><tspan dy="-4.7">N</tspan></text>
<text transform="translate(1788.5 508) rotate(105)" y="7.1">H<tspan font-size="15.5" dy="4.7">2</tspan><tspan dy="-4.7">N</tspan></text>
<text transform="translate(1756.6 491) rotate(-32)" y="7.1">NH<tspan font-size="15.5" dy="4.7">2</tspan></text>
<text transform="translate(1747.3 452.3) rotate(0)" y="7.1">NH<tspan font-size="15.5" dy="4.7">2</tspan></text>
</g>
<ellipse cx="1803.9" cy="449.3" rx="26.7" ry="29.2" fill="#ff50f0" filter="url(#blur1)"/>
<ellipse cx="1803.9" cy="449.3" rx="25.1" ry="27.6" fill="#f4d9f2"/>
<ellipse cx="1804.6" cy="450.1" rx="24.1" ry="26.6" fill="#8d8090"/>
<ellipse cx="1803.7" cy="449" rx="23.4" ry="25.8" fill="url(#gBallL)"/>
</g>
<g font-family='"Liberation Serif", "DejaVu Serif", serif' font-size="24" fill="#000" text-anchor="middle" stroke="#000" stroke-width="0.25" letter-spacing="1">
<text transform="translate(1412.6 596.3) rotate(30)" y="8">NH<tspan font-size="17.3" dy="5.3">2</tspan></text>
<text transform="translate(1452.6 576.3) rotate(75)" y="8">NH<tspan font-size="17.3" dy="5.3">2</tspan></text>
<text transform="translate(1497.7 576.3) rotate(-52)" y="8">H<tspan font-size="17.3" dy="5.3">2</tspan><tspan dy="-5.3">N</tspan></text>
<text transform="translate(1529 603.8) rotate(-22)" y="8">H<tspan font-size="17.3" dy="5.3">2</tspan><tspan dy="-5.3">N</tspan></text>
<text transform="translate(1532.7 638.9) rotate(0)" y="8">H<tspan font-size="17.3" dy="5.3">2</tspan><tspan dy="-5.3">N</tspan></text>
<text transform="translate(1525.2 675.2) rotate(20)" y="8">H<tspan font-size="17.3" dy="5.3">2</tspan><tspan dy="-5.3">N</tspan></text>
<text transform="translate(1498.9 702.7) rotate(50)" y="8">H<tspan font-size="17.3" dy="5.3">2</tspan><tspan dy="-5.3">N</tspan></text>
<text transform="translate(1451.4 704) rotate(105)" y="8">H<tspan font-size="17.3" dy="5.3">2</tspan><tspan dy="-5.3">N</tspan></text>
<text transform="translate(1417.6 682.7) rotate(-35)" y="8">NH<tspan font-size="17.3" dy="5.3">2</tspan></text>
<text transform="translate(1407.6 638.9) rotate(0)" y="8">NH<tspan font-size="17.3" dy="5.3">2</tspan></text>
</g>
<ellipse cx="1468.9" cy="638.9" rx="30.1" ry="34.1" fill="#ff50f0" filter="url(#blur1)"/>
<ellipse cx="1468.9" cy="638.9" rx="28.1" ry="32.1" fill="#f4d9f2"/>
<ellipse cx="1469.7" cy="639.8" rx="27.1" ry="31" fill="#8d8090"/>
<ellipse cx="1468.6" cy="638.6" rx="26.3" ry="30.1" fill="url(#gBallL)"/>
<path d="M1788.9 576.3L1797.6 593.8M1796.4 592.1L1820.2 587.1M1797.6 596.3L1820.7 591.3M1797.6 595.1L1788.9 616.3" stroke="#ff1a1a" stroke-width="1.1" fill="none"/>
<path d="M1780.6 638.9L1771.4 658.9M1755.6 667.7L1726.3 676.4M1727.5 675.2L1715 655.1M1723.8 677.7L1711.3 657.6M1726.3 676.4L1721.3 720.2M1721.3 720.2L1763.8 739M1763.8 739L1792.6 702.7M1792.6 702.7L1776.4 676.4M1792.1 701L1815.9 694.7M1793.4 704.7L1817.2 698.4" stroke="#111" stroke-width="1.2" fill="none"/>
<g font-family='"Liberation Serif", "DejaVu Serif", serif' font-size="19.5" font-style="italic" text-anchor="middle">
<text transform="translate(1786.4 565) rotate(12)" y="6.3" fill="#ff1a1a">R</text>
<text transform="translate(1829.7 586.3) rotate(12)" y="6.3" fill="#ff1a1a">O</text>
<text transform="translate(1785.1 627.6) rotate(12)" y="6.3" fill="#ff1a1a">O</text>
<text transform="translate(1767.6 668.9) rotate(12)" y="6.3" fill="#000">N</text>
<text transform="translate(1708 647.6) rotate(12)" y="6.3" fill="#000">O</text>
<text transform="translate(1826.4 693.9) rotate(12)" y="6.3" fill="#000">O</text>
</g>
</g>
</svg></body></html>
